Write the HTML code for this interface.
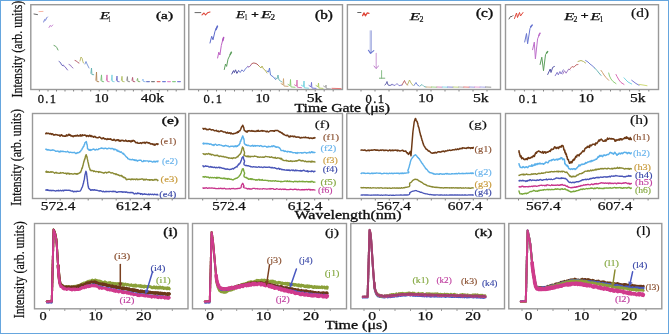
<!DOCTYPE html>
<html><head><meta charset="utf-8"><style>
html,body{margin:0;padding:0;background:#fff;}
#w{position:relative;width:669px;height:334px;overflow:hidden;background:#fff;}
svg text{font-family:"Liberation Serif",serif;}
</style></head><body><div id="w">
<svg style="will-change:transform" width="669" height="334" viewBox="0 0 669 334">
<rect x="0.5" y="0.5" width="668" height="333" fill="#fff" stroke="#66a6de" stroke-width="1"/>
<rect x="30.80" y="4.70" width="153.70" height="84.80" fill="none" stroke="#999999" stroke-width="1.4"/>
<rect x="188.80" y="4.70" width="153.70" height="84.80" fill="none" stroke="#999999" stroke-width="1.4"/>
<rect x="347.40" y="4.70" width="153.10" height="84.80" fill="none" stroke="#999999" stroke-width="1.4"/>
<rect x="505.50" y="4.70" width="153.00" height="84.80" fill="none" stroke="#999999" stroke-width="1.4"/>
<rect x="32.50" y="113.50" width="153.00" height="85.00" fill="none" stroke="#999999" stroke-width="1.4"/>
<rect x="188.80" y="113.50" width="153.70" height="85.00" fill="none" stroke="#999999" stroke-width="1.4"/>
<rect x="346.80" y="113.50" width="153.70" height="85.00" fill="none" stroke="#999999" stroke-width="1.4"/>
<rect x="505.50" y="113.50" width="153.00" height="85.00" fill="none" stroke="#999999" stroke-width="1.4"/>
<rect x="34.50" y="223.50" width="153.50" height="85.30" fill="none" stroke="#999999" stroke-width="1.4"/>
<rect x="192.50" y="223.50" width="154.00" height="85.30" fill="none" stroke="#999999" stroke-width="1.4"/>
<rect x="350.80" y="223.50" width="153.70" height="85.30" fill="none" stroke="#999999" stroke-width="1.4"/>
<rect x="508.80" y="223.50" width="153.00" height="85.30" fill="none" stroke="#999999" stroke-width="1.4"/>
<path d="M39.4,90.0v1.5 M48.0,90.0v1.5 M56.5,90.0v1.5 M65.0,90.0v1.5 M73.6,90.0v1.5 M82.1,90.0v1.5 M90.7,90.0v1.5 M99.2,90.0v1.5 M107.8,90.0v1.5 M116.3,90.0v1.5 M124.9,90.0v1.5 M133.4,90.0v1.5 M142.0,90.0v1.5 M150.6,90.0v1.5 M159.1,90.0v1.5 M167.7,90.0v1.5 M176.2,90.0v1.5" stroke="#777" stroke-width="0.9"/>
<path d="M198.6,90.0v1.5 M207.6,90.0v1.5 M216.5,90.0v1.5 M225.5,90.0v1.5 M234.5,90.0v1.5 M243.4,90.0v1.5 M252.4,90.0v1.5 M261.4,90.0v1.5 M270.4,90.0v1.5 M279.3,90.0v1.5 M288.3,90.0v1.5 M297.3,90.0v1.5 M306.2,90.0v1.5 M315.2,90.0v1.5 M324.2,90.0v1.5 M333.2,90.0v1.5" stroke="#777" stroke-width="0.9"/>
<path d="M361.0,90.0v1.5 M375.0,90.0v1.5 M389.0,90.0v1.5 M403.0,90.0v1.5 M417.0,90.0v1.5 M431.0,90.0v1.5 M445.0,90.0v1.5 M459.0,90.0v1.5 M473.0,90.0v1.5 M487.0,90.0v1.5" stroke="#777" stroke-width="0.9"/>
<path d="M514.8,90.0v1.5 M524.4,90.0v1.5 M533.9,90.0v1.5 M543.5,90.0v1.5 M553.1,90.0v1.5 M562.7,90.0v1.5 M572.2,90.0v1.5 M581.8,90.0v1.5 M591.4,90.0v1.5 M600.9,90.0v1.5 M610.5,90.0v1.5 M620.1,90.0v1.5 M629.6,90.0v1.5 M639.2,90.0v1.5 M648.8,90.0v1.5" stroke="#777" stroke-width="0.9"/>
<path d="M46.2,199.0v1.5 M60.2,199.0v1.5 M74.2,199.0v1.5 M88.2,199.0v1.5 M102.2,199.0v1.5 M116.2,199.0v1.5 M130.2,199.0v1.5 M144.2,199.0v1.5 M158.2,199.0v1.5 M172.2,199.0v1.5" stroke="#777" stroke-width="0.9"/>
<path d="M202.7,199.0v1.5 M216.7,199.0v1.5 M230.7,199.0v1.5 M244.7,199.0v1.5 M258.7,199.0v1.5 M272.7,199.0v1.5 M286.7,199.0v1.5 M300.7,199.0v1.5 M314.7,199.0v1.5 M328.7,199.0v1.5" stroke="#777" stroke-width="0.9"/>
<path d="M361.3,199.0v1.5 M375.3,199.0v1.5 M389.3,199.0v1.5 M403.3,199.0v1.5 M417.3,199.0v1.5 M431.3,199.0v1.5 M445.3,199.0v1.5 M459.3,199.0v1.5 M473.3,199.0v1.5 M487.3,199.0v1.5" stroke="#777" stroke-width="0.9"/>
<path d="M518.5,199.0v1.5 M532.9,199.0v1.5 M547.3,199.0v1.5 M561.7,199.0v1.5 M576.1,199.0v1.5 M590.5,199.0v1.5 M604.9,199.0v1.5 M619.3,199.0v1.5 M633.7,199.0v1.5 M648.1,199.0v1.5" stroke="#777" stroke-width="0.9"/>
<path d="M49.5,309.3v1.5 M64.8,309.3v1.5 M80.2,309.3v1.5 M95.5,309.3v1.5 M110.9,309.3v1.5 M126.2,309.3v1.5 M141.6,309.3v1.5 M156.9,309.3v1.5 M172.3,309.3v1.5" stroke="#777" stroke-width="0.9"/>
<path d="M205.5,309.3v1.5 M221.1,309.3v1.5 M236.7,309.3v1.5 M252.3,309.3v1.5 M267.9,309.3v1.5 M283.5,309.3v1.5 M299.1,309.3v1.5 M314.7,309.3v1.5 M330.3,309.3v1.5" stroke="#777" stroke-width="0.9"/>
<path d="M364.0,309.3v1.5 M379.5,309.3v1.5 M395.0,309.3v1.5 M410.5,309.3v1.5 M426.0,309.3v1.5 M441.5,309.3v1.5 M457.0,309.3v1.5 M472.5,309.3v1.5 M488.0,309.3v1.5" stroke="#777" stroke-width="0.9"/>
<path d="M522.0,309.3v1.5 M537.5,309.3v1.5 M553.0,309.3v1.5 M568.5,309.3v1.5 M584.0,309.3v1.5 M599.5,309.3v1.5 M615.0,309.3v1.5 M630.5,309.3v1.5 M646.0,309.3v1.5" stroke="#777" stroke-width="0.9"/>
<text x="37.7" y="102.6" font-size="12.5" font-weight="normal" font-style="normal" fill="#111" stroke="#111" stroke-width="0.3" textLength="18.4" lengthAdjust="spacing">0.1</text>
<text x="94.5" y="102.0" font-size="12.5" font-weight="normal" font-style="normal" fill="#111" stroke="#111" stroke-width="0.25" textLength="14.2" lengthAdjust="spacingAndGlyphs">10</text>
<text x="140.8" y="102.0" font-size="12.5" font-weight="normal" font-style="normal" fill="#111" stroke="#111" stroke-width="0.25" textLength="23.2" lengthAdjust="spacingAndGlyphs">40k</text>
<text x="203.4" y="102.6" font-size="12.5" font-weight="normal" font-style="normal" fill="#111" stroke="#111" stroke-width="0.3" textLength="18.5" lengthAdjust="spacing">0.1</text>
<text x="255.4" y="102.0" font-size="12.5" font-weight="normal" font-style="normal" fill="#111" stroke="#111" stroke-width="0.25" textLength="14.3" lengthAdjust="spacingAndGlyphs">10</text>
<text x="306.8" y="102.0" font-size="12.5" font-weight="normal" font-style="normal" fill="#111" stroke="#111" stroke-width="0.25" textLength="15.6" lengthAdjust="spacingAndGlyphs">5k</text>
<text x="365.6" y="102.6" font-size="12.5" font-weight="normal" font-style="normal" fill="#111" stroke="#111" stroke-width="0.3" textLength="18.5" lengthAdjust="spacing">0.1</text>
<text x="418.0" y="102.0" font-size="12.5" font-weight="normal" font-style="normal" fill="#111" stroke="#111" stroke-width="0.25" textLength="15.7" lengthAdjust="spacingAndGlyphs">10</text>
<text x="473.0" y="102.0" font-size="12.5" font-weight="normal" font-style="normal" fill="#111" stroke="#111" stroke-width="0.25" textLength="15.7" lengthAdjust="spacingAndGlyphs">5k</text>
<text x="518.8" y="102.6" font-size="12.5" font-weight="normal" font-style="normal" fill="#111" stroke="#111" stroke-width="0.3" textLength="18.5" lengthAdjust="spacing">0.1</text>
<text x="578.6" y="102.0" font-size="12.5" font-weight="normal" font-style="normal" fill="#111" stroke="#111" stroke-width="0.25" textLength="15.4" lengthAdjust="spacingAndGlyphs">10</text>
<text x="630.0" y="102.0" font-size="12.5" font-weight="normal" font-style="normal" fill="#111" stroke="#111" stroke-width="0.25" textLength="15.5" lengthAdjust="spacingAndGlyphs">5k</text>
<text x="40.8" y="209.6" font-size="12.5" font-weight="normal" font-style="normal" fill="#111" stroke="#111" stroke-width="0.25" textLength="34.6" lengthAdjust="spacingAndGlyphs">572.4</text>
<text x="116.0" y="209.6" font-size="12.5" font-weight="normal" font-style="normal" fill="#111" stroke="#111" stroke-width="0.25" textLength="34.8" lengthAdjust="spacingAndGlyphs">612.4</text>
<text x="212.3" y="209.6" font-size="12.5" font-weight="normal" font-style="normal" fill="#111" stroke="#111" stroke-width="0.25" textLength="33.5" lengthAdjust="spacingAndGlyphs">572.4</text>
<text x="287.7" y="209.6" font-size="12.5" font-weight="normal" font-style="normal" fill="#111" stroke="#111" stroke-width="0.25" textLength="34.7" lengthAdjust="spacingAndGlyphs">612.4</text>
<text x="376.6" y="209.6" font-size="12.5" font-weight="normal" font-style="normal" fill="#111" stroke="#111" stroke-width="0.25" textLength="34.4" lengthAdjust="spacingAndGlyphs">567.4</text>
<text x="447.8" y="209.6" font-size="12.5" font-weight="normal" font-style="normal" fill="#111" stroke="#111" stroke-width="0.25" textLength="34.7" lengthAdjust="spacingAndGlyphs">607.4</text>
<text x="526.0" y="209.6" font-size="12.5" font-weight="normal" font-style="normal" fill="#111" stroke="#111" stroke-width="0.25" textLength="34.6" lengthAdjust="spacingAndGlyphs">567.4</text>
<text x="597.7" y="209.6" font-size="12.5" font-weight="normal" font-style="normal" fill="#111" stroke="#111" stroke-width="0.25" textLength="34.7" lengthAdjust="spacingAndGlyphs">607.4</text>
<text x="39.4" y="320.0" font-size="12.5" font-weight="normal" font-style="normal" fill="#111" stroke="#111" stroke-width="0.25" textLength="7.2" lengthAdjust="spacingAndGlyphs">0</text>
<text x="88.4" y="320.0" font-size="12.5" font-weight="normal" font-style="normal" fill="#111" stroke="#111" stroke-width="0.25" textLength="14.4" lengthAdjust="spacingAndGlyphs">10</text>
<text x="136.0" y="320.0" font-size="12.5" font-weight="normal" font-style="normal" fill="#111" stroke="#111" stroke-width="0.25" textLength="15.6" lengthAdjust="spacingAndGlyphs">20</text>
<text x="206.3" y="320.0" font-size="12.5" font-weight="normal" font-style="normal" fill="#111" stroke="#111" stroke-width="0.25" textLength="7.7" lengthAdjust="spacingAndGlyphs">0</text>
<text x="255.8" y="320.0" font-size="12.5" font-weight="normal" font-style="normal" fill="#111" stroke="#111" stroke-width="0.25" textLength="15.5" lengthAdjust="spacingAndGlyphs">10</text>
<text x="303.0" y="320.0" font-size="12.5" font-weight="normal" font-style="normal" fill="#111" stroke="#111" stroke-width="0.25" textLength="16.0" lengthAdjust="spacingAndGlyphs">20</text>
<text x="368.3" y="320.0" font-size="12.5" font-weight="normal" font-style="normal" fill="#111" stroke="#111" stroke-width="0.25" textLength="7.9" lengthAdjust="spacingAndGlyphs">0</text>
<text x="417.4" y="320.0" font-size="12.5" font-weight="normal" font-style="normal" fill="#111" stroke="#111" stroke-width="0.25" textLength="15.6" lengthAdjust="spacingAndGlyphs">10</text>
<text x="465.2" y="320.0" font-size="12.5" font-weight="normal" font-style="normal" fill="#111" stroke="#111" stroke-width="0.25" textLength="15.6" lengthAdjust="spacingAndGlyphs">20</text>
<text x="524.7" y="320.0" font-size="12.5" font-weight="normal" font-style="normal" fill="#111" stroke="#111" stroke-width="0.25" textLength="7.6" lengthAdjust="spacingAndGlyphs">0</text>
<text x="573.7" y="320.0" font-size="12.5" font-weight="normal" font-style="normal" fill="#111" stroke="#111" stroke-width="0.25" textLength="15.6" lengthAdjust="spacingAndGlyphs">10</text>
<text x="621.3" y="320.0" font-size="12.5" font-weight="normal" font-style="normal" fill="#111" stroke="#111" stroke-width="0.25" textLength="15.8" lengthAdjust="spacingAndGlyphs">20</text>
<text x="294.5" y="111.5" font-size="11.5" font-weight="normal" font-style="normal" fill="#111" stroke="#111" stroke-width="0.3" textLength="95.5" lengthAdjust="spacingAndGlyphs">Time Gate (μs)</text>
<text x="294.5" y="218.5" font-size="11.5" font-weight="normal" font-style="normal" fill="#111" stroke="#111" stroke-width="0.3" textLength="107.0" lengthAdjust="spacingAndGlyphs">Wavelength(nm)</text>
<text x="325.0" y="328.8" font-size="11.5" font-weight="normal" font-style="normal" fill="#111" stroke="#111" stroke-width="0.3" textLength="62.5" lengthAdjust="spacingAndGlyphs">Time (μs)</text>
<g transform="translate(22.3,97.4) rotate(-90) scale(1,1.25)"><text x="0" y="0" font-size="11.7" fill="#111" stroke="#111" stroke-width="0.2" textLength="96.7" lengthAdjust="spacingAndGlyphs">Intensity (arb. units)</text></g>
<g transform="translate(20.6,205.7) rotate(-90) scale(1,1.25)"><text x="0" y="0" font-size="11.7" fill="#111" stroke="#111" stroke-width="0.2" textLength="96.6" lengthAdjust="spacingAndGlyphs">Intensity (arb. units)</text></g>
<g transform="translate(24.1,318.3) rotate(-90) scale(1,1.25)"><text x="0" y="0" font-size="11.7" fill="#111" stroke="#111" stroke-width="0.2" textLength="97.1" lengthAdjust="spacingAndGlyphs">Intensity (arb. units)</text></g>
<text x="156.0" y="19.1" font-size="11.32" font-weight="normal" font-style="normal" fill="#111" stroke="#111" stroke-width="0.4" textLength="17.0" lengthAdjust="spacingAndGlyphs">(a)</text>
<text x="315.1" y="19.0" font-size="11.65" font-weight="normal" font-style="normal" fill="#111" stroke="#111" stroke-width="0.4" textLength="17.7" lengthAdjust="spacingAndGlyphs">(b)</text>
<text x="476.0" y="16.9" font-size="11.98" font-weight="normal" font-style="normal" fill="#111" stroke="#111" stroke-width="0.4" textLength="17.0" lengthAdjust="spacingAndGlyphs">(c)</text>
<text x="631.1" y="16.8" font-size="12.31" font-weight="normal" font-style="normal" fill="#111" stroke="#111" stroke-width="0.2" textLength="17.9" lengthAdjust="spacingAndGlyphs">(d)</text>
<text x="161.8" y="124.1" font-size="11.21" font-weight="normal" font-style="normal" fill="#111" stroke="#111" stroke-width="0.4" textLength="17.2" lengthAdjust="spacingAndGlyphs">(e)</text>
<text x="314.7" y="127.7" font-size="10.55" font-weight="normal" font-style="normal" fill="#111" stroke="#111" stroke-width="0.15" textLength="15.0" lengthAdjust="spacingAndGlyphs">(f)</text>
<text x="468.8" y="128.1" font-size="11.1" font-weight="normal" font-style="normal" fill="#111" stroke="#111" stroke-width="0.15" textLength="18.1" lengthAdjust="spacingAndGlyphs">(g)</text>
<text x="630.1" y="124.2" font-size="11.54" font-weight="normal" font-style="normal" fill="#111" stroke="#111" stroke-width="0.15" textLength="18.1" lengthAdjust="spacingAndGlyphs">(h)</text>
<text x="163.3" y="235.7" font-size="11.43" font-weight="normal" font-style="normal" fill="#111" stroke="#111" stroke-width="0.35" textLength="14.4" lengthAdjust="spacingAndGlyphs">(i)</text>
<text x="324.9" y="235.7" font-size="11.32" font-weight="normal" font-style="normal" fill="#111" stroke="#111" stroke-width="0.25" textLength="14.1" lengthAdjust="spacingAndGlyphs">(j)</text>
<text x="474.6" y="235.7" font-size="11.32" font-weight="normal" font-style="normal" fill="#111" stroke="#111" stroke-width="0.35" textLength="17.7" lengthAdjust="spacingAndGlyphs">(k)</text>
<text x="636.3" y="234.9" font-size="11.98" font-weight="normal" font-style="normal" fill="#111" stroke="#111" stroke-width="0.15" textLength="14.4" lengthAdjust="spacingAndGlyphs">(l)</text>
<text x="100.0" y="19.3" font-size="10.5" font-weight="normal" font-style="italic" fill="#111" stroke="#111" stroke-width="0.25" textLength="9.6" lengthAdjust="spacingAndGlyphs">E</text>
<text x="108.6" y="21.6" font-size="7.4" font-weight="normal" font-style="normal" fill="#111" stroke="#111" stroke-width="0.2" textLength="2.3" lengthAdjust="spacingAndGlyphs">1</text>
<text x="236.0" y="17.6" font-size="10.5" font-weight="normal" font-style="italic" fill="#111" stroke="#111" stroke-width="0.25" textLength="9.0" lengthAdjust="spacingAndGlyphs">E</text>
<text x="244.6" y="19.6" font-size="7.4" font-weight="normal" font-style="normal" fill="#111" stroke="#111" stroke-width="0.2" textLength="3.0" lengthAdjust="spacingAndGlyphs">1</text>
<text x="251.2" y="17.6" font-size="10.5" font-weight="normal" font-style="normal" fill="#111" stroke="#111" stroke-width="0.45" textLength="7.5" lengthAdjust="spacingAndGlyphs">+</text>
<text x="261.0" y="17.6" font-size="10.5" font-weight="normal" font-style="italic" fill="#111" stroke="#111" stroke-width="0.25" textLength="10.4" lengthAdjust="spacingAndGlyphs">E</text>
<text x="270.6" y="19.8" font-size="7.4" font-weight="normal" font-style="normal" fill="#111" stroke="#111" stroke-width="0.2" textLength="4.6" lengthAdjust="spacingAndGlyphs">2</text>
<text x="409.8" y="20.2" font-size="10.5" font-weight="normal" font-style="italic" fill="#111" stroke="#111" stroke-width="0.25" textLength="10.4" lengthAdjust="spacingAndGlyphs">E</text>
<text x="419.4" y="22.2" font-size="7.4" font-weight="normal" font-style="normal" fill="#111" stroke="#111" stroke-width="0.2" textLength="4.0" lengthAdjust="spacingAndGlyphs">2</text>
<text x="564.3" y="19.5" font-size="10.5" font-weight="normal" font-style="italic" fill="#111" stroke="#111" stroke-width="0.25" textLength="10.0" lengthAdjust="spacingAndGlyphs">E</text>
<text x="573.5" y="21.6" font-size="7.4" font-weight="normal" font-style="normal" fill="#111" stroke="#111" stroke-width="0.2" textLength="3.9" lengthAdjust="spacingAndGlyphs">2</text>
<text x="580.8" y="19.2" font-size="10.5" font-weight="normal" font-style="normal" fill="#111" stroke="#111" stroke-width="0.45" textLength="7.8" lengthAdjust="spacingAndGlyphs">+</text>
<text x="590.4" y="19.5" font-size="10.5" font-weight="normal" font-style="italic" fill="#111" stroke="#111" stroke-width="0.25" textLength="10.0" lengthAdjust="spacingAndGlyphs">E</text>
<text x="599.6" y="21.6" font-size="7.4" font-weight="normal" font-style="normal" fill="#111" stroke="#111" stroke-width="0.2" textLength="3.9" lengthAdjust="spacingAndGlyphs">1</text>
<polyline points="34.0,14.0 37.5,14.6" fill="none" stroke="#494949" stroke-width="0.85" stroke-linejoin="round" stroke-linecap="round"/>
<polyline points="39.0,11.6 43.0,11.4" fill="none" stroke="#f29f89" stroke-width="0.77" stroke-linejoin="round" stroke-linecap="round"/>
<polyline points="43.7,22.0 44.6,19.5 45.5,20.3 46.5,18.0 47.5,17.0" fill="none" stroke="#6a77d1" stroke-width="0.94" stroke-linejoin="round" stroke-linecap="round"/>
<polyline points="49.0,27.5 50.3,25.4 51.3,26.6 52.7,25.0" fill="none" stroke="#be6fcb" stroke-width="0.85" stroke-linejoin="round" stroke-linecap="round"/>
<polyline points="54.0,45.5 55.6,46.2 56.8,47.6 58.0,50.0" fill="none" stroke="#5d9f5d" stroke-width="0.94" stroke-linejoin="round" stroke-linecap="round"/>
<polyline points="59.0,61.5 60.5,62.5 61.5,64.8 63.0,65.8" fill="none" stroke="#5d5db7" stroke-width="0.94" stroke-linejoin="round" stroke-linecap="round"/>
<polyline points="63.2,65.0 64.8,66.5 66.0,68.0 67.5,70.0" fill="none" stroke="#7762be" stroke-width="0.94" stroke-linejoin="round" stroke-linecap="round"/>
<polyline points="69.0,64.5 70.5,65.2 71.5,66.8 73.0,68.0" fill="none" stroke="#8962b7" stroke-width="0.85" stroke-linejoin="round" stroke-linecap="round"/>
<polyline points="75.0,60.5 76.5,61.0 77.8,62.5 79.0,63.0" fill="none" stroke="#b15562" stroke-width="0.94" stroke-linejoin="round" stroke-linecap="round"/>
<polyline points="80.0,61.0 81.0,57.0 82.2,58.5 82.8,61.5 83.5,63.0" fill="none" stroke="#b1b155" stroke-width="0.85" stroke-linejoin="round" stroke-linecap="round"/>
<polyline points="85.0,64.0 86.0,61.5 87.0,64.0 88.0,66.0 89.0,68.0" fill="none" stroke="#6a89d1" stroke-width="0.85" stroke-linejoin="round" stroke-linecap="round"/>
<polyline points="90.9,73.3 91.5,68.0 91.9,74.5 93.7,74.7" fill="none" stroke="#62b1b1" stroke-width="0.9" stroke-linejoin="round" stroke-linecap="round"/>
<polyline points="95.9,80.3 96.5,72.0 96.9,81.5 98.7,81.7" fill="none" stroke="#b18455" stroke-width="0.9" stroke-linejoin="round" stroke-linecap="round"/>
<polyline points="100.9,80.3 101.5,74.9 101.9,81.5 103.7,81.7" fill="none" stroke="#76be76" stroke-width="0.9" stroke-linejoin="round" stroke-linecap="round"/>
<polyline points="106.4,80.3 107.0,74.9 107.4,81.5 109.2,81.7" fill="none" stroke="#d86fb1" stroke-width="0.9" stroke-linejoin="round" stroke-linecap="round"/>
<polyline points="111.4,80.3 112.0,74.9 112.4,81.5 114.2,81.7" fill="none" stroke="#7cd1df" stroke-width="0.9" stroke-linejoin="round" stroke-linecap="round"/>
<polyline points="116.4,80.3 117.0,76.0 117.4,81.5 119.2,81.7" fill="none" stroke="#6f6fcb" stroke-width="0.9" stroke-linejoin="round" stroke-linecap="round"/>
<polyline points="121.4,80.3 122.0,76.3 122.4,81.5 124.2,81.7" fill="none" stroke="#b1be62" stroke-width="0.9" stroke-linejoin="round" stroke-linecap="round"/>
<polyline points="126.8,80.3 127.4,76.6 127.8,81.5 129.6,81.7" fill="none" stroke="#898989" stroke-width="0.9" stroke-linejoin="round" stroke-linecap="round"/>
<polyline points="132.0,80.3 132.6,77.4 133.0,81.5 134.8,81.7" fill="none" stroke="#b1556f" stroke-width="0.9" stroke-linejoin="round" stroke-linecap="round"/>
<polyline points="137.0,80.3 137.6,78.4 138.0,81.5 139.8,81.7" fill="none" stroke="#7cb162" stroke-width="0.9" stroke-linejoin="round" stroke-linecap="round"/>
<polyline points="142.4,80.3 143.0,79.1 143.4,81.5 145.2,81.7" fill="none" stroke="#89b7ec" stroke-width="0.9" stroke-linejoin="round" stroke-linecap="round"/>
<polyline points="146.6,81.6 149.4,81.6" fill="none" stroke="#6f7ccb" stroke-width="1.1" stroke-linejoin="round" stroke-linecap="round"/>
<polyline points="151.6,81.6 154.4,81.6" fill="none" stroke="#7c7c7c" stroke-width="1.1" stroke-linejoin="round" stroke-linecap="round"/>
<polyline points="157.2,81.6 160.0,81.6" fill="none" stroke="#e56f6f" stroke-width="1.1" stroke-linejoin="round" stroke-linecap="round"/>
<polyline points="162.6,81.6 165.4,81.6" fill="none" stroke="#6f7cd8" stroke-width="1.1" stroke-linejoin="round" stroke-linecap="round"/>
<polyline points="167.6,81.6 170.4,81.6" fill="none" stroke="#e589cb" stroke-width="1.1" stroke-linejoin="round" stroke-linecap="round"/>
<polyline points="172.6,81.6 175.4,81.6" fill="none" stroke="#89cb89" stroke-width="1.1" stroke-linejoin="round" stroke-linecap="round"/>
<polyline points="177.6,81.6 180.4,81.6" fill="none" stroke="#7c7cd8" stroke-width="1.1" stroke-linejoin="round" stroke-linecap="round"/>
<polyline points="195.0,12.6 200.8,12.6" fill="none" stroke="#494949" stroke-width="0.85" stroke-linejoin="round" stroke-linecap="round"/>
<polyline points="202.0,14.8 204.0,13.0 205.5,15.0 207.5,12.8 210.0,12.0" fill="none" stroke="#df483b" stroke-width="1.1" stroke-linejoin="round" stroke-linecap="round"/>
<polyline points="210.0,43.0 211.7,36.3 213.0,39.8 215.0,31.2 216.8,27.2" fill="none" stroke="#5d6acb" stroke-width="1.0" stroke-linejoin="round" stroke-linecap="round"/>
<polyline points="216.0,29.5 217.4,26.2" fill="none" stroke="#5d6acb" stroke-width="1.6" stroke-linejoin="round" stroke-linecap="round"/>
<polyline points="217.6,58.0 218.8,52.2 219.9,55.0 221.3,45.5 223.1,38.6" fill="none" stroke="#be62c4" stroke-width="1.0" stroke-linejoin="round" stroke-linecap="round"/>
<polyline points="222.8,40.5 223.6,37.6" fill="none" stroke="#b155be" stroke-width="1.6" stroke-linejoin="round" stroke-linecap="round"/>
<polyline points="224.3,69.5 225.5,64.0 226.6,66.4 228.0,59.2 231.0,53.0" fill="none" stroke="#5d9f5d" stroke-width="1.0" stroke-linejoin="round" stroke-linecap="round"/>
<polyline points="230.2,54.5 231.4,52.2" fill="none" stroke="#5d9f5d" stroke-width="1.5" stroke-linejoin="round" stroke-linecap="round"/>
<polyline points="231.8,74.0 233.5,70.6 234.4,72.6 235.5,69.8 236.9,73.4 238.6,70.6" fill="none" stroke="#5050a3" stroke-width="1.0" stroke-linejoin="round" stroke-linecap="round"/>
<polyline points="238.6,70.6 240.2,72.5 241.9,69.8 243.6,71.6 245.3,69.0 247.8,66.5" fill="none" stroke="#6f7cd1" stroke-width="0.95" stroke-linejoin="round" stroke-linecap="round"/>
<polyline points="247.8,66.5 249.0,67.2 251.0,65.0" fill="none" stroke="#9662b1" stroke-width="0.95" stroke-linejoin="round" stroke-linecap="round"/>
<polyline points="251.0,64.5 253.0,63.0 255.0,63.2 257.0,64.0 259.0,66.0" fill="none" stroke="#b15555" stroke-width="0.94" stroke-linejoin="round" stroke-linecap="round"/>
<polyline points="259.0,66.0 261.0,68.0 262.0,66.0 263.5,69.0 265.0,70.0 267.0,73.0" fill="none" stroke="#b1b155" stroke-width="0.94" stroke-linejoin="round" stroke-linecap="round"/>
<polyline points="267.0,71.0 268.5,72.0 269.5,68.0 270.5,75.0 272.0,76.0 273.5,77.0 275.5,79.5" fill="none" stroke="#5d77d1" stroke-width="0.94" stroke-linejoin="round" stroke-linecap="round"/>
<polyline points="275.5,78.0 277.0,79.0 278.0,75.0 279.0,80.0 282.0,82.0" fill="none" stroke="#62b1b1" stroke-width="0.85" stroke-linejoin="round" stroke-linecap="round"/>
<polyline points="281.0,83.5 283.0,84.8 283.5,78.6 283.9,86.0 288.0,86.4" fill="none" stroke="#cba36f" stroke-width="0.9" stroke-linejoin="round" stroke-linecap="round"/>
<polyline points="288.0,84.4 290.0,85.7 290.5,79.5 290.9,86.9 295.0,87.3" fill="none" stroke="#89cb6f" stroke-width="0.9" stroke-linejoin="round" stroke-linecap="round"/>
<polyline points="294.5,84.8 296.5,86.1 297.0,80.0 297.4,87.3 301.5,87.7" fill="none" stroke="#d86fb1" stroke-width="0.9" stroke-linejoin="round" stroke-linecap="round"/>
<polyline points="301.5,85.3 303.5,86.6 304.0,81.0 304.4,87.8 308.5,88.2" fill="none" stroke="#6fd1df" stroke-width="0.9" stroke-linejoin="round" stroke-linecap="round"/>
<polyline points="309.0,85.5 311.0,86.8 311.5,82.4 311.9,88.0 316.0,88.4" fill="none" stroke="#6f6fd1" stroke-width="0.9" stroke-linejoin="round" stroke-linecap="round"/>
<polyline points="316.0,85.5 318.0,86.8 318.5,83.0 318.9,88.0 323.0,88.4" fill="none" stroke="#b1cb62" stroke-width="0.9" stroke-linejoin="round" stroke-linecap="round"/>
<polyline points="323.5,86.0 325.5,87.3 326.0,85.0 326.4,88.5 330.5,88.9" fill="none" stroke="#a3a3a3" stroke-width="0.9" stroke-linejoin="round" stroke-linecap="round"/>
<polyline points="332.0,88.3 341.0,88.6" fill="none" stroke="#e56262" stroke-width="0.85" stroke-linejoin="round" stroke-linecap="round"/>
<polyline points="357.7,12.5 361.0,12.5" fill="none" stroke="#494949" stroke-width="0.85" stroke-linejoin="round" stroke-linecap="round"/>
<polyline points="362.6,15.6 364.0,12.9 365.4,15.8 367.3,12.9 369.0,13.4" fill="none" stroke="#df483b" stroke-width="1.3" stroke-linejoin="round" stroke-linecap="round"/>
<polyline points="370.2,30.8 370.2,52.8" fill="none" stroke="#acb4e2" stroke-width="1.0" stroke-linejoin="round" stroke-linecap="round"/>
<polyline points="371.3,30.8 371.3,52.8" fill="none" stroke="#9fa8df" stroke-width="1.0" stroke-linejoin="round" stroke-linecap="round"/>
<polyline points="368.4,50.3 370.6,53.4 373.8,50.6" fill="none" stroke="#6a77d1" stroke-width="1.1" stroke-linejoin="round" stroke-linecap="round"/>
<polyline points="376.2,53.4 376.2,68.3" fill="none" stroke="#d1a3d8" stroke-width="1.1" stroke-linejoin="round" stroke-linecap="round"/>
<polyline points="374.0,66.0 376.0,68.5 378.6,66.0" fill="none" stroke="#be7ccb" stroke-width="1.0" stroke-linejoin="round" stroke-linecap="round"/>
<polyline points="381.6,70.6 381.6,78.2" fill="none" stroke="#89be89" stroke-width="1.0" stroke-linejoin="round" stroke-linecap="round"/>
<polyline points="379.4,78.2 384.8,78.2" fill="none" stroke="#7cb17c" stroke-width="1.0" stroke-linejoin="round" stroke-linecap="round"/>
<polyline points="384.8,85.0 386.0,84.0 387.0,81.5 388.0,85.0 390.0,85.5 392.0,84.5" fill="none" stroke="#5050a3" stroke-width="0.85" stroke-linejoin="round" stroke-linecap="round"/>
<polyline points="392.0,84.5 395.0,85.5 397.0,83.5 399.0,85.7 402.0,85.0" fill="none" stroke="#776fcb" stroke-width="0.85" stroke-linejoin="round" stroke-linecap="round"/>
<polyline points="402.0,85.0 404.5,80.5 405.5,83.0 407.4,85.0" fill="none" stroke="#b15555" stroke-width="0.85" stroke-linejoin="round" stroke-linecap="round"/>
<polyline points="407.4,85.0 409.5,80.0 411.0,83.0 413.0,85.5" fill="none" stroke="#b1b155" stroke-width="0.85" stroke-linejoin="round" stroke-linecap="round"/>
<polyline points="414.0,85.5 416.0,82.5 417.0,84.5 419.0,86.0" fill="none" stroke="#5d77d1" stroke-width="0.85" stroke-linejoin="round" stroke-linecap="round"/>
<polyline points="420.0,86.0 422.0,84.5 424.0,86.5 426.0,87.0" fill="none" stroke="#62b1b1" stroke-width="0.85" stroke-linejoin="round" stroke-linecap="round"/>
<polyline points="426.0,87.0 431.4,87.2" fill="none" stroke="#cba36f" stroke-width="1.0" stroke-linejoin="round" stroke-linecap="round" opacity="0.8"/>
<polyline points="431.4,87.0 436.8,87.2" fill="none" stroke="#89cb6f" stroke-width="1.0" stroke-linejoin="round" stroke-linecap="round" opacity="0.8"/>
<polyline points="436.8,87.0 442.2,87.2" fill="none" stroke="#d86fb1" stroke-width="1.0" stroke-linejoin="round" stroke-linecap="round" opacity="0.8"/>
<polyline points="442.2,87.0 447.6,87.2" fill="none" stroke="#6fd1df" stroke-width="1.0" stroke-linejoin="round" stroke-linecap="round" opacity="0.8"/>
<polyline points="447.6,87.0 453.0,87.2" fill="none" stroke="#6f6fd1" stroke-width="1.0" stroke-linejoin="round" stroke-linecap="round" opacity="0.8"/>
<polyline points="453.0,87.0 458.4,87.2" fill="none" stroke="#b1cb62" stroke-width="1.0" stroke-linejoin="round" stroke-linecap="round" opacity="0.8"/>
<polyline points="458.4,87.0 463.8,87.2" fill="none" stroke="#a3a3a3" stroke-width="1.0" stroke-linejoin="round" stroke-linecap="round" opacity="0.8"/>
<polyline points="463.8,87.0 469.2,87.2" fill="none" stroke="#e56262" stroke-width="1.0" stroke-linejoin="round" stroke-linecap="round" opacity="0.8"/>
<polyline points="469.2,87.0 474.6,87.2" fill="none" stroke="#8989d8" stroke-width="1.0" stroke-linejoin="round" stroke-linecap="round" opacity="0.8"/>
<polyline points="474.6,87.0 480.0,87.2" fill="none" stroke="#e589cb" stroke-width="1.0" stroke-linejoin="round" stroke-linecap="round" opacity="0.8"/>
<polyline points="480.0,87.0 485.4,87.2" fill="none" stroke="#9696e5" stroke-width="1.0" stroke-linejoin="round" stroke-linecap="round" opacity="0.8"/>
<polyline points="485.4,87.0 490.8,87.2" fill="none" stroke="#7c7c7c" stroke-width="1.0" stroke-linejoin="round" stroke-linecap="round" opacity="0.8"/>
<polyline points="509.0,19.0 510.5,16.5 512.0,16.5 513.0,15.5" fill="none" stroke="#494949" stroke-width="0.85" stroke-linejoin="round" stroke-linecap="round"/>
<polyline points="514.5,18.5 516.5,13.0 517.5,17.5 519.5,12.5 520.5,16.0 523.0,12.5" fill="none" stroke="#df483b" stroke-width="1.0" stroke-linejoin="round" stroke-linecap="round"/>
<polyline points="524.7,42.0 526.5,33.5 527.6,43.8 530.0,28.5 532.2,25.0" fill="none" stroke="#6a77d1" stroke-width="1.0" stroke-linejoin="round" stroke-linecap="round"/>
<polyline points="530.6,27.0 532.0,25.2" fill="none" stroke="#6a77d1" stroke-width="1.5" stroke-linejoin="round" stroke-linecap="round"/>
<polyline points="532.6,49.7 534.3,42.1 535.4,58.9 537.6,38.8 539.8,33.7" fill="none" stroke="#be6fcb" stroke-width="1.0" stroke-linejoin="round" stroke-linecap="round"/>
<polyline points="538.8,35.5 540.0,33.2" fill="none" stroke="#be6fcb" stroke-width="1.5" stroke-linejoin="round" stroke-linecap="round"/>
<polyline points="540.1,64.5 541.8,57.2 543.5,70.7 545.5,54.7 547.4,51.8" fill="none" stroke="#5d9f5d" stroke-width="1.0" stroke-linejoin="round" stroke-linecap="round"/>
<polyline points="546.6,53.0 547.6,51.6" fill="none" stroke="#5d9f5d" stroke-width="1.5" stroke-linejoin="round" stroke-linecap="round"/>
<polyline points="547.7,74.5 550.2,69.0 551.0,72.5 552.7,67.3 554.4,66.5" fill="none" stroke="#5050a3" stroke-width="0.95" stroke-linejoin="round" stroke-linecap="round"/>
<polyline points="555.2,75.7 557.2,72.3 558.3,74.9 559.9,71.5 561.1,74.0 563.3,69.8" fill="none" stroke="#8477cb" stroke-width="0.95" stroke-linejoin="round" stroke-linecap="round"/>
<polyline points="562.8,74.0 564.5,70.7 566.1,73.2 568.7,69.0 570.0,69.8" fill="none" stroke="#966fbe" stroke-width="0.9" stroke-linejoin="round" stroke-linecap="round"/>
<polyline points="570.0,69.0 572.0,66.5 574.0,67.2 576.0,64.9 578.0,64.5" fill="none" stroke="#be6262" stroke-width="0.9" stroke-linejoin="round" stroke-linecap="round"/>
<polyline points="578.0,61.5 581.0,60.5 583.5,61.5 585.6,63.0" fill="none" stroke="#b1b155" stroke-width="0.94" stroke-linejoin="round" stroke-linecap="round"/>
<polyline points="585.6,60.5 588.0,62.0 590.0,64.0 592.0,65.5 594.7,68.0" fill="none" stroke="#6a77d1" stroke-width="0.94" stroke-linejoin="round" stroke-linecap="round"/>
<polyline points="594.7,68.0 597.0,70.5 599.0,73.0 601.0,75.4" fill="none" stroke="#62b1b1" stroke-width="0.94" stroke-linejoin="round" stroke-linecap="round"/>
<polyline points="601.0,70.4 602.5,72.5 604.0,75.0 606.0,77.5 608.7,80.3" fill="none" stroke="#cb9662" stroke-width="0.94" stroke-linejoin="round" stroke-linecap="round"/>
<polyline points="608.7,73.0 609.5,76.0 611.0,79.0 613.0,81.5 616.0,83.6" fill="none" stroke="#89cb6f" stroke-width="0.94" stroke-linejoin="round" stroke-linecap="round"/>
<polyline points="616.0,74.5 617.0,76.5 619.0,80.0 621.0,82.5 624.0,84.4" fill="none" stroke="#d862b1" stroke-width="0.94" stroke-linejoin="round" stroke-linecap="round"/>
<polyline points="624.0,77.8 626.0,80.0 628.0,82.0 631.7,84.0" fill="none" stroke="#6fd1df" stroke-width="0.94" stroke-linejoin="round" stroke-linecap="round"/>
<polyline points="631.7,80.3 634.0,82.0 636.0,83.5 639.0,85.2" fill="none" stroke="#6f6fd1" stroke-width="0.94" stroke-linejoin="round" stroke-linecap="round"/>
<polyline points="639.0,84.4 643.0,85.0 647.0,85.7" fill="none" stroke="#cbd86f" stroke-width="0.94" stroke-linejoin="round" stroke-linecap="round"/>
<polyline points="45.8,133.7 46.1,133.2 46.5,133.0 47.0,133.6 47.5,133.4 48.1,133.5 48.7,133.3 49.3,133.7 49.9,133.9 50.6,133.5 51.3,134.3 52.0,133.8 52.8,134.0 53.5,134.9 54.2,134.9 55.0,134.9 55.7,134.5 56.4,134.7 56.9,134.8 57.5,135.0 58.1,135.2 58.6,135.2 59.2,135.1 59.8,135.9 60.4,136.0 61.0,134.9 61.6,134.7 62.2,135.4 62.8,136.1 63.5,135.9 64.1,136.2 64.7,136.0 65.3,136.1 65.9,136.2 66.5,134.9 67.2,135.8 67.8,135.7 68.4,134.6 69.0,134.3 69.6,135.2 70.2,134.9 70.8,135.9 71.4,135.6 72.0,136.3 72.6,136.1 73.2,136.6 73.8,136.0 74.4,135.7 75.0,136.1 75.6,135.5 76.2,135.6 76.8,136.0 77.4,135.2 78.0,135.6 78.6,136.0 79.2,135.9 79.8,135.6 80.4,134.8 81.0,136.1 81.6,135.8 82.2,134.8 82.8,135.6 83.4,135.2 84.0,135.2 84.6,135.0 85.2,135.3 85.8,135.3 86.4,136.5 87.0,135.6 87.6,135.7 88.2,136.2 88.8,136.5 89.4,135.3 90.0,135.4 90.6,136.3 91.2,135.7 91.8,136.6 92.4,136.2 93.0,136.7 93.6,137.2 94.2,136.6 94.8,136.4 95.4,136.9 96.0,137.5 96.6,137.5 97.2,137.8 97.9,137.8 98.5,137.5 99.1,137.1 99.7,137.0 100.3,137.5 101.0,138.1 101.6,138.6 102.2,138.6 102.8,138.0 103.4,137.9 104.0,138.5 104.7,139.0 105.3,138.9 105.9,138.9 106.5,139.4 107.1,139.4 107.8,138.7 108.4,139.2 109.0,139.3 109.6,139.0 110.2,139.1 110.8,138.8 111.4,139.8 112.0,139.8 112.6,140.3 113.2,140.2 113.8,139.4 114.4,139.5 115.0,140.4 115.6,140.8 116.2,140.3 116.9,139.8 117.5,139.8 118.1,140.4 118.7,139.9 119.3,141.1 119.9,140.6 120.5,141.1 121.1,140.3 121.7,140.6 122.3,140.5 122.9,140.3 123.5,140.7 124.0,141.1 124.6,140.9 125.1,140.9 125.7,140.2 126.2,140.7 126.7,141.1 127.2,141.1 127.8,141.4 128.3,140.9 128.9,140.9 129.4,141.2 130.0,140.8 130.6,141.7 131.2,141.7 131.9,140.7 132.5,141.2 133.2,140.4 134.0,140.7 134.7,141.3 135.5,142.4 136.0,142.7 136.5,142.7 137.1,142.4 137.6,142.8 138.2,143.3 138.9,143.2 139.5,143.2 140.2,142.9 140.8,142.9 141.5,143.4 142.2,142.7 142.9,142.5 143.6,142.8 144.3,142.3 145.1,143.3 145.8,142.5 146.5,142.2 147.2,142.7 147.9,142.6 148.6,143.1 149.3,142.8 150.0,143.5 150.7,144.0 151.4,144.0 152.0,143.7 152.7,144.3 153.3,144.7 153.9,144.0 154.5,145.1 155.0,144.4 155.5,144.8 156.0,144.2 156.5,143.9 156.9,143.7 157.3,143.9 157.7,144.4 158.0,144.0" fill="none" stroke="#6e3a16" stroke-width="1.6" stroke-linejoin="round" stroke-linecap="round"/>
<polyline points="45.8,149.3 46.1,149.0 46.5,149.7 47.0,149.6 47.5,150.1 48.0,149.5 48.6,150.0 49.2,150.2 49.9,150.0 50.5,150.5 51.2,150.1 51.9,150.4 52.7,149.8 53.4,150.0 54.1,150.4 54.8,150.5 55.6,151.4 56.3,151.4 57.0,151.0 57.6,151.2 58.3,151.1 58.9,151.9 59.5,151.4 60.0,152.0 60.7,151.0 61.4,151.5 62.1,151.2 62.8,151.6 63.4,151.3 64.1,151.6 64.7,151.6 65.3,151.6 65.9,152.0 66.4,151.9 67.0,151.6 67.5,151.3 68.1,151.9 68.6,152.0 69.1,152.6 69.6,152.5 70.4,152.1 71.1,152.3 71.8,152.5 72.5,152.7 73.1,152.5 73.8,152.6 74.4,152.3 74.9,152.7 75.5,153.3 76.0,153.6 76.7,153.2 77.3,152.5 77.9,153.0 78.5,152.6 79.0,152.6 79.5,151.8 80.0,152.0 80.4,151.2 80.8,151.1 81.2,150.1 81.6,149.9 82.0,149.3 82.3,148.3 82.7,147.9 83.0,147.7 83.3,146.5 83.6,146.7 83.9,146.1 84.1,145.2 84.4,144.3 84.7,144.1 84.9,142.8 85.1,142.5 85.3,142.5 85.9,141.9 86.3,141.6 86.5,142.0 86.7,143.3 86.9,144.4 87.1,144.4 87.3,145.9 87.4,146.1 87.4,146.6 87.4,147.2 87.5,148.5 87.8,148.9 88.4,149.4 88.8,150.0 89.2,150.3 89.7,149.5 90.3,150.5 90.8,149.6 91.5,150.1 92.1,149.7 92.8,149.2 93.6,149.0 94.3,149.4 95.2,150.1 96.0,149.5 96.5,149.2 97.0,149.6 97.6,149.7 98.2,149.5 98.8,148.8 99.4,148.9 100.0,148.6 100.7,148.4 101.3,147.9 102.0,148.4 102.6,148.3 103.3,148.8 104.0,148.3 104.6,148.5 105.3,148.2 105.9,148.1 106.6,148.9 107.2,148.8 107.8,148.9 108.4,148.1 109.0,148.1 109.7,148.3 110.3,148.5 111.0,148.8 111.6,148.5 112.3,148.5 112.9,148.7 113.6,149.7 114.2,149.1 114.8,149.8 115.4,149.3 116.0,149.7 116.6,150.1 117.2,151.0 117.7,150.2 118.3,151.5 118.8,151.2 119.2,151.3 119.7,151.9 120.5,152.4 121.1,151.7 121.7,152.4 122.2,153.0 122.7,153.5 123.2,153.9 123.6,153.3 124.0,154.5 124.5,154.8 125.0,155.2 125.4,155.9 125.8,156.4 126.2,156.7 126.6,157.2 127.0,157.5 127.4,157.4 127.8,158.7 128.2,158.9 128.7,159.0 129.3,159.2 130.0,159.7 130.4,159.5 130.9,159.7 131.4,159.7 131.9,159.6 132.4,159.2 132.9,159.9 133.5,159.7 134.1,160.2 134.6,159.7 135.2,160.6 135.9,160.0 136.5,160.2 137.2,161.2 137.9,160.4 138.6,160.6 139.3,160.2 140.0,160.2 140.8,160.2 141.3,160.5 141.9,161.5 142.5,161.6 143.1,161.6 143.7,160.5 144.4,161.1 145.1,160.8 145.7,161.0 146.5,160.9 147.2,160.9 147.9,161.0 148.6,161.7 149.4,161.0 150.1,161.4 150.8,161.3 151.5,161.4 152.2,162.0 152.9,162.1 153.5,161.3 154.2,161.8 154.8,161.2 155.3,162.1 155.9,161.5 156.4,161.5 156.9,161.1 157.3,161.4 157.7,161.8 158.0,161.0" fill="none" stroke="#5ab0ea" stroke-width="1.4" stroke-linejoin="round" stroke-linecap="round"/>
<polyline points="45.8,171.8 46.1,172.2 46.5,171.1 46.9,172.1 47.3,172.3 47.8,171.7 48.3,171.8 48.8,172.3 49.4,172.2 50.0,172.2 50.6,171.7 51.2,172.2 51.8,171.7 52.5,172.0 53.2,172.1 53.9,172.5 54.6,173.2 55.3,172.8 56.0,172.3 56.7,173.1 57.5,173.0 58.2,173.2 58.9,173.4 59.7,173.4 60.4,172.5 61.1,173.1 61.9,172.9 62.6,172.8 63.3,172.8 63.9,173.3 64.6,173.4 65.3,173.2 65.9,173.3 66.5,174.1 67.1,173.1 67.6,173.6 68.2,173.8 68.7,173.1 69.2,173.3 69.6,174.2 70.7,173.7 71.6,173.7 72.5,174.1 73.3,174.0 74.0,174.0 74.7,173.5 75.3,173.7 75.9,174.0 76.4,173.7 76.9,174.2 77.3,173.6 77.8,174.0 78.2,173.7 78.6,173.4 79.0,173.4 79.6,172.6 80.1,172.7 80.5,171.7 80.8,172.0 81.1,170.8 81.3,170.5 81.5,170.1 81.7,168.9 82.0,168.0 82.2,168.3 82.4,167.1 82.6,167.2 82.8,165.7 83.0,165.6 83.2,164.4 83.3,164.1 83.5,162.9 83.7,162.7 83.8,161.6 84.0,161.5 84.2,160.8 84.3,159.9 84.5,160.1 84.7,158.8 84.9,159.1 85.1,158.1 85.2,157.6 85.4,156.4 85.5,156.3 85.7,155.4 85.8,155.4 86.2,154.7 86.6,155.9 86.7,156.5 86.8,156.9 87.0,156.8 87.1,158.0 87.2,158.5 87.4,158.9 87.5,159.7 87.7,160.1 87.8,160.9 87.9,161.7 88.1,162.1 88.2,162.9 88.3,163.0 88.4,163.5 88.6,164.5 88.7,165.4 88.9,165.6 89.0,166.8 89.2,167.3 89.4,167.6 89.7,168.2 89.9,169.4 90.2,170.1 90.5,169.8 90.9,170.8 91.5,170.8 92.0,170.4 92.5,170.6 93.0,170.7 93.6,171.5 94.2,170.9 94.9,171.3 95.6,171.8 96.3,171.5 97.1,171.6 98.0,171.6 98.5,172.4 99.0,171.6 99.6,172.0 100.1,172.1 100.7,172.0 101.3,172.3 102.0,172.5 102.6,172.7 103.2,172.7 103.9,173.3 104.5,172.7 105.2,172.4 105.8,172.3 106.5,173.0 107.1,172.4 107.8,172.5 108.4,172.3 109.0,171.8 109.6,172.1 110.2,172.5 110.9,173.0 111.5,173.0 112.1,172.6 112.8,173.0 113.4,173.4 114.1,173.9 114.7,173.8 115.3,173.8 115.9,174.6 116.5,173.9 117.1,174.7 117.7,174.8 118.2,174.6 118.7,175.3 119.2,175.2 119.7,175.8 120.5,175.7 121.2,175.3 121.9,176.4 122.4,176.0 123.0,177.0 123.5,177.6 123.9,177.0 124.5,177.6 125.0,178.1 125.5,178.0 125.7,178.1 125.9,179.0 126.1,179.2 126.5,179.7 127.1,179.5 128.3,179.3 130.0,179.1 130.4,179.3 130.8,179.8 131.2,179.6 131.7,178.9 132.2,179.3 132.7,179.1 133.3,179.6 133.9,179.1 134.5,179.2 135.1,179.2 135.7,179.7 136.4,178.9 137.0,179.0 137.7,179.7 138.4,179.3 139.1,179.5 139.9,179.1 140.6,179.4 141.3,179.0 142.1,179.0 142.8,178.9 143.6,180.0 144.3,179.2 145.1,180.1 145.8,179.2 146.5,179.3 147.3,179.9 148.0,179.8 148.7,179.6 149.4,180.2 150.1,179.6 150.8,180.1 151.5,179.7 152.1,179.6 152.7,180.2 153.4,180.2 153.9,179.9 154.5,179.4 155.0,180.0 155.6,179.5 156.0,179.3 156.5,179.7 156.9,179.8 157.3,180.0 157.7,180.7 158.0,180.3" fill="none" stroke="#8a8a34" stroke-width="1.4" stroke-linejoin="round" stroke-linecap="round"/>
<polyline points="45.8,189.9 46.1,190.2 46.5,189.9 46.9,189.8 47.4,190.3 47.9,189.8 48.4,190.4 49.0,190.5 49.6,190.3 50.2,190.6 50.8,190.3 51.5,190.8 52.1,190.3 52.8,190.6 53.5,190.4 54.3,190.6 55.0,190.9 55.7,191.1 56.4,190.6 57.2,190.5 57.9,190.9 58.6,190.2 59.3,190.9 60.0,190.7 60.6,190.3 61.1,190.7 61.7,190.7 62.4,190.6 63.0,190.2 63.6,190.9 64.3,190.3 65.0,190.3 65.6,190.2 66.3,190.3 67.0,190.3 67.7,190.4 68.4,190.3 69.0,190.1 69.7,190.5 70.4,190.4 71.1,191.1 71.7,191.1 72.3,190.9 73.0,191.4 73.6,191.9 74.1,191.5 74.7,191.3 75.2,191.5 75.8,191.5 76.2,191.7 76.7,191.5 77.1,191.1 77.5,191.1 78.8,191.4 79.7,191.1 80.3,190.8 80.6,190.3 80.9,190.0 81.2,189.5 81.5,188.6 81.8,187.7 82.1,187.4 82.3,187.1 82.5,186.6 82.7,185.7 82.9,185.0 83.1,184.4 83.3,183.8 83.5,183.0 83.6,182.5 83.7,181.2 83.9,181.1 84.0,180.9 84.1,180.2 84.2,179.7 84.4,179.2 84.5,178.3 84.6,177.4 84.7,176.2 84.8,176.2 84.9,174.9 85.0,175.3 85.1,174.2 85.2,173.9 85.5,172.8 85.7,172.1 85.9,171.2 86.1,171.7 86.2,171.7 86.3,172.4 86.4,172.3 86.5,173.5 86.6,174.0 86.7,174.6 86.8,175.3 86.9,176.7 87.0,177.4 87.1,177.5 87.1,178.4 87.2,178.6 87.3,179.3 87.4,179.7 87.4,180.1 87.5,181.4 87.6,181.7 87.7,182.7 87.7,183.3 87.8,183.8 87.9,184.4 88.0,185.4 88.1,185.5 88.2,186.4 88.4,186.6 88.5,188.0 88.6,187.9 88.9,188.3 89.3,188.9 90.0,189.4 90.4,189.8 90.7,190.3 91.1,190.0 91.5,190.2 92.0,189.8 92.4,190.1 92.9,189.8 93.5,190.2 94.1,189.8 94.8,189.8 95.6,190.2 96.5,190.1 97.5,190.4 98.6,190.9 99.0,190.9 99.5,191.1 99.9,190.8 100.4,190.7 100.9,191.0 101.5,191.1 102.0,191.4 102.6,191.7 103.2,191.2 103.8,191.6 104.4,191.8 105.0,191.7 105.6,191.4 106.2,191.8 106.9,191.3 107.5,191.5 108.2,191.7 108.9,191.4 109.5,191.7 110.2,191.4 110.9,191.4 111.6,191.6 112.3,191.3 112.9,191.7 113.6,191.2 114.3,191.6 115.0,191.4 115.6,191.5 116.3,192.2 116.9,192.1 117.6,192.2 118.2,191.8 118.8,191.9 119.4,191.8 120.0,191.9 120.6,191.8 121.2,191.7 121.8,191.6 122.3,192.3 123.0,191.8 123.7,192.2 124.4,191.9 125.0,192.0 125.7,192.4 126.3,191.9 127.0,192.2 127.6,192.6 128.2,192.6 128.8,192.4 129.4,192.7 130.0,192.9 130.6,192.4 131.2,192.7 131.8,192.5 132.4,192.5 133.0,193.1 133.5,193.0 134.1,194.0 134.7,193.9 135.3,193.5 135.8,193.3 136.4,193.8 137.0,193.8 137.6,193.0 138.2,193.2 138.8,193.5 139.4,193.5 140.0,193.4 140.6,194.3 141.2,193.8 141.9,193.7 142.5,194.6 143.2,194.1 143.9,194.3 144.6,193.8 145.2,194.4 145.9,194.2 146.6,194.3 147.3,194.5 148.0,194.6 148.7,194.0 149.4,194.7 150.1,194.2 150.8,194.2 151.4,194.6 152.1,194.4 152.7,194.2 153.3,194.7 153.9,194.6 154.5,194.1 155.0,194.4 155.5,194.6 156.0,194.4 156.5,194.8 156.9,194.8 157.3,194.3 157.7,194.9 158.0,194.9" fill="none" stroke="#4a56b8" stroke-width="1.4" stroke-linejoin="round" stroke-linecap="round"/>
<text x="160.6" y="144.0" font-size="9.2" font-weight="normal" font-style="normal" fill="#8a5030" stroke="#8a5030" stroke-width="0.15" textLength="15.8" lengthAdjust="spacingAndGlyphs">(e1)</text>
<text x="162.0" y="163.5" font-size="9.2" font-weight="normal" font-style="normal" fill="#6ab4ec" stroke="#6ab4ec" stroke-width="0.15" textLength="15.8" lengthAdjust="spacingAndGlyphs">(e2)</text>
<text x="160.6" y="182.0" font-size="9.2" font-weight="normal" font-style="normal" fill="#c89a3a" stroke="#c89a3a" stroke-width="0.15" textLength="17.2" lengthAdjust="spacingAndGlyphs">(e3)</text>
<text x="159.3" y="196.5" font-size="9.2" font-weight="normal" font-style="normal" fill="#3a48a8" stroke="#3a48a8" stroke-width="0.15" textLength="17.1" lengthAdjust="spacingAndGlyphs">(e4)</text>
<polyline points="203.0,128.4 203.3,128.8 203.7,129.1 204.1,128.7 204.6,128.7 205.1,128.4 205.6,129.1 206.2,129.1 206.8,129.7 207.4,129.4 208.0,129.8 208.7,129.4 209.4,129.0 210.1,129.2 210.8,129.6 211.5,130.1 212.2,129.7 212.9,129.8 213.6,130.1 214.3,130.7 215.0,130.8 215.7,130.6 216.4,130.3 217.1,131.4 217.7,131.2 218.3,130.9 218.9,131.7 219.5,131.5 220.2,131.2 220.8,130.8 221.5,131.0 222.2,131.3 222.8,131.5 223.5,132.1 224.2,132.0 224.9,131.9 225.5,132.2 226.2,132.9 226.9,132.9 227.5,132.4 228.2,133.1 228.8,133.3 229.4,132.7 230.0,133.0 230.6,133.8 231.1,132.9 231.7,133.6 232.2,133.8 232.6,133.7 233.1,134.0 233.5,133.6 234.5,133.6 235.4,133.2 236.0,133.0 236.6,132.8 237.0,132.4 237.4,132.7 237.7,131.8 238.1,131.8 238.5,132.2 239.0,131.2 239.4,130.7 239.9,130.8 240.2,130.2 240.6,129.6 240.9,128.7 241.2,127.9 241.5,127.2 242.0,126.3 242.4,126.1 242.7,125.2 243.0,125.8 243.2,126.3 243.5,127.2 243.7,127.4 244.0,129.1 244.2,129.8 244.2,130.1 244.5,130.6 245.4,131.0 245.8,131.5 246.1,131.8 246.6,131.9 247.0,131.1 247.4,132.0 247.9,130.8 248.5,131.0 249.1,130.6 249.7,130.9 250.4,130.9 251.1,131.2 251.9,130.6 252.7,131.3 253.6,131.0 254.6,131.4 255.0,131.3 255.5,131.3 256.0,131.5 256.6,131.0 257.1,130.6 257.7,131.3 258.3,130.4 258.9,131.3 259.6,131.2 260.2,131.2 260.9,130.8 261.6,130.6 262.2,131.2 262.9,130.6 263.6,131.0 264.3,131.0 265.0,131.0 265.7,131.5 266.4,131.7 267.1,131.0 267.8,131.6 268.5,132.0 269.2,131.5 269.8,131.3 270.5,130.7 271.1,130.9 271.7,130.8 272.3,130.7 272.9,131.0 273.4,130.8 273.9,131.3 274.4,131.2 274.9,130.5 275.3,130.6 275.7,130.5 277.0,130.6 277.9,130.6 278.6,131.2 279.2,131.7 279.5,131.9 279.8,131.6 280.1,132.2 280.5,132.1 281.0,132.4 281.5,133.1 282.0,132.8 282.4,133.1 282.8,133.6 283.2,134.4 283.7,134.1 284.3,134.7 285.1,135.1 286.0,135.5 286.4,135.7 286.9,135.2 287.4,135.2 287.9,135.5 288.5,136.7 289.0,136.5 289.6,137.0 290.2,135.9 290.8,136.6 291.4,136.2 292.1,136.4 292.7,136.1 293.4,136.8 294.1,136.3 294.8,136.2 295.4,137.1 296.1,137.0 296.8,137.3 297.5,136.9 298.2,137.0 298.8,137.2 299.5,137.3 300.1,138.1 300.7,138.0 301.4,137.4 302.0,137.8 302.7,137.6 303.4,137.5 304.1,137.3 304.9,137.7 305.6,137.1 306.3,137.6 307.0,137.8 307.7,137.7 308.4,137.4 309.1,138.3 309.8,138.4 310.5,137.9 311.1,138.0 311.7,138.3 312.3,138.5 312.9,138.3 313.4,137.9 313.8,138.3 314.3,138.1 314.7,137.6 315.0,137.8" fill="none" stroke="#6e3a16" stroke-width="1.5" stroke-linejoin="round" stroke-linecap="round"/>
<polyline points="203.0,143.4 203.3,144.0 203.7,143.0 204.1,143.8 204.5,143.7 205.0,143.4 205.5,143.4 206.0,143.8 206.6,143.4 207.2,143.8 207.8,143.5 208.4,143.6 209.0,143.9 209.7,144.3 210.4,144.0 211.1,144.0 211.8,144.7 212.5,145.1 213.2,144.6 213.9,145.5 214.6,144.6 215.4,144.2 216.1,144.6 216.8,145.4 217.5,145.3 218.3,144.7 219.0,144.8 219.7,144.8 220.3,145.1 221.0,145.1 221.7,145.5 222.3,145.6 222.9,146.0 223.5,146.2 224.1,145.7 224.6,146.1 225.1,145.7 225.6,145.3 226.5,145.6 227.3,146.2 228.2,145.9 229.0,146.8 229.7,146.9 230.5,146.3 231.2,146.4 231.8,146.1 232.5,146.2 233.1,146.2 233.7,146.8 234.2,146.2 234.8,146.6 235.3,145.8 235.8,146.3 236.2,146.7 236.7,146.0 237.1,145.8 237.5,146.2 238.3,145.3 238.9,144.7 239.3,144.8 239.6,143.7 239.8,143.6 240.0,143.4 240.2,141.8 240.5,141.0 240.8,141.3 241.0,140.2 241.2,139.4 241.5,139.6 241.7,138.3 241.9,137.6 242.1,137.5 242.3,137.5 242.5,136.2 242.7,135.9 243.0,136.5 243.2,137.3 243.4,137.7 243.6,138.8 243.8,138.6 244.0,139.6 244.1,140.1 244.2,141.3 244.2,141.2 244.2,141.9 244.3,143.4 244.5,143.5 244.9,144.3 245.4,144.6 245.8,144.5 246.1,145.4 246.6,144.9 247.0,145.2 247.4,145.6 247.9,145.4 248.5,145.3 249.1,145.7 249.7,145.9 250.4,146.2 251.1,145.7 251.9,146.0 252.7,145.2 253.6,146.3 254.6,145.7 255.0,145.4 255.5,146.2 256.0,145.8 256.6,145.8 257.1,145.5 257.7,145.9 258.3,145.9 258.9,145.7 259.5,146.3 260.1,145.9 260.8,145.5 261.5,145.9 262.1,146.5 262.8,146.3 263.5,146.5 264.2,146.3 264.9,146.2 265.6,146.4 266.3,146.6 267.0,147.2 267.6,147.0 268.3,146.2 269.0,146.9 269.6,146.5 270.3,146.6 270.9,146.8 271.5,146.2 272.1,145.9 272.7,146.7 273.3,145.9 273.8,145.7 274.3,146.2 274.8,146.4 275.3,146.9 275.7,146.5 276.6,147.4 277.4,147.0 278.1,147.1 278.6,147.2 279.1,148.0 279.5,147.8 279.8,148.3 280.2,148.7 280.5,149.3 281.0,150.5 281.5,150.6 282.0,150.5 282.7,150.6 283.6,150.4 284.1,151.5 284.5,151.3 285.0,151.3 285.6,151.0 286.1,151.3 286.7,151.6 287.3,152.0 287.9,151.3 288.5,151.5 289.2,151.7 289.8,152.0 290.5,151.7 291.1,152.1 291.8,152.0 292.5,152.6 293.2,152.7 293.8,152.6 294.5,152.6 295.2,152.6 295.9,153.2 296.5,152.8 297.2,153.4 297.9,152.5 298.5,152.9 299.1,152.9 299.7,152.9 300.3,152.6 300.9,152.6 301.5,152.7 302.0,153.3 302.7,152.8 303.5,152.9 304.3,152.4 305.0,152.4 305.7,152.7 306.5,153.2 307.2,152.7 307.9,152.9 308.6,152.7 309.3,152.1 310.0,152.8 310.6,152.9 311.2,152.0 311.8,151.7 312.4,152.6 312.9,151.9 313.4,152.5 313.9,152.6 314.3,152.5 314.7,152.5 315.0,152.4" fill="none" stroke="#5ab0ea" stroke-width="1.4" stroke-linejoin="round" stroke-linecap="round"/>
<polyline points="203.0,153.6 203.3,153.6 203.7,154.2 204.1,154.0 204.6,154.2 205.1,154.6 205.6,154.4 206.1,153.6 206.7,153.8 207.3,154.3 208.0,153.8 208.6,153.5 209.3,153.8 210.0,154.5 210.7,154.0 211.4,155.0 212.1,154.5 212.8,154.7 213.5,155.0 214.2,155.2 214.9,155.7 215.6,155.3 216.3,155.5 217.0,155.2 217.6,155.1 218.2,156.0 218.9,156.2 219.4,156.6 220.0,156.0 220.7,156.2 221.4,156.2 222.1,156.7 222.8,156.5 223.4,156.4 224.1,157.0 224.8,157.0 225.5,157.0 226.1,157.2 226.8,157.6 227.4,157.5 228.0,157.6 228.7,158.2 229.3,158.0 229.8,158.0 230.4,158.1 231.0,158.3 231.5,158.3 232.0,157.9 232.5,158.5 233.0,158.3 233.5,157.8 234.3,157.9 235.0,158.0 235.7,158.0 236.3,157.4 236.9,157.0 237.4,156.5 237.9,156.9 238.4,155.7 238.8,155.4 239.2,155.0 239.6,154.5 240.0,154.1 240.4,154.1 240.7,153.0 241.0,152.7 241.3,151.8 241.5,150.6 241.7,150.5 241.9,149.0 242.1,148.4 242.3,148.2 242.5,146.9 242.7,147.2 243.0,147.5 243.3,148.1 243.5,148.6 243.7,150.1 244.0,150.8 244.2,151.2 244.5,152.6 244.6,152.6 244.4,153.8 244.1,154.4 243.9,154.7 243.9,155.5 244.3,154.9 245.1,155.8 246.7,156.6 247.0,156.0 247.4,156.7 247.8,156.3 248.2,155.9 248.7,156.8 249.2,156.5 249.7,156.3 250.2,157.0 250.7,156.3 251.3,156.5 251.9,156.4 252.5,156.4 253.1,156.7 253.8,156.4 254.4,156.0 255.1,156.3 255.7,156.4 256.4,156.5 257.1,156.6 257.8,157.3 258.5,156.9 259.3,157.2 260.0,157.2 260.7,157.0 261.4,157.1 262.1,157.3 262.9,156.9 263.6,157.3 264.3,157.2 265.0,156.7 265.7,156.3 266.4,156.6 267.1,156.6 267.8,156.9 268.5,156.9 269.1,156.8 269.8,157.4 270.4,157.4 271.0,157.0 271.6,156.8 272.2,157.4 272.8,157.4 273.3,157.9 273.9,157.5 274.4,157.6 274.8,158.0 275.3,157.3 275.7,158.0 276.7,158.3 277.6,157.8 278.3,157.9 278.9,158.1 279.4,158.4 279.8,158.3 280.2,158.7 280.5,158.3 280.8,158.9 281.2,158.3 281.5,159.0 281.9,158.8 282.3,159.9 282.8,160.1 283.4,160.1 284.1,160.6 285.0,160.6 286.0,160.3 286.4,160.3 286.9,161.0 287.4,160.9 287.9,160.8 288.4,161.4 288.9,161.1 289.5,161.2 290.1,161.4 290.7,160.8 291.3,160.9 292.0,161.6 292.6,161.1 293.3,161.1 294.0,161.2 294.7,161.2 295.4,160.7 296.1,161.2 296.8,160.6 297.5,160.9 298.2,160.4 299.0,160.0 299.7,160.0 300.4,160.7 301.1,160.5 301.9,161.1 302.6,160.5 303.3,160.7 304.0,161.2 304.7,161.6 305.4,161.0 306.1,161.5 306.8,161.8 307.5,161.7 308.1,161.2 308.7,161.8 309.4,161.5 310.0,161.5 310.5,161.9 311.1,161.3 311.6,162.0 312.1,161.1 312.6,161.8 313.1,161.9 313.5,161.8 313.9,161.4 314.3,161.7 314.7,162.0 315.0,162.0" fill="none" stroke="#8a8a34" stroke-width="1.4" stroke-linejoin="round" stroke-linecap="round"/>
<polyline points="203.0,165.6 203.3,166.4 203.7,166.8 204.1,166.5 204.6,166.5 205.1,166.2 205.6,165.8 206.1,166.3 206.7,166.2 207.3,166.4 208.0,166.2 208.6,166.9 209.3,167.0 210.0,167.1 210.7,166.4 211.4,167.2 212.1,166.9 212.8,167.4 213.5,167.5 214.2,167.0 214.9,167.4 215.6,167.8 216.3,167.3 217.0,167.8 217.6,167.6 218.2,167.3 218.9,167.1 219.4,167.9 220.0,167.2 220.7,167.8 221.4,167.7 222.1,168.3 222.8,168.3 223.4,168.2 224.1,168.8 224.8,168.5 225.5,169.1 226.1,169.3 226.8,168.9 227.4,168.9 228.0,169.3 228.7,169.4 229.3,169.5 229.8,169.5 230.4,169.3 231.0,169.4 231.5,169.1 232.0,168.8 232.5,168.5 233.0,168.7 233.5,169.0 234.2,168.1 234.8,167.7 235.4,167.6 236.0,166.9 236.5,166.6 237.0,167.0 237.4,165.6 237.8,165.6 238.2,165.0 238.6,164.0 239.0,164.5 239.3,164.0 239.7,163.7 240.0,163.1 240.4,162.5 240.7,161.9 241.0,161.1 241.3,160.3 241.5,159.5 241.7,158.6 241.9,158.7 242.1,157.6 242.3,157.2 242.5,157.2 242.7,156.8 243.0,156.9 243.3,156.8 243.5,157.8 243.7,158.9 244.0,160.1 244.2,159.9 244.5,161.1 244.6,161.3 244.4,161.9 244.2,162.8 244.0,163.5 243.9,163.6 244.0,164.3 244.4,165.0 245.3,165.5 246.7,165.5 247.0,165.8 247.4,165.6 247.8,165.7 248.2,165.7 248.7,165.9 249.2,166.2 249.7,166.4 250.2,166.2 250.7,166.7 251.3,166.8 251.9,166.9 252.5,167.0 253.1,166.8 253.8,166.8 254.4,166.9 255.1,167.0 255.7,166.9 256.4,167.0 257.1,167.4 257.8,167.2 258.5,166.8 259.3,166.9 260.0,167.3 260.7,167.1 261.4,167.0 262.1,167.4 262.9,167.5 263.6,167.2 264.3,167.0 265.0,167.2 265.7,167.1 266.4,167.3 267.1,167.3 267.8,167.4 268.5,167.1 269.1,167.0 269.8,167.3 270.4,167.5 271.0,167.5 271.6,167.8 272.2,167.4 272.8,167.8 273.3,167.9 273.9,168.0 274.4,167.7 274.8,167.9 275.3,168.2 275.7,168.2 276.8,168.8 277.7,168.7 278.4,168.2 279.0,168.5 279.5,169.3 280.0,168.7 280.3,169.0 280.7,169.0 281.0,169.1 281.4,169.1 281.7,169.7 282.2,169.4 282.7,169.7 283.3,169.7 284.0,169.6 284.9,170.0 286.0,170.1 286.4,170.2 286.9,169.8 287.4,170.3 287.9,170.3 288.4,169.9 288.9,170.4 289.5,170.0 290.1,170.7 290.7,170.4 291.3,170.2 292.0,169.9 292.6,170.6 293.3,170.0 294.0,170.6 294.7,170.8 295.4,170.1 296.1,170.8 296.8,170.2 297.5,170.6 298.2,170.6 299.0,170.7 299.7,170.8 300.4,170.5 301.1,171.2 301.9,170.6 302.6,170.9 303.3,170.2 304.0,170.3 304.7,170.8 305.4,171.2 306.1,171.0 306.8,171.3 307.5,170.7 308.1,171.9 308.7,171.3 309.4,171.4 310.0,171.4 310.5,171.4 311.1,171.7 311.6,170.9 312.1,170.9 312.6,171.4 313.1,171.3 313.5,171.6 313.9,171.9 314.3,171.4 314.7,171.3 315.0,171.3" fill="none" stroke="#4a56b8" stroke-width="1.4" stroke-linejoin="round" stroke-linecap="round"/>
<polyline points="203.0,176.9 203.3,176.7 203.7,176.8 204.1,177.0 204.6,177.2 205.1,176.5 205.6,176.8 206.1,176.7 206.7,177.2 207.3,177.2 208.0,177.0 208.6,177.3 209.3,178.0 210.0,177.5 210.7,177.3 211.4,177.7 212.1,177.7 212.8,177.5 213.5,177.9 214.2,177.5 214.9,177.7 215.6,177.6 216.3,178.2 217.0,177.2 217.6,178.0 218.2,177.5 218.9,177.8 219.4,177.5 220.0,177.9 220.7,178.3 221.4,178.2 222.1,178.5 222.8,178.3 223.4,178.5 224.1,177.9 224.8,178.8 225.5,178.4 226.1,178.9 226.8,178.5 227.4,179.2 228.0,178.4 228.7,179.0 229.3,178.8 229.8,179.3 230.4,179.2 231.0,179.2 231.5,179.3 232.0,179.7 232.5,179.9 233.0,179.6 233.5,179.7 234.3,179.0 235.0,178.9 235.7,178.4 236.3,178.3 236.9,178.2 237.4,177.6 237.9,177.4 238.4,177.0 238.8,176.7 239.2,176.1 239.6,175.5 240.0,175.0 240.4,174.7 240.7,173.6 241.0,173.4 241.3,172.5 241.5,171.4 241.7,170.9 241.9,170.4 242.1,170.1 242.3,169.1 242.5,168.9 242.7,168.9 243.0,168.7 243.3,168.9 243.5,169.8 243.7,170.5 244.0,171.5 244.2,172.0 244.5,172.8 244.6,173.7 244.4,174.0 244.2,174.5 244.0,175.6 243.9,175.5 244.0,176.1 244.4,177.0 245.3,177.5 246.7,177.5 247.0,178.4 247.4,178.6 247.8,178.3 248.1,178.6 248.6,179.2 249.0,179.1 249.4,178.9 249.9,179.3 250.3,178.8 250.8,178.8 251.3,179.5 251.8,178.7 252.3,178.9 252.9,179.5 253.4,179.4 254.0,179.5 254.6,179.6 255.2,179.7 255.8,180.2 256.4,179.8 257.0,179.8 257.6,180.0 258.2,179.7 258.9,179.2 259.5,180.2 260.2,179.8 260.9,180.0 261.5,180.2 262.2,179.6 262.9,180.3 263.6,180.4 264.3,180.4 265.0,180.1 265.7,180.4 266.4,180.4 267.1,180.6 267.8,180.4 268.5,181.0 269.2,180.9 270.0,180.7 270.7,181.0 271.4,180.9 272.1,181.2 272.8,180.7 273.6,180.9 274.3,181.2 275.0,180.7 275.7,180.8 276.2,181.0 276.8,181.2 277.3,181.2 277.9,181.3 278.5,181.3 279.1,181.4 279.7,181.4 280.3,181.4 280.9,181.9 281.6,181.4 282.2,181.6 282.9,181.6 283.5,181.4 284.2,181.4 284.9,181.0 285.6,181.1 286.2,181.2 286.9,181.5 287.6,180.9 288.3,181.3 289.0,181.6 289.7,181.0 290.4,181.5 291.1,181.4 291.9,181.6 292.6,181.6 293.3,182.0 294.0,181.7 294.7,181.2 295.4,181.5 296.1,181.5 296.8,181.4 297.5,181.8 298.2,181.5 298.9,181.7 299.6,181.2 300.3,181.6 300.9,181.6 301.6,181.5 302.3,181.2 302.9,181.8 303.6,181.4 304.2,181.6 304.8,181.8 305.5,181.7 306.1,181.6 306.7,181.5 307.3,181.7 307.8,181.8 308.4,181.8 309.0,182.1 309.5,181.6 310.0,181.6 310.5,182.0 311.0,181.3 311.5,181.8 312.0,181.4 312.4,181.5 312.8,181.7 313.2,182.1 313.6,182.3 314.0,182.0 314.4,182.1 314.7,182.1 315.0,182.1" fill="none" stroke="#7aa83c" stroke-width="1.4" stroke-linejoin="round" stroke-linecap="round"/>
<polyline points="203.0,187.9 203.3,188.4 203.7,187.9 204.1,188.3 204.5,188.2 205.0,187.9 205.5,188.1 206.0,187.9 206.6,187.7 207.1,188.1 207.7,188.4 208.4,188.0 209.0,188.1 209.7,187.9 210.3,188.2 211.0,188.1 211.7,188.0 212.4,188.0 213.1,188.2 213.8,188.4 214.5,188.2 215.2,188.4 215.9,188.7 216.6,188.5 217.3,188.7 218.0,188.6 218.7,188.2 219.4,188.7 220.0,188.3 220.6,188.2 221.2,188.7 221.8,188.4 222.5,188.5 223.1,188.8 223.8,188.4 224.4,188.2 225.1,188.6 225.8,189.0 226.5,188.9 227.2,188.9 227.9,188.8 228.6,188.8 229.3,188.5 230.0,189.1 230.6,189.1 231.3,188.5 232.0,188.7 232.6,188.7 233.2,188.4 233.9,188.6 234.5,188.8 235.0,188.8 235.6,188.8 236.1,188.6 236.7,188.7 237.1,188.9 237.6,188.3 238.0,188.4 238.4,188.3 238.8,188.5 240.2,188.2 240.9,187.8 241.2,187.0 241.3,186.1 241.3,185.8 241.5,185.3 242.0,184.3 242.3,183.8 242.7,183.3 243.0,183.9 243.3,184.1 243.6,185.3 244.0,185.9 244.0,186.5 243.7,186.4 243.3,186.8 243.5,187.4 244.5,187.8 246.7,188.3 247.0,188.8 247.4,189.1 247.8,188.6 248.2,188.9 248.6,188.5 249.0,188.8 249.4,189.1 249.9,188.7 250.4,189.2 250.9,188.9 251.4,189.2 251.9,188.8 252.4,188.8 253.0,188.4 253.5,188.3 254.1,188.5 254.7,188.3 255.3,188.8 255.9,188.8 256.5,188.7 257.1,188.5 257.7,189.0 258.4,188.8 259.0,188.9 259.7,189.1 260.3,188.8 261.0,188.8 261.7,189.0 262.3,189.2 263.0,188.6 263.7,188.7 264.4,188.9 265.1,188.8 265.8,188.8 266.5,189.1 267.2,189.1 267.9,188.9 268.6,188.9 269.3,189.0 270.0,188.5 270.7,189.1 271.4,188.6 272.1,188.7 272.7,188.6 273.4,188.9 274.1,189.4 274.8,189.3 275.5,189.4 276.1,188.9 276.8,188.7 277.4,189.0 278.1,189.2 278.7,189.3 279.4,189.4 280.0,189.0 280.6,189.1 281.2,189.4 281.8,189.5 282.4,189.1 283.1,189.2 283.7,189.5 284.4,189.1 285.0,189.5 285.7,189.2 286.4,189.6 287.0,189.6 287.7,189.7 288.4,189.6 289.1,189.7 289.8,189.4 290.5,189.2 291.2,189.4 291.9,189.4 292.6,189.7 293.3,189.7 294.0,189.4 294.7,189.1 295.4,189.4 296.1,189.2 296.8,189.8 297.5,189.8 298.2,189.4 298.9,189.5 299.6,189.8 300.3,189.8 300.9,190.0 301.6,189.6 302.3,189.9 302.9,189.5 303.6,189.9 304.2,189.5 304.8,189.9 305.5,189.5 306.1,189.7 306.7,189.3 307.3,189.9 307.8,189.6 308.4,189.4 308.9,189.2 309.5,189.5 310.0,190.0 310.5,189.4 311.0,190.0 311.5,189.8 312.0,189.7 312.4,189.7 312.8,190.0 313.2,189.8 313.6,189.7 314.0,189.9 314.4,189.9 314.7,190.0 315.0,190.1" fill="none" stroke="#c8358c" stroke-width="1.3" stroke-linejoin="round" stroke-linecap="round"/>
<text x="323.0" y="140.0" font-size="9.2" font-weight="normal" font-style="normal" fill="#8a5030" stroke="#8a5030" stroke-width="0.15" textLength="16.0" lengthAdjust="spacingAndGlyphs">(f1)</text>
<text x="320.6" y="150.5" font-size="9.2" font-weight="normal" font-style="normal" fill="#6ab4ec" stroke="#6ab4ec" stroke-width="0.15" textLength="15.8" lengthAdjust="spacingAndGlyphs">(f2)</text>
<text x="323.0" y="163.0" font-size="9.2" font-weight="normal" font-style="normal" fill="#c89a3a" stroke="#c89a3a" stroke-width="0.15" textLength="14.7" lengthAdjust="spacingAndGlyphs">(f3)</text>
<text x="322.7" y="172.2" font-size="9.2" font-weight="normal" font-style="normal" fill="#3a48a8" stroke="#3a48a8" stroke-width="0.15" textLength="15.0" lengthAdjust="spacingAndGlyphs">(f4)</text>
<text x="320.6" y="184.5" font-size="9.2" font-weight="normal" font-style="normal" fill="#84a840" stroke="#84a840" stroke-width="0.15" textLength="15.8" lengthAdjust="spacingAndGlyphs">(f5)</text>
<text x="318.0" y="193.3" font-size="9.2" font-weight="normal" font-style="normal" fill="#c040a0" stroke="#c040a0" stroke-width="0.15" textLength="14.4" lengthAdjust="spacingAndGlyphs">(f6)</text>
<polyline points="361.0,150.2 361.3,150.0 361.7,149.9 362.1,150.0 362.5,150.1 363.0,150.2 363.4,150.2 364.0,150.3 364.5,149.9 365.1,150.0 365.6,150.6 366.3,150.7 366.9,150.7 367.5,150.3 368.2,150.6 368.8,150.0 369.5,150.7 370.2,150.2 370.9,150.2 371.6,150.1 372.3,150.2 373.1,149.9 373.8,150.0 374.5,149.8 375.2,149.8 375.9,150.3 376.6,150.0 377.3,150.3 378.0,150.0 378.7,150.6 379.4,150.6 380.0,150.2 380.7,150.0 381.3,150.4 381.9,150.0 382.5,149.9 383.1,150.0 383.6,150.5 384.3,150.2 385.0,150.5 385.8,150.1 386.5,150.3 387.2,150.3 387.9,150.8 388.6,150.7 389.3,150.1 390.0,150.1 390.6,150.8 391.3,150.3 392.0,150.6 392.6,150.1 393.2,150.7 393.9,150.2 394.5,150.4 395.1,150.1 395.6,150.2 396.2,150.2 396.7,150.2 397.3,150.9 397.8,150.1 398.3,150.6 398.7,150.5 399.2,150.7 399.6,150.9 400.0,151.0 401.3,150.6 402.3,150.3 403.0,150.3 403.5,151.2 403.9,151.1 404.3,151.2 404.7,151.3 405.5,150.9 406.0,151.4 406.5,152.4 407.0,152.9 407.6,152.7 408.2,154.1 408.6,154.4 409.3,153.2 410.2,151.5 411.0,155.8 411.8,146.0 412.9,132.0 414.2,122.0 415.3,118.6 415.6,118.5 415.8,119.1 416.0,119.9 416.3,120.6 416.6,121.1 416.9,121.1 417.2,122.1 417.5,123.0 417.6,122.8 417.8,123.7 417.9,124.4 418.1,125.1 418.2,126.2 418.4,126.7 418.6,126.9 418.7,127.2 418.9,127.8 419.0,128.3 419.2,129.2 419.3,129.7 419.5,131.0 419.7,131.6 419.8,132.4 420.0,132.7 420.1,133.0 420.3,133.9 420.5,135.1 420.6,135.4 420.8,135.8 421.0,135.9 421.1,136.8 421.3,137.5 421.5,138.1 421.6,138.9 421.8,138.8 422.0,140.3 422.2,140.5 422.5,141.1 422.7,142.3 422.9,142.6 423.1,143.6 423.3,143.6 423.5,145.0 423.8,145.0 424.0,145.6 424.3,146.2 424.7,146.7 425.0,147.3 425.3,147.8 425.7,148.3 426.1,149.1 426.5,149.3 426.9,149.4 427.4,149.9 427.9,150.3 428.4,151.2 429.0,150.9 429.5,151.2 430.0,151.7 430.5,152.3 431.0,152.8 431.4,152.9 431.9,153.0 432.7,153.2 433.7,152.8 434.1,152.8 434.6,152.9 435.1,152.2 435.6,152.8 436.2,152.8 436.7,152.9 437.3,152.1 437.9,152.0 438.6,151.7 439.2,151.7 439.9,152.2 440.6,152.1 441.3,151.5 442.0,151.7 442.8,151.2 443.5,151.1 444.3,151.8 444.8,151.7 445.3,150.8 445.9,151.1 446.5,151.1 447.0,150.8 447.6,150.3 448.2,150.4 448.8,150.5 449.5,150.0 450.1,150.3 450.7,150.4 451.3,150.3 452.0,150.3 452.6,149.7 453.3,149.7 453.9,149.9 454.5,149.8 455.2,149.5 455.8,149.1 456.4,149.7 457.1,149.3 457.7,148.9 458.3,149.6 458.9,149.4 459.4,148.6 460.0,148.5 460.7,148.8 461.3,148.3 462.0,148.7 462.7,147.8 463.5,147.9 464.2,148.0 464.9,148.3 465.6,148.3 466.3,148.4 467.0,147.8 467.6,147.9 468.3,147.4 468.9,148.1 469.5,147.7 470.1,147.7 470.7,148.4 471.2,147.7 471.7,147.7 472.2,148.1 472.6,147.7 473.0,148.1 473.3,147.4" fill="none" stroke="#6e3a16" stroke-width="1.5" stroke-linejoin="round" stroke-linecap="round"/>
<polyline points="361.0,173.4 361.3,173.5 361.7,173.1 362.0,173.0 362.4,173.1 362.8,173.1 363.2,172.9 363.7,173.2 364.2,173.3 364.6,173.0 365.2,173.5 365.7,173.4 366.2,173.4 366.8,173.4 367.4,173.2 367.9,173.3 368.5,173.1 369.2,173.5 369.8,173.5 370.4,173.6 371.1,173.5 371.8,173.0 372.4,173.6 373.1,173.2 373.8,173.5 374.5,173.1 375.2,173.2 376.0,173.2 376.7,173.0 377.4,173.1 378.2,173.1 378.9,173.3 379.6,173.3 380.4,173.2 381.1,173.5 381.9,173.7 382.6,173.6 383.4,173.5 384.1,173.1 384.9,173.4 385.7,173.4 386.4,173.5 387.1,173.2 387.9,173.8 388.6,173.6 389.4,173.1 390.1,173.5 390.8,173.4 391.5,173.2 392.2,173.6 392.9,173.3 393.6,173.6 394.3,173.2 394.9,173.4 395.6,173.3 396.2,173.2 396.9,173.3 397.5,173.2 398.1,173.4 398.7,173.1 399.2,173.7 399.8,173.6 400.3,173.1 400.9,173.5 401.4,173.6 401.9,173.1 402.3,173.0 402.8,173.6 403.2,173.6 403.6,173.3 404.0,173.0 404.4,173.2 404.7,173.3 407.3,172.9 408.6,172.7 408.9,172.1 408.7,171.9 408.2,171.4 407.9,170.7 408.0,170.1 408.2,169.9 408.4,169.3 408.5,168.8 408.7,167.9 408.9,167.7 409.1,167.1 409.3,166.1 409.4,165.7 409.6,165.0 409.8,164.3 410.0,163.8 410.2,162.6 410.3,162.0 410.5,161.7 410.7,160.8 410.9,160.2 411.1,159.7 411.3,159.3 411.7,158.7 412.1,158.0 412.6,157.6 413.1,156.8 413.5,155.9 414.0,155.9 414.4,155.7 414.8,155.1 415.2,154.9 415.7,154.8 416.2,155.5 416.7,156.0 417.1,156.5 417.6,157.3 418.0,157.4 418.4,158.0 418.8,158.6 419.2,158.7 419.6,159.4 420.0,160.2 420.5,160.9 420.8,161.3 421.1,161.6 421.4,162.5 421.8,162.9 422.1,163.3 422.5,163.8 422.9,164.3 423.2,164.9 423.6,165.4 424.0,165.9 424.4,166.7 424.7,166.8 425.1,167.5 425.5,168.4 425.9,168.5 426.3,169.4 426.7,169.3 427.2,169.9 427.6,170.4 428.0,170.8 428.4,171.6 429.0,172.0 429.5,172.2 430.0,172.8 430.6,172.7 431.2,172.8 431.7,173.1 432.4,173.1 433.0,173.6 433.4,174.0 433.7,173.5 433.8,173.5 433.9,173.6 434.1,173.7 434.5,174.1 435.1,174.3 436.0,174.0 437.2,173.9 439.0,174.3 439.4,174.3 439.8,173.8 440.2,173.7 440.6,173.7 441.1,174.0 441.6,173.9 442.1,174.2 442.6,174.2 443.2,174.0 443.8,174.2 444.4,174.2 445.0,173.7 445.6,173.7 446.2,173.5 446.9,174.1 447.5,173.5 448.2,174.0 448.9,173.9 449.6,174.0 450.3,174.1 451.0,174.1 451.7,173.7 452.5,173.6 453.2,173.9 453.9,173.9 454.7,173.6 455.4,173.8 456.2,173.4 456.9,173.9 457.6,173.9 458.4,173.3 459.1,173.3 459.8,173.7 460.5,173.6 461.3,173.5 462.0,173.7 462.7,173.2 463.4,173.7 464.0,173.4 464.7,173.6 465.4,173.5 466.0,173.5 466.6,173.2 467.2,173.3 467.8,173.6 468.4,173.3 469.0,173.4 469.5,173.3 470.0,173.5 470.5,173.2 471.0,173.0 471.4,173.4 471.9,172.9 472.3,173.4 472.6,173.0 473.0,173.0 473.3,173.4" fill="none" stroke="#5ab0ea" stroke-width="1.4" stroke-linejoin="round" stroke-linecap="round"/>
<polyline points="361.0,187.5 361.3,187.9 361.7,187.7 362.0,187.7 362.4,187.6 362.8,187.9 363.2,187.9 363.7,187.5 364.1,187.6 364.6,187.6 365.1,187.9 365.7,187.6 366.2,188.0 366.8,187.8 367.3,187.8 367.9,187.8 368.5,187.6 369.1,188.0 369.8,187.9 370.4,187.7 371.0,188.1 371.7,188.1 372.4,187.9 373.1,187.8 373.8,187.9 374.5,187.9 375.2,187.9 375.9,188.0 376.6,188.1 377.3,187.9 378.1,187.8 378.8,188.0 379.5,188.0 380.3,187.9 381.0,187.8 381.8,187.9 382.5,188.2 383.3,188.1 384.0,188.1 384.8,188.0 385.5,188.0 386.3,188.1 387.0,187.9 387.7,188.3 388.5,188.1 389.2,187.9 389.9,188.2 390.6,188.1 391.4,188.3 392.1,188.1 392.8,187.8 393.4,188.0 394.1,188.1 394.8,187.8 395.5,188.1 396.1,188.2 396.7,187.9 397.4,188.2 398.0,187.9 398.6,188.2 399.1,188.2 399.7,187.9 400.2,188.1 400.8,188.2 401.3,187.8 401.8,187.7 402.3,188.1 402.7,188.1 403.2,187.9 403.6,187.6 404.0,187.7 404.3,187.9 404.7,187.5 406.6,187.3 408.0,186.9 408.9,186.7 409.5,186.3 409.7,185.8 409.8,185.3 409.7,184.7 409.6,184.5 409.6,183.7 409.7,183.4 410.0,182.9 410.5,182.6 411.1,182.3 411.6,181.8 412.1,181.2 412.6,180.5 413.2,180.2 413.7,179.9 414.2,179.6 414.7,179.3 415.2,179.1 415.8,179.5 416.3,179.5 416.9,179.4 417.4,179.7 418.0,180.1 418.6,180.7 419.2,181.0 420.0,181.3 420.4,181.7 420.9,181.8 421.4,182.4 421.9,182.4 422.4,182.8 422.9,183.2 423.5,183.7 424.1,184.1 424.6,184.3 425.2,184.4 425.8,184.8 426.5,185.0 427.1,185.7 427.7,185.9 428.4,185.9 428.9,185.9 429.4,186.4 429.8,186.2 430.3,186.4 430.7,186.4 431.1,186.8 431.5,186.9 431.9,186.6 432.4,187.1 432.9,187.0 433.4,186.9 434.0,187.1 434.6,187.3 435.3,187.2 436.1,187.6 436.9,187.2 437.8,187.6 438.9,187.4 440.0,187.8 440.4,187.6 440.9,187.7 441.3,187.6 441.8,187.9 442.3,187.9 442.9,187.8 443.4,188.0 444.0,187.8 444.6,187.6 445.2,187.8 445.8,187.7 446.4,187.8 447.1,187.7 447.7,187.8 448.4,187.9 449.1,187.7 449.8,188.0 450.5,187.9 451.2,187.7 451.9,188.1 452.6,187.8 453.4,187.8 454.1,187.9 454.8,188.0 455.5,187.8 456.3,187.8 457.0,188.0 457.7,187.8 458.5,188.0 459.2,188.0 459.9,187.8 460.6,187.7 461.3,188.2 462.0,187.9 462.7,188.1 463.4,187.8 464.1,188.1 464.7,188.1 465.4,187.8 466.0,187.9 466.7,188.1 467.3,188.1 467.9,187.9 468.4,188.2 469.0,187.9 469.5,188.2 470.0,188.2 470.5,188.2 471.0,188.1 471.4,187.9 471.9,188.0 472.3,187.9 472.6,187.8 473.0,187.9 473.3,187.9" fill="none" stroke="#8a8a34" stroke-width="1.4" stroke-linejoin="round" stroke-linecap="round"/>
<polyline points="361.0,195.1 361.3,195.1 361.7,194.9 362.0,195.0 362.4,194.9 362.8,195.2 363.2,194.9 363.7,194.9 364.1,194.8 364.6,195.1 365.1,195.0 365.7,194.9 366.2,195.0 366.8,194.9 367.3,195.2 367.9,194.9 368.5,195.1 369.1,195.2 369.8,195.2 370.4,195.1 371.0,195.3 371.7,195.0 372.4,195.1 373.1,195.1 373.8,195.0 374.5,195.0 375.2,195.2 375.9,194.9 376.6,195.1 377.3,195.0 378.1,195.0 378.8,195.1 379.5,195.1 380.3,195.3 381.0,195.0 381.8,195.1 382.5,195.3 383.3,195.1 384.0,195.1 384.8,195.1 385.5,195.0 386.3,195.0 387.0,195.2 387.7,195.1 388.5,195.3 389.2,195.4 389.9,195.1 390.6,195.2 391.4,195.3 392.1,195.1 392.8,195.3 393.4,195.1 394.1,195.3 394.8,195.4 395.5,195.2 396.1,195.2 396.7,195.0 397.4,195.2 398.0,195.1 398.6,195.2 399.1,195.0 399.7,195.2 400.2,195.0 400.8,195.0 401.3,195.0 401.8,195.1 402.3,195.2 402.7,195.1 403.2,195.2 403.6,195.0 404.0,195.0 404.3,195.1 404.7,194.8 407.0,195.0 408.5,194.8 409.3,194.5 409.7,193.9 409.8,193.5 409.7,193.5 409.6,193.1 409.6,192.8 410.0,192.7 410.6,192.2 411.2,191.8 411.8,191.5 412.3,191.3 412.9,191.1 413.5,191.1 414.1,190.9 414.6,190.8 415.2,190.5 415.8,190.7 416.3,190.6 416.9,190.9 417.4,191.1 418.0,191.3 418.6,191.5 419.2,191.6 420.0,192.2 420.5,192.3 421.0,192.2 421.5,192.4 422.0,192.5 422.6,192.8 423.2,193.0 423.8,193.3 424.4,193.5 425.0,193.5 425.7,193.8 426.3,193.9 427.0,193.9 427.7,194.2 428.4,194.4 428.9,194.3 429.4,194.6 429.8,194.6 430.3,194.6 430.7,194.5 431.1,194.6 431.5,194.6 431.9,194.9 432.4,194.8 432.9,194.7 433.4,195.0 434.0,195.0 434.6,194.9 435.3,195.0 436.1,194.8 436.9,194.9 437.8,194.9 438.9,195.1 440.0,194.9 440.4,195.0 440.9,195.0 441.3,195.0 441.8,194.8 442.3,195.2 442.9,195.1 443.4,195.1 444.0,195.1 444.6,195.0 445.2,195.1 445.8,195.1 446.4,194.9 447.1,195.1 447.7,195.1 448.4,195.1 449.1,195.2 449.8,194.9 450.5,195.0 451.2,194.9 451.9,195.0 452.6,195.0 453.4,195.1 454.1,194.9 454.8,195.0 455.5,194.9 456.3,195.2 457.0,194.9 457.7,195.0 458.5,195.2 459.2,194.9 459.9,195.2 460.6,195.0 461.3,195.1 462.0,194.9 462.7,195.0 463.4,195.1 464.1,195.0 464.7,194.9 465.4,195.0 466.0,195.0 466.7,195.2 467.3,195.1 467.9,195.1 468.4,194.9 469.0,194.9 469.5,194.9 470.0,195.1 470.5,194.8 471.0,195.0 471.4,194.9 471.9,194.9 472.3,195.1 472.6,194.9 473.0,194.8 473.3,195.1" fill="none" stroke="#4a56b8" stroke-width="1.3" stroke-linejoin="round" stroke-linecap="round"/>
<text x="474.6" y="151.5" font-size="9.2" font-weight="normal" font-style="normal" fill="#8a5030" stroke="#8a5030" stroke-width="0.15" textLength="17.2" lengthAdjust="spacingAndGlyphs">(g1)</text>
<text x="474.6" y="175.3" font-size="9.2" font-weight="normal" font-style="normal" fill="#6ab4ec" stroke="#6ab4ec" stroke-width="0.15" textLength="17.2" lengthAdjust="spacingAndGlyphs">(g2)</text>
<text x="474.6" y="187.0" font-size="9.2" font-weight="normal" font-style="normal" fill="#c89a3a" stroke="#c89a3a" stroke-width="0.15" textLength="17.2" lengthAdjust="spacingAndGlyphs">(g3)</text>
<text x="474.6" y="194.8" font-size="9.2" font-weight="normal" font-style="normal" fill="#3a48a8" stroke="#3a48a8" stroke-width="0.15" textLength="17.2" lengthAdjust="spacingAndGlyphs">(g4)</text>
<polyline points="519.0,150.7 519.1,152.4 519.2,152.0 519.3,152.8 519.4,153.0 519.5,153.4 519.7,154.7 519.9,154.8 520.2,156.3 520.5,156.8 520.9,155.8 521.3,156.6 521.7,158.6 522.2,158.2 522.7,157.8 523.2,158.4 523.8,159.3 524.4,159.6 525.0,159.2 525.7,159.4 526.2,158.6 526.7,159.3 527.2,159.6 527.8,158.1 528.4,157.5 528.9,158.5 529.5,158.0 530.1,158.1 530.7,157.5 531.3,157.4 531.9,157.5 532.5,156.4 533.1,156.6 533.7,155.5 534.3,156.4 534.8,155.0 535.4,153.5 535.9,152.6 536.4,153.2 537.0,151.8 537.5,151.7 538.0,151.4 538.6,151.0 539.2,151.3 539.7,151.8 540.3,151.7 541.0,152.3 541.6,152.7 542.2,152.3 542.7,151.5 543.3,153.3 543.9,152.7 544.5,151.9 545.2,151.9 545.8,153.1 546.5,152.2 547.1,152.1 547.8,152.2 548.4,151.7 549.0,151.4 549.7,150.8 550.3,151.3 550.9,149.9 551.4,149.1 552.0,149.7 552.7,149.2 553.4,149.1 554.1,147.8 554.8,146.8 555.5,147.6 556.2,148.5 556.8,147.5 557.4,147.9 558.0,147.4 558.6,148.5 559.1,147.0 559.6,147.1 560.0,146.5 561.1,147.1 561.7,145.6 562.2,145.6 562.7,145.6 563.0,145.8 563.4,147.3 563.6,147.6 563.9,150.0 564.2,149.8 564.5,150.3 564.7,150.2 564.9,152.1 565.1,152.7 565.3,152.3 565.5,152.7 565.7,154.2 566.0,153.6 566.3,154.1 566.6,156.3 566.9,156.6 567.1,156.7 567.4,158.9 567.7,159.4 568.1,159.5 568.4,159.7 568.7,161.0 569.1,161.9 569.5,163.3 569.8,163.2 570.2,162.7 570.6,162.5 571.0,161.6 571.4,162.4 571.8,162.8 572.2,162.0 572.6,160.9 573.1,160.0 573.5,159.3 574.0,160.1 574.6,159.2 575.2,157.9 575.9,156.4 576.3,157.0 576.6,157.0 577.0,155.4 577.4,155.0 577.8,155.0 578.2,155.2 578.6,155.4 579.1,155.8 579.5,154.3 580.0,154.3 580.4,153.8 580.9,153.6 581.4,152.7 581.9,152.2 582.3,151.8 582.8,150.9 583.3,151.2 583.8,151.5 584.3,150.7 584.9,148.7 585.4,148.2 585.9,147.8 586.4,147.9 586.9,147.4 587.4,146.4 587.9,147.2 588.4,146.4 589.0,146.2 589.5,147.3 590.1,145.0 590.6,145.7 591.2,145.8 591.7,145.2 592.3,144.5 592.8,144.3 593.4,144.3 594.0,144.3 594.5,144.2 595.1,145.1 595.7,143.1 596.2,143.3 596.8,143.6 597.4,142.6 597.9,141.9 598.5,140.8 599.0,140.0 599.6,141.0 600.2,139.8 600.8,139.6 601.4,139.2 601.9,139.7 602.5,140.7 603.1,140.9 603.6,141.3 604.2,141.2 604.7,140.8 605.3,139.9 605.9,141.1 606.4,140.4 607.0,139.4 607.6,138.1 608.2,139.3 608.8,139.1 609.4,138.4 610.1,138.5 610.7,139.0 611.4,138.6 612.1,138.9 612.8,138.8 613.3,138.9 613.9,139.2 614.5,139.6 615.1,141.3 615.7,140.0 616.3,140.6 617.0,139.7 617.7,140.1 618.3,140.0 619.0,139.2 619.7,140.1 620.4,138.7 621.1,138.8 621.8,139.9 622.5,139.5 623.2,138.8 623.9,138.8 624.6,137.8 625.2,137.6 625.9,138.4 626.5,136.9 627.1,138.3 627.7,137.6 628.3,138.2 628.8,139.2 629.3,139.3 629.8,139.5 630.2,137.6 630.6,138.2 631.0,138.7 631.3,139.5" fill="none" stroke="#6e3a16" stroke-width="1.6" stroke-linejoin="round" stroke-linecap="round"/>
<polyline points="519.0,163.8 519.2,164.4 519.4,165.4 519.7,165.7 520.1,167.0 520.8,167.4 521.8,167.6 522.2,167.7 522.6,167.1 523.1,166.6 523.6,166.9 524.1,167.3 524.7,167.7 525.2,167.2 525.8,167.0 526.5,166.8 527.1,167.3 527.8,167.7 528.4,166.7 529.1,165.9 529.8,166.1 530.4,166.1 531.1,166.3 531.8,164.9 532.4,166.1 533.1,165.1 533.7,165.5 534.3,165.3 534.8,163.9 535.4,165.0 536.0,163.8 536.5,164.5 537.1,164.6 537.7,163.4 538.3,163.5 538.8,164.0 539.4,163.8 540.0,163.1 540.6,163.9 541.2,163.7 541.8,163.7 542.4,163.5 543.0,163.9 543.6,164.3 544.2,163.4 544.9,163.4 545.5,162.3 546.1,162.1 546.8,162.3 547.4,162.7 548.0,162.7 548.6,161.9 549.2,160.8 549.9,160.6 550.6,160.6 551.2,160.7 551.9,159.7 552.6,160.0 553.3,159.2 554.0,159.5 554.7,160.2 555.4,159.8 556.1,159.3 556.8,159.3 557.4,159.9 558.1,159.0 558.7,159.5 559.3,158.6 559.9,159.1 560.5,158.7 561.0,157.6 561.5,157.8 561.9,157.7 562.3,158.9 562.7,159.7 563.7,158.9 564.3,159.4 564.6,161.0 564.7,161.1 564.7,162.6 564.8,163.8 565.0,163.1 565.3,164.2 565.7,164.5 566.0,164.8 566.4,165.7 566.8,165.4 567.2,165.3 567.6,166.4 568.0,166.1 568.5,167.7 568.9,168.7 569.4,168.7 569.9,168.9 570.5,169.5 571.2,169.0 572.0,168.8 572.4,169.4 572.8,169.1 573.2,169.1 573.7,168.7 574.1,168.8 574.6,168.7 575.1,169.5 575.7,169.2 576.2,168.5 576.7,168.1 577.3,167.6 577.9,166.8 578.5,166.2 579.1,164.9 579.7,165.9 580.4,165.6 581.0,164.6 581.5,164.5 582.0,164.1 582.5,164.5 583.0,164.3 583.5,164.2 584.0,164.3 584.6,163.6 585.1,163.7 585.7,162.5 586.2,163.2 586.8,162.8 587.4,162.4 588.0,161.9 588.5,162.0 589.1,161.8 589.7,161.4 590.3,161.0 590.9,161.8 591.5,160.5 592.0,160.9 592.6,160.9 593.2,160.2 593.7,160.4 594.3,160.2 594.9,159.9 595.4,159.4 595.9,159.2 596.5,159.3 597.0,158.4 597.5,158.1 598.0,156.8 598.5,157.2 599.0,156.8 599.5,155.5 600.0,156.3 600.5,156.1 601.0,155.3 601.6,156.1 602.1,156.2 602.7,156.6 603.3,155.1 603.9,155.3 604.6,154.9 605.3,155.6 606.0,155.4 606.7,154.8 607.5,154.5 608.0,154.4 608.5,154.5 609.0,153.9 609.6,153.1 610.2,152.4 610.8,152.8 611.4,152.8 612.1,153.5 612.8,153.3 613.4,154.2 614.1,153.2 614.8,152.3 615.5,153.3 616.2,154.0 617.0,155.3 617.7,154.2 618.4,154.3 619.1,153.1 619.9,153.5 620.6,153.9 621.3,153.1 622.0,153.1 622.7,153.6 623.4,152.7 624.1,152.4 624.7,152.2 625.4,152.6 626.0,152.6 626.6,152.4 627.2,153.7 627.8,153.3 628.3,152.7 628.8,152.6 629.3,152.7 629.8,153.4 630.2,153.6 630.6,153.8 631.0,153.1 631.3,152.9" fill="none" stroke="#5ab0ea" stroke-width="1.5" stroke-linejoin="round" stroke-linecap="round"/>
<polyline points="519.0,175.4 519.3,175.2 519.7,175.2 520.0,175.0 520.4,174.7 520.9,174.8 521.3,174.5 521.8,174.5 522.3,174.3 522.8,174.4 523.4,174.9 523.9,174.1 524.5,174.7 525.2,174.7 525.8,174.3 526.5,174.0 527.2,174.5 527.9,174.3 528.7,174.6 529.5,174.6 530.3,174.4 531.1,174.5 531.9,173.8 532.8,174.3 533.7,173.8 534.2,173.9 534.7,174.0 535.2,173.6 535.7,173.7 536.2,174.4 536.8,174.3 537.3,174.0 537.9,173.6 538.5,173.3 539.1,173.6 539.8,173.3 540.4,173.6 541.1,173.4 541.7,172.9 542.4,173.4 543.0,173.3 543.7,173.0 544.4,172.9 545.1,172.9 545.8,172.2 546.5,172.1 547.2,172.1 547.8,172.3 548.5,172.1 549.2,172.2 549.9,171.7 550.6,172.0 551.3,171.5 552.0,171.6 552.6,171.8 553.3,171.8 554.0,171.8 554.6,171.5 555.3,171.6 555.9,171.6 556.5,171.3 557.1,171.8 557.7,171.2 558.3,171.9 558.8,171.3 559.4,171.6 559.9,171.4 560.4,171.7 560.9,171.7 561.4,171.4 561.9,171.3 562.3,171.9 562.7,171.3 563.8,171.4 564.7,172.0 565.5,172.4 566.1,172.5 566.7,172.0 567.2,172.7 567.7,173.4 568.1,173.9 568.4,174.0 568.8,174.8 569.1,174.9 569.5,176.1 569.9,175.7 570.3,176.6 570.8,176.1 571.4,176.8 572.0,177.1 572.5,176.3 573.0,176.1 573.4,176.2 573.9,176.8 574.4,176.4 575.0,176.7 575.5,176.2 576.0,176.1 576.5,175.9 577.1,174.9 577.6,175.1 578.2,174.8 578.7,174.7 579.3,173.9 579.9,173.6 580.5,173.6 581.1,173.8 581.7,173.1 582.4,173.2 583.0,172.6 583.7,172.5 584.3,171.7 585.0,171.4 585.7,171.1 586.4,171.1 586.9,171.2 587.4,171.2 588.0,170.4 588.5,170.9 589.0,171.2 589.6,171.0 590.1,170.5 590.7,170.1 591.3,170.8 591.9,170.4 592.4,170.0 593.0,170.5 593.6,170.2 594.2,170.0 594.8,170.0 595.4,169.3 596.1,170.0 596.7,169.2 597.3,169.2 597.9,169.5 598.5,168.9 599.2,169.3 599.8,169.1 600.4,168.5 601.1,169.0 601.7,168.4 602.4,168.4 603.0,169.0 603.6,168.7 604.3,168.4 604.9,168.5 605.6,168.4 606.2,168.6 606.9,169.0 607.5,168.7 608.1,168.1 608.7,168.3 609.3,168.6 609.9,168.7 610.6,168.9 611.3,168.9 611.9,168.3 612.6,169.0 613.3,168.4 614.0,168.6 614.7,168.0 615.4,168.5 616.1,168.2 616.8,168.4 617.5,167.3 618.3,168.2 619.0,168.2 619.7,167.5 620.4,168.1 621.1,168.0 621.8,168.0 622.4,168.1 623.1,168.5 623.8,168.5 624.4,169.0 625.0,169.0 625.6,168.4 626.2,168.6 626.8,168.7 627.4,168.9 627.9,168.4 628.4,168.5 628.9,169.2 629.4,169.2 629.8,168.7 630.2,168.5 630.6,168.9 631.0,168.7 631.3,168.9" fill="none" stroke="#8a8a34" stroke-width="1.4" stroke-linejoin="round" stroke-linecap="round"/>
<polyline points="519.0,180.7 519.3,181.0 519.7,180.6 520.0,180.2 520.4,180.6 520.9,180.8 521.3,180.8 521.8,180.7 522.3,180.3 522.9,180.8 523.4,180.5 524.0,180.8 524.6,180.9 525.2,180.9 525.8,181.4 526.4,180.8 527.1,181.3 527.7,180.4 528.4,180.5 529.1,180.7 529.8,179.7 530.5,179.7 531.2,180.5 531.9,180.5 532.6,180.0 533.3,180.1 534.0,180.3 534.7,180.1 535.4,180.4 536.0,180.6 536.7,180.1 537.4,179.9 538.1,180.4 538.7,180.4 539.4,179.7 540.0,179.7 540.6,179.5 541.2,180.0 541.8,180.2 542.5,180.3 543.1,179.9 543.7,179.7 544.4,179.6 545.0,179.6 545.7,179.6 546.4,179.1 547.0,179.7 547.7,179.8 548.4,179.3 549.1,179.4 549.7,179.3 550.4,179.5 551.1,179.0 551.7,179.4 552.4,179.6 553.1,179.4 553.7,179.2 554.4,179.0 555.0,178.8 555.6,178.3 556.3,178.0 556.9,178.0 557.5,178.1 558.1,178.2 558.7,178.3 559.2,178.6 559.8,178.4 560.3,178.3 560.8,178.5 561.3,177.8 561.8,178.4 562.3,178.0 562.7,178.3 563.6,178.3 564.4,178.5 565.1,178.3 565.7,178.8 566.2,179.2 566.6,179.3 567.0,179.7 567.4,180.3 567.8,180.9 568.1,181.1 568.6,181.8 569.1,182.1 569.6,182.5 570.3,182.1 571.1,182.6 572.0,182.7 572.4,182.4 572.9,182.3 573.3,182.3 573.8,182.6 574.2,182.7 574.7,182.2 575.2,182.4 575.7,182.2 576.2,181.6 576.7,181.9 577.2,181.8 577.7,181.6 578.3,181.9 578.8,181.4 579.4,181.5 580.0,181.1 580.5,180.8 581.1,180.9 581.7,180.2 582.3,179.7 582.9,180.1 583.6,179.6 584.2,179.6 584.9,179.5 585.5,179.2 586.2,179.8 586.9,179.2 587.6,179.2 588.3,179.5 589.0,179.4 589.7,178.7 590.4,178.5 591.2,178.8 591.9,178.2 592.7,178.2 593.5,177.8 594.3,178.4 594.8,178.3 595.3,177.8 595.8,177.7 596.4,177.6 596.9,177.3 597.5,177.7 598.1,177.2 598.7,177.8 599.3,177.4 599.9,177.5 600.6,177.0 601.2,177.1 601.9,177.4 602.5,177.1 603.2,177.3 603.9,176.8 604.6,176.9 605.3,176.8 606.0,177.3 606.7,176.8 607.4,177.0 608.1,176.7 608.8,176.7 609.5,176.3 610.2,176.9 611.0,176.2 611.7,176.0 612.4,176.1 613.1,176.3 613.8,176.0 614.5,176.2 615.3,175.8 616.0,175.5 616.7,175.9 617.4,175.9 618.0,176.0 618.7,176.1 619.4,176.2 620.1,176.3 620.7,176.2 621.4,176.2 622.0,176.2 622.6,176.3 623.3,176.8 623.9,176.6 624.5,176.9 625.0,176.5 625.6,176.8 626.1,176.5 626.7,176.1 627.2,176.2 627.7,176.2 628.2,176.0 628.6,175.6 629.1,176.2 629.5,175.8 629.9,176.0 630.3,175.7 630.6,176.3 631.0,176.0 631.3,176.1" fill="none" stroke="#4a56b8" stroke-width="1.4" stroke-linejoin="round" stroke-linecap="round"/>
<polyline points="519.0,186.8 519.3,186.7 519.7,187.0 520.0,186.6 520.4,186.9 520.9,187.0 521.3,186.7 521.8,186.3 522.3,186.2 522.9,186.1 523.4,186.8 524.0,186.6 524.6,186.7 525.2,186.6 525.8,186.7 526.4,186.6 527.1,186.6 527.7,186.9 528.4,186.9 529.1,186.4 529.8,186.5 530.5,186.6 531.2,186.4 531.9,186.2 532.6,186.6 533.3,186.1 534.0,185.9 534.7,186.2 535.4,186.0 536.0,186.1 536.7,186.4 537.4,186.1 538.1,185.9 538.7,185.7 539.4,185.7 540.0,185.4 540.6,185.4 541.2,185.3 541.8,185.3 542.5,185.5 543.1,185.4 543.7,185.4 544.4,185.5 545.0,185.8 545.7,185.3 546.4,185.7 547.0,184.8 547.7,184.9 548.4,185.1 549.1,185.2 549.7,185.4 550.4,185.6 551.1,185.3 551.7,184.7 552.4,185.2 553.1,185.3 553.7,185.3 554.4,185.4 555.0,185.1 555.6,185.2 556.3,185.2 556.9,185.1 557.5,184.9 558.1,185.2 558.7,185.3 559.2,185.2 559.8,185.3 560.3,184.8 560.8,185.1 561.3,184.7 561.8,184.7 562.3,184.4 562.7,184.9 563.6,185.4 564.4,185.3 565.1,185.3 565.7,185.8 566.2,186.1 566.6,186.3 567.0,186.0 567.4,186.2 567.8,186.5 568.1,187.1 568.6,187.2 569.1,187.4 569.6,187.4 570.3,187.6 571.1,187.9 572.0,187.5 572.4,187.5 572.9,187.7 573.3,187.4 573.8,187.4 574.2,187.0 574.7,187.1 575.2,187.3 575.7,187.4 576.2,186.7 576.7,187.0 577.2,186.6 577.7,186.9 578.3,186.3 578.8,186.1 579.4,186.2 580.0,186.4 580.5,185.8 581.1,185.5 581.7,185.7 582.3,185.6 582.9,185.4 583.6,184.9 584.2,185.0 584.9,185.1 585.5,184.7 586.2,184.7 586.9,184.7 587.6,184.5 588.3,184.4 589.0,184.7 589.7,184.9 590.4,184.8 591.2,184.2 591.9,184.0 592.7,184.6 593.5,184.5 594.3,183.8 594.8,184.1 595.3,183.8 595.8,183.9 596.4,183.5 596.9,184.1 597.5,183.9 598.1,183.6 598.7,183.7 599.3,183.4 599.9,183.3 600.6,183.1 601.2,182.6 601.9,182.8 602.5,183.0 603.2,183.0 603.9,183.2 604.6,183.3 605.3,183.0 606.0,183.2 606.7,183.1 607.4,183.2 608.1,183.0 608.8,183.7 609.5,182.9 610.2,183.0 611.0,183.6 611.7,183.3 612.4,183.3 613.1,183.5 613.8,183.5 614.5,183.1 615.3,183.1 616.0,183.5 616.7,183.8 617.4,183.1 618.0,183.0 618.7,183.3 619.4,183.2 620.1,183.2 620.7,183.4 621.4,183.5 622.0,183.3 622.6,183.3 623.3,183.3 623.9,182.8 624.5,183.0 625.0,182.8 625.6,182.7 626.1,182.9 626.7,183.2 627.2,183.5 627.7,183.4 628.2,183.6 628.6,183.3 629.1,183.7 629.5,183.4 629.9,184.2 630.3,183.9 630.6,183.8 631.0,183.4 631.3,183.5" fill="none" stroke="#c8358c" stroke-width="1.4" stroke-linejoin="round" stroke-linecap="round"/>
<polyline points="519.0,191.0 519.2,191.8 519.3,192.0 519.5,192.8 519.9,193.8 520.6,193.9 521.8,193.7 522.2,194.3 522.6,193.9 523.0,193.9 523.4,193.8 523.9,193.8 524.3,193.5 524.8,193.7 525.3,193.3 525.9,193.1 526.4,193.7 527.0,193.2 527.6,193.3 528.2,192.9 528.8,192.5 529.5,192.0 530.2,191.6 530.8,191.5 531.6,191.6 532.3,191.2 533.1,190.9 533.8,190.3 534.6,190.6 535.5,191.3 536.3,191.1 536.8,190.9 537.3,191.4 537.8,191.1 538.3,190.4 538.9,190.8 539.4,190.6 540.0,190.2 540.6,190.1 541.2,190.4 541.8,190.2 542.5,190.0 543.1,190.2 543.8,189.6 544.4,189.5 545.1,189.9 545.7,189.8 546.4,189.6 547.1,189.3 547.8,189.5 548.5,189.8 549.1,189.3 549.8,189.6 550.5,189.8 551.2,189.3 551.9,189.6 552.5,189.5 553.2,189.6 553.9,189.5 554.5,189.3 555.2,189.2 555.8,188.8 556.4,189.3 557.0,189.2 557.6,188.8 558.2,189.0 558.8,189.1 559.3,189.4 559.9,189.5 560.4,189.5 560.9,188.9 561.4,189.1 561.8,188.9 562.3,188.8 562.7,189.3 563.8,189.4 564.7,188.8 565.4,189.0 566.1,189.9 566.6,189.9 567.0,190.0 567.4,190.0 567.8,190.5 568.2,190.4 568.6,190.5 569.0,191.3 569.6,191.3 570.2,191.5 571.0,192.1 572.0,191.7 572.4,191.7 572.9,191.5 573.3,191.5 573.8,191.1 574.2,191.6 574.7,191.3 575.2,191.1 575.7,191.2 576.2,190.8 576.7,190.8 577.2,190.6 577.7,190.6 578.3,190.3 578.8,190.2 579.4,190.0 580.0,189.8 580.5,189.3 581.1,189.3 581.7,189.3 582.3,189.6 582.9,189.0 583.6,188.8 584.2,189.2 584.9,189.1 585.5,188.9 586.2,188.6 586.9,188.5 587.6,188.9 588.3,188.5 589.0,188.6 589.7,188.6 590.4,188.2 591.2,188.0 591.9,188.3 592.7,188.2 593.5,188.7 594.3,188.6 594.8,188.0 595.3,188.5 595.8,188.3 596.4,188.0 596.9,187.9 597.5,187.8 598.1,188.2 598.7,188.5 599.3,188.0 599.9,188.5 600.6,188.3 601.2,188.3 601.9,188.5 602.5,188.6 603.2,188.2 603.9,188.6 604.6,188.0 605.3,188.1 606.0,188.0 606.7,188.0 607.4,188.2 608.1,188.0 608.8,188.2 609.5,188.0 610.2,187.6 611.0,188.2 611.7,188.1 612.4,187.9 613.1,188.0 613.8,187.6 614.5,187.5 615.3,187.6 616.0,188.1 616.7,187.7 617.4,187.9 618.0,187.6 618.7,187.9 619.4,187.7 620.1,187.5 620.7,188.0 621.4,187.8 622.0,188.3 622.6,188.3 623.3,187.7 623.9,188.1 624.5,187.9 625.0,187.6 625.6,187.9 626.1,187.9 626.7,188.2 627.2,188.0 627.7,187.6 628.2,187.5 628.6,187.7 629.1,187.4 629.5,187.7 629.9,187.8 630.3,188.5 630.6,188.4 631.0,188.4 631.3,188.1" fill="none" stroke="#7aa83c" stroke-width="1.4" stroke-linejoin="round" stroke-linecap="round"/>
<text x="633.0" y="139.7" font-size="9.2" font-weight="normal" font-style="normal" fill="#8a5030" stroke="#8a5030" stroke-width="0.15" textLength="16.8" lengthAdjust="spacingAndGlyphs">(h1)</text>
<text x="633.0" y="155.5" font-size="9.2" font-weight="normal" font-style="normal" fill="#6ab4ec" stroke="#6ab4ec" stroke-width="0.15" textLength="16.8" lengthAdjust="spacingAndGlyphs">(h2)</text>
<text x="634.0" y="170.0" font-size="9.2" font-weight="normal" font-style="normal" fill="#c89a3a" stroke="#c89a3a" stroke-width="0.15" textLength="17.0" lengthAdjust="spacingAndGlyphs">(h3)</text>
<text x="635.0" y="177.9" font-size="9.2" font-weight="normal" font-style="normal" fill="#3a48a8" stroke="#3a48a8" stroke-width="0.15" textLength="17.4" lengthAdjust="spacingAndGlyphs">(h4)</text>
<text x="635.0" y="185.0" font-size="9.2" font-weight="normal" font-style="normal" fill="#c040a0" stroke="#c040a0" stroke-width="0.15" textLength="17.4" lengthAdjust="spacingAndGlyphs">(h5)</text>
<text x="635.0" y="192.5" font-size="9.2" font-weight="normal" font-style="normal" fill="#84a840" stroke="#84a840" stroke-width="0.15" textLength="16.0" lengthAdjust="spacingAndGlyphs">(h6)</text>
<polyline points="46.8,301.7 47.3,301.5 47.8,301.5 48.3,301.5 48.8,301.5 49.3,301.6 49.8,301.4 50.3,301.6 50.8,301.7 51.3,301.6 51.8,301.5 51.8,300.9 51.8,300.4 51.8,299.9 51.8,299.5 51.9,299.1 51.9,298.6 51.9,297.9 51.9,297.6 51.9,297.1 51.9,296.5 51.9,296.1 51.9,295.4 52.0,294.9 52.0,294.5 52.0,294.1 52.0,293.5 52.0,292.9 52.0,292.6 52.0,292.0 52.0,291.5 52.1,290.9 52.1,290.5 52.1,290.1 52.1,289.5 52.1,289.1 52.1,288.5 52.1,287.8 52.1,287.7 52.2,286.9 52.2,286.5 52.2,286.2 52.2,285.4 52.2,284.8 52.2,284.4 52.2,283.9 52.2,283.6 52.3,283.0 52.3,282.3 52.3,281.9 52.3,281.5 52.3,280.9 52.3,280.4 52.3,280.1 52.4,279.5 52.4,278.9 52.4,278.5 52.4,277.9 52.4,277.5 52.4,277.1 52.4,276.4 52.4,276.0 52.4,275.4 52.5,275.1 52.5,274.5 52.5,274.1 52.5,273.5 52.5,272.9 52.5,272.4 52.5,272.1 52.5,271.6 52.6,270.8 52.6,270.5 52.6,269.9 52.6,269.5 52.6,269.1 52.6,268.5 52.6,268.1 52.6,267.6 52.7,266.9 52.7,266.5 52.7,266.0 52.7,265.5 52.7,265.0 52.7,264.6 52.7,263.9 52.8,263.6 52.8,262.9 52.8,262.4 52.8,262.1 52.8,261.7 52.8,261.0 52.8,260.7 52.8,259.8 52.9,259.7 52.9,258.9 52.9,258.3 52.9,258.1 52.9,257.4 52.9,257.1 52.9,256.3 52.9,255.9 53.0,255.4 53.0,254.9 53.0,254.5 53.0,253.9 53.0,253.6 53.0,253.0 53.0,252.7 53.0,252.1 53.0,251.4 53.1,251.2 53.1,250.6 53.1,250.0 53.1,249.5 53.1,248.9 53.1,248.4 53.1,247.9 53.1,247.4 53.2,247.0 53.2,246.4 53.2,246.1 53.2,245.5 53.2,245.1 53.2,244.4 53.2,244.1 53.2,243.5 53.3,243.0 53.3,242.4 53.3,242.1 53.3,241.5 53.3,241.1 53.3,240.5 53.3,239.9 53.4,239.4 53.4,239.1 53.4,238.3 53.4,238.0 53.4,237.5 53.4,237.1 53.4,236.4 53.4,236.0 53.5,235.5 53.5,235.1 53.5,234.3 53.5,234.0 53.5,233.4 53.5,233.0 53.5,232.4 53.5,231.9 53.6,231.4 53.6,231.1 53.6,230.5 53.6,230.1 53.6,229.6 53.7,229.7 53.9,230.2 54.1,230.4 54.3,231.2 54.6,231.7 54.8,232.1 55.0,233.0 55.1,233.4 55.2,233.8 55.3,234.0 55.4,234.6 55.5,234.9 55.6,235.1 55.7,235.8 55.8,236.3 55.9,236.6 56.0,237.3 56.1,238.0 56.2,238.6 56.3,239.1 56.4,240.1 56.4,240.3 56.5,240.9 56.5,241.2 56.6,241.6 56.6,242.1 56.6,242.6 56.7,243.1 56.7,243.5 56.7,243.9 56.8,244.4 56.8,244.9 56.8,245.3 56.9,245.9 56.9,246.4 56.9,246.8 57.0,247.4 57.0,248.1 57.0,248.6 57.1,249.1 57.1,249.7 57.1,250.2 57.2,250.7 57.2,251.3 57.2,251.6 57.3,252.3 57.3,253.0 57.3,253.3 57.4,253.9 57.4,254.3 57.4,254.9 57.5,255.6 57.5,255.8 57.5,256.6 57.6,257.1 57.6,257.7 57.6,258.0 57.7,258.7 57.7,259.0 57.7,259.6 57.8,260.3 57.8,260.7 57.8,261.3 57.9,261.6 57.9,262.1 57.9,262.7 58.0,263.2 58.0,264.0 58.0,264.3 58.1,265.1 58.1,265.5 58.1,265.8 58.2,266.5 58.2,266.9 58.2,267.5 58.3,267.8 58.3,268.5 58.4,269.0 58.4,269.4 58.4,269.9 58.5,270.2 58.5,270.6 58.5,271.1 58.6,271.7 58.6,272.0 58.7,272.5 58.7,273.2 58.8,273.9 58.8,274.3 58.9,274.9 58.9,275.6 59.0,276.1 59.0,276.9 59.1,277.1" fill="none" stroke="#6a3818" stroke-width="2.0" stroke-linejoin="round" stroke-linecap="round"/>
<polyline points="58.1,265.5 58.1,265.8 58.2,266.5 58.2,266.9 58.2,267.5 58.3,267.8 58.3,268.5 58.4,269.0 58.4,269.4 58.4,269.9 58.5,270.2 58.5,270.6 58.5,271.1 58.6,271.7 58.6,272.0 58.7,272.5 58.7,273.2 58.8,273.9 58.8,274.3 58.9,274.9 58.9,275.6 59.0,276.1 59.0,276.9 59.1,277.1 59.2,277.9 59.2,278.4 59.3,278.7 59.3,279.2 59.4,279.8 59.5,280.1 59.5,280.5 59.6,281.1 59.7,281.0 59.7,282.2 59.8,281.8 60.0,282.7 60.1,283.2 60.3,284.1 60.5,284.8 60.7,284.9 60.9,284.6 61.2,285.8 61.6,285.8 61.9,285.8 62.3,286.4 62.7,285.8 63.1,286.5 63.5,286.9 64.0,287.1 64.5,287.1 65.1,286.5 65.7,287.0 66.4,286.9 66.8,287.3 67.2,287.1 67.7,287.2 68.1,287.3 68.6,287.4 69.2,287.7 69.7,287.0 70.2,287.0 70.8,286.9 71.3,286.7 71.9,287.6 72.4,287.7 73.0,286.7 73.5,286.9 74.1,287.5 74.6,287.4 75.1,287.5 75.5,287.4 76.0,286.5 76.5,286.1 77.1,286.2 77.6,286.4 78.0,285.6 78.5,285.7 78.9,285.8 79.4,285.9 79.8,285.1 80.3,284.8 80.7,284.9 81.2,284.4 81.6,284.2 82.1,284.0 82.7,284.6 83.2,284.5 83.7,283.4 84.1,284.1 84.6,284.0 85.1,283.6 85.6,283.0 86.1,283.4 86.7,282.4 87.2,282.2 87.7,283.1 88.3,282.1 88.8,282.7 89.3,282.4 89.9,281.4 90.4,281.4 90.9,281.9 91.4,281.2 91.9,281.8 92.3,281.7 92.8,281.2 93.4,281.5 93.9,281.2 94.4,282.0 94.9,281.8 95.3,282.0 95.8,282.1 96.2,281.6 96.6,282.7 97.1,282.8 97.6,282.7 98.1,282.9 98.7,283.0 99.3,283.5 100.0,283.4 100.4,283.2 100.8,283.6 101.2,283.3 101.7,283.2 102.1,283.9 102.6,284.4 103.0,284.3 103.5,283.8 104.0,284.3 104.5,284.5 105.0,284.6 105.5,284.6 106.0,284.7 106.5,285.0 107.0,285.4 107.6,285.1 108.1,285.5 108.6,285.5 109.2,284.9 109.7,285.2 110.2,285.4 110.7,285.5 111.3,285.8 111.8,285.7 112.3,286.6 112.8,286.4 113.3,286.1 113.8,286.6 114.3,286.9 114.8,286.1 115.3,286.8 115.8,287.3 116.3,286.7 116.8,287.4 117.3,287.4 117.8,286.9 118.3,286.8 118.8,287.7 119.3,287.3 119.8,287.3 120.3,287.5 120.8,287.9 121.3,288.2 121.8,288.3 122.3,288.3 122.8,287.6 123.3,288.0 123.8,287.6 124.3,288.0 124.8,288.2 125.3,288.1 125.8,288.6 126.3,288.2 126.8,289.0 127.3,288.8 127.8,288.7 128.3,289.3 128.8,289.0 129.3,288.7 129.8,289.8 130.3,289.8 130.8,290.0 131.3,289.4 131.8,289.5 132.3,290.1 132.8,289.5 133.2,290.6 133.7,290.3 134.2,290.3 134.7,289.8 135.2,290.1 135.7,290.4 136.2,291.1 136.7,290.2 137.2,290.8 137.7,290.3 138.2,291.5 138.7,291.3 139.2,291.4 139.7,291.4 140.2,290.8 140.7,291.0 141.2,290.8 141.7,291.5 142.2,291.0 142.6,291.2 143.1,291.2 143.6,292.2 144.1,292.1 144.6,291.6 145.1,292.5 145.5,291.5 146.0,291.6 146.5,291.9 147.0,292.5 147.5,291.7 148.0,292.6 148.5,292.4 149.0,292.7 149.5,292.2 150.0,291.9 150.5,292.0 151.1,292.8 151.6,292.6 152.1,293.0 152.7,292.4 153.2,292.5 153.7,292.5 154.2,293.3 154.7,293.2 155.2,292.6 155.7,293.3 156.3,292.5 156.9,293.1 157.4,292.9 158.0,293.6 158.6,293.6 159.2,293.6 159.8,293.0 160.4,292.9 161.0,293.7 161.6,293.8 162.1,293.0 162.7,294.1 163.3,294.2 163.8,293.6 164.4,293.8 164.9,294.0 165.4,294.4 165.9,294.1 166.4,294.0 166.9,294.3 167.3,294.0 167.7,293.5 168.1,294.1 168.5,294.0 168.8,293.9 169.1,294.0 169.4,293.9" fill="none" stroke="#6a3818" stroke-width="2.6" stroke-linejoin="round" stroke-linecap="round"/>
<polyline points="46.8,301.4 47.3,301.6 47.8,301.7 48.3,301.5 48.8,301.6 49.3,301.3 49.8,301.5 50.3,301.6 50.8,301.6 51.3,301.5 51.8,301.4 51.8,301.2 51.8,300.5 51.8,300.1 51.8,299.4 51.9,298.8 51.9,298.5 51.9,298.0 51.9,297.7 51.9,297.1 51.9,296.6 51.9,296.0 51.9,295.6 52.0,294.8 52.0,294.7 52.0,294.0 52.0,293.5 52.0,292.9 52.0,292.3 52.0,292.1 52.0,291.6 52.1,291.1 52.1,290.4 52.1,290.0 52.1,289.6 52.1,289.1 52.1,288.7 52.1,287.8 52.1,287.6 52.2,286.8 52.2,286.6 52.2,286.0 52.2,285.3 52.2,285.0 52.2,284.6 52.2,284.2 52.2,283.3 52.3,283.0 52.3,282.6 52.3,281.8 52.3,281.7 52.3,281.2 52.3,280.4 52.3,279.9 52.4,279.4 52.4,278.9 52.4,278.5 52.4,278.1 52.4,277.7 52.4,277.0 52.4,276.7 52.4,276.0 52.4,275.6 52.5,274.8 52.5,274.5 52.5,273.8 52.5,273.3 52.5,273.1 52.5,272.3 52.5,271.9 52.5,271.5 52.6,271.0 52.6,270.3 52.6,269.8 52.6,269.6 52.6,269.0 52.6,268.3 52.6,268.0 52.6,267.4 52.7,267.2 52.7,266.3 52.7,265.9 52.7,265.3 52.7,265.0 52.7,264.7 52.7,264.1 52.8,263.3 52.8,263.0 52.8,262.4 52.8,262.2 52.8,261.6 52.8,261.0 52.8,260.4 52.8,260.0 52.9,259.5 52.9,258.9 52.9,258.5 52.9,257.8 52.9,257.5 52.9,257.2 52.9,256.5 52.9,256.0 53.0,255.6 53.0,255.1 53.0,254.6 53.0,254.0 53.0,253.6 53.0,252.9 53.0,252.5 53.0,251.8 53.0,251.4 53.1,250.9 53.1,250.4 53.1,250.1 53.1,249.3 53.1,249.2 53.1,248.3 53.1,248.2 53.1,247.7 53.2,247.0 53.2,246.6 53.2,246.2 53.2,245.5 53.2,245.1 53.2,244.3 53.2,244.1 53.2,243.6 53.3,243.1 53.3,242.4 53.3,241.8 53.3,241.5 53.3,241.0 53.3,240.6 53.3,239.9 53.4,239.5 53.4,239.2 53.4,238.4 53.4,238.1 53.4,237.7 53.4,237.1 53.4,236.5 53.4,236.0 53.5,235.5 53.5,234.8 53.5,234.3 53.5,233.9 53.5,233.4 53.5,233.2 53.5,232.4 53.5,232.2 53.6,231.5 53.6,231.2 53.6,230.7 53.6,230.1 53.6,229.5 53.7,229.7 53.9,230.2 54.1,230.5 54.3,231.2 54.6,231.5 54.8,232.3 55.0,232.9 55.1,233.3 55.2,233.8 55.3,234.3 55.4,234.7 55.5,234.8 55.6,235.5 55.7,235.9 55.8,236.2 55.9,236.7 56.0,237.1 56.1,238.0 56.2,238.5 56.3,239.3 56.4,240.2 56.4,240.4 56.5,240.8 56.5,241.2 56.6,241.4 56.6,242.0 56.6,242.3 56.7,242.8 56.7,243.6 56.7,243.8 56.8,244.2 56.8,244.8 56.8,245.2 56.9,245.9 56.9,246.3 56.9,246.8 57.0,247.5 57.0,248.2 57.0,248.3 57.1,249.1 57.1,249.6 57.1,250.1 57.2,250.7 57.2,251.0 57.2,251.7 57.3,252.3 57.3,252.8 57.3,253.6 57.4,253.9 57.4,254.6 57.4,255.1 57.5,255.6 57.5,256.0 57.5,256.5 57.6,257.2 57.6,257.4 57.6,257.9 57.7,258.4 57.7,259.1 57.7,259.6 57.8,260.3 57.8,260.9 57.8,261.2 57.9,261.7 57.9,262.1 57.9,262.9 58.0,263.3 58.0,263.7 58.0,264.5 58.1,264.7 58.1,265.3 58.1,265.9 58.2,266.6 58.2,266.8 58.2,267.3 58.3,268.1 58.3,268.4 58.4,269.1 58.4,269.2 58.4,269.7 58.5,270.2 58.5,270.9 58.5,271.0 58.6,271.7 58.6,272.2 58.7,272.8 58.7,273.4 58.8,273.7 58.8,274.5 58.9,275.0 58.9,275.5 59.0,276.1 59.0,276.8 59.1,277.3" fill="none" stroke="#8aa038" stroke-width="2.0" stroke-linejoin="round" stroke-linecap="round"/>
<polyline points="58.1,265.3 58.1,265.9 58.2,266.6 58.2,266.8 58.2,267.3 58.3,268.1 58.3,268.4 58.4,269.1 58.4,269.2 58.4,269.7 58.5,270.2 58.5,270.9 58.5,271.0 58.6,271.7 58.6,272.2 58.7,272.8 58.7,273.4 58.8,273.7 58.8,274.5 58.9,275.0 58.9,275.5 59.0,276.1 59.0,276.8 59.1,277.3 59.2,277.6 59.2,278.2 59.3,278.6 59.3,279.4 59.4,279.8 59.5,280.1 59.5,280.7 59.6,281.1 59.7,280.9 59.7,281.3 59.8,281.6 60.0,282.9 60.1,283.5 60.3,283.9 60.5,284.7 60.7,284.7 60.9,284.7 61.2,285.5 61.6,286.1 61.9,285.1 62.3,286.0 62.7,285.7 63.1,286.7 63.5,286.5 64.0,287.2 64.5,287.1 65.1,287.6 65.7,287.1 66.4,287.2 66.8,287.8 67.2,287.6 67.7,286.9 68.1,286.6 68.6,287.7 69.2,286.5 69.7,287.7 70.2,287.7 70.8,287.3 71.3,287.7 71.9,287.2 72.4,287.4 73.0,287.1 73.5,286.6 74.1,286.3 74.6,287.2 75.1,286.7 75.5,286.2 76.0,286.7 76.5,286.2 77.1,286.0 77.6,286.7 78.0,286.2 78.5,286.2 78.9,286.1 79.4,285.4 79.8,285.2 80.3,285.0 80.7,284.7 81.2,285.0 81.6,284.9 82.1,283.9 82.7,284.3 83.2,283.4 83.7,282.9 84.1,283.7 84.6,283.6 85.1,282.8 85.6,283.5 86.1,282.9 86.7,282.1 87.2,282.5 87.7,282.4 88.3,281.2 88.8,282.1 89.3,281.3 89.9,280.8 90.4,280.8 90.9,280.9 91.4,280.7 91.9,280.3 92.3,279.9 92.8,280.6 93.4,280.7 93.9,280.6 94.4,280.3 94.9,281.0 95.3,279.9 95.8,280.1 96.2,280.1 96.6,281.0 97.1,281.1 97.6,280.8 98.1,281.4 98.7,280.8 99.3,280.9 100.0,282.3 100.4,282.3 100.8,281.2 101.2,282.1 101.7,281.9 102.1,282.0 102.6,282.5 103.0,282.3 103.5,282.8 104.0,282.5 104.5,282.9 105.0,281.8 105.5,282.9 106.0,282.3 106.5,283.2 107.0,283.1 107.6,283.4 108.1,283.1 108.6,282.7 109.2,282.9 109.7,283.4 110.2,282.4 110.7,283.2 111.3,283.3 111.8,283.5 112.3,283.1 112.8,283.5 113.3,283.7 113.8,283.3 114.3,283.8 114.8,284.1 115.3,283.4 115.8,283.7 116.3,283.7 116.8,284.2 117.3,283.5 117.8,283.6 118.3,283.8 118.8,284.2 119.3,283.5 119.8,284.8 120.3,284.1 120.8,284.5 121.3,284.1 121.8,283.6 122.3,284.2 122.8,284.5 123.3,283.9 123.8,285.2 124.3,284.7 124.8,284.5 125.3,284.0 125.8,284.3 126.3,284.5 126.8,285.0 127.3,284.4 127.8,284.9 128.3,284.6 128.8,285.1 129.3,285.3 129.8,285.1 130.3,285.5 130.8,285.4 131.3,284.7 131.8,285.5 132.3,285.3 132.8,285.8 133.2,286.1 133.7,285.3 134.2,286.0 134.7,285.2 135.2,285.9 135.7,285.0 136.2,286.2 136.7,285.7 137.2,285.8 137.7,285.9 138.2,285.7 138.7,285.6 139.2,286.3 139.7,286.2 140.2,285.4 140.7,285.8 141.2,286.8 141.7,285.9 142.2,286.0 142.6,286.5 143.1,286.2 143.6,287.1 144.1,287.2 144.6,286.0 145.1,286.2 145.5,286.2 146.0,286.6 146.5,286.4 147.0,287.0 147.5,287.4 148.0,286.3 148.5,286.2 149.0,286.4 149.5,286.7 150.0,286.5 150.5,287.0 151.1,286.9 151.6,287.5 152.1,287.9 152.7,287.9 153.2,287.2 153.7,287.5 154.2,286.8 154.7,287.5 155.2,288.0 155.7,288.0 156.3,287.0 156.9,287.1 157.4,288.1 158.0,287.9 158.6,288.0 159.2,287.1 159.8,287.9 160.4,287.1 161.0,288.1 161.6,288.2 162.1,287.6 162.7,287.2 163.3,288.2 163.8,288.6 164.4,288.1 164.9,287.8 165.4,287.8 165.9,288.5 166.4,288.7 166.9,287.9 167.3,287.7 167.7,288.8 168.1,288.0 168.5,288.1 168.8,287.9 169.1,288.5 169.4,288.9" fill="none" stroke="#8aa038" stroke-width="2.8" stroke-linejoin="round" stroke-linecap="round"/>
<polyline points="46.8,301.5 47.3,301.6 47.8,301.5 48.3,301.5 48.8,301.6 49.3,301.7 49.8,301.6 50.3,301.6 50.8,301.6 51.3,301.7 51.8,301.7 51.8,301.0 51.8,300.5 51.8,299.8 51.8,299.5 51.9,298.9 51.9,298.3 51.9,298.2 51.9,297.4 51.9,297.2 51.9,296.3 51.9,295.9 51.9,295.6 52.0,295.1 52.0,294.6 52.0,294.0 52.0,293.4 52.0,293.1 52.0,292.6 52.0,292.0 52.0,291.5 52.1,291.1 52.1,290.5 52.1,290.0 52.1,289.5 52.1,289.1 52.1,288.6 52.1,287.9 52.1,287.6 52.2,287.0 52.2,286.6 52.2,286.0 52.2,285.6 52.2,285.2 52.2,284.6 52.2,284.0 52.2,283.4 52.3,283.0 52.3,282.5 52.3,281.8 52.3,281.5 52.3,281.2 52.3,280.3 52.3,280.1 52.4,279.5 52.4,279.2 52.4,278.6 52.4,278.1 52.4,277.6 52.4,277.0 52.4,276.4 52.4,276.1 52.4,275.6 52.5,275.1 52.5,274.4 52.5,274.0 52.5,273.5 52.5,273.0 52.5,272.5 52.5,272.0 52.5,271.7 52.6,271.0 52.6,270.7 52.6,270.1 52.6,269.4 52.6,269.1 52.6,268.5 52.6,268.0 52.6,267.5 52.7,267.1 52.7,266.4 52.7,266.1 52.7,265.5 52.7,265.1 52.7,264.5 52.7,264.1 52.8,263.7 52.8,262.9 52.8,262.3 52.8,262.1 52.8,261.5 52.8,261.1 52.8,260.6 52.8,260.1 52.9,259.5 52.9,259.2 52.9,258.5 52.9,258.1 52.9,257.6 52.9,257.0 52.9,256.5 52.9,256.0 53.0,255.4 53.0,255.0 53.0,254.6 53.0,253.8 53.0,253.7 53.0,253.1 53.0,252.5 53.0,252.1 53.0,251.4 53.1,251.1 53.1,250.6 53.1,250.0 53.1,249.5 53.1,248.9 53.1,248.4 53.1,248.1 53.1,247.6 53.2,247.0 53.2,246.6 53.2,245.9 53.2,245.3 53.2,244.9 53.2,244.5 53.2,243.9 53.2,243.5 53.3,242.9 53.3,242.4 53.3,242.1 53.3,241.4 53.3,241.1 53.3,240.6 53.3,240.0 53.4,239.3 53.4,239.1 53.4,238.5 53.4,238.0 53.4,237.6 53.4,237.0 53.4,236.6 53.4,235.8 53.5,235.7 53.5,235.0 53.5,234.5 53.5,234.1 53.5,233.6 53.5,233.0 53.5,232.3 53.5,232.0 53.6,231.5 53.6,231.0 53.6,230.6 53.6,229.9 53.6,229.6 53.7,229.7 53.9,230.1 54.1,230.4 54.3,230.9 54.6,231.6 54.8,232.3 55.0,233.2 55.1,233.3 55.2,233.7 55.3,234.1 55.4,234.5 55.5,234.8 55.6,235.3 55.7,235.6 55.8,236.0 55.9,236.7 56.0,237.3 56.1,237.7 56.2,238.3 56.3,239.3 56.4,239.8 56.4,240.5 56.5,240.8 56.5,241.0 56.6,241.5 56.6,241.8 56.6,242.3 56.7,242.8 56.7,243.5 56.7,244.0 56.8,244.4 56.8,244.9 56.8,245.4 56.9,245.9 56.9,246.4 56.9,246.9 57.0,247.4 57.0,248.1 57.0,248.4 57.1,249.0 57.1,249.7 57.1,250.3 57.2,250.6 57.2,251.2 57.2,251.8 57.3,252.2 57.3,252.8 57.3,253.5 57.4,253.8 57.4,254.5 57.4,254.9 57.5,255.5 57.5,256.1 57.5,256.4 57.6,257.0 57.6,257.4 57.6,258.1 57.7,258.6 57.7,259.0 57.7,259.5 57.8,260.1 57.8,260.6 57.8,261.3 57.9,261.9 57.9,262.4 57.9,262.8 58.0,263.3 58.0,263.7 58.0,264.4 58.1,265.1 58.1,265.3 58.1,265.9 58.2,266.3 58.2,267.1 58.2,267.4 58.3,267.9 58.3,268.3 58.4,269.0 58.4,269.4 58.4,269.9 58.5,270.4 58.5,270.8 58.5,271.1 58.6,271.5 58.6,272.0 58.7,272.5 58.7,273.4 58.8,274.0 58.8,274.5 58.9,275.0 58.9,275.5 59.0,276.2 59.0,276.8 59.1,277.1" fill="none" stroke="#6a3818" stroke-width="2.0" stroke-linejoin="round" stroke-linecap="round"/>
<polyline points="58.1,265.3 58.1,265.9 58.2,266.3 58.2,267.1 58.2,267.4 58.3,267.9 58.3,268.3 58.4,269.0 58.4,269.4 58.4,269.9 58.5,270.4 58.5,270.8 58.5,271.1 58.6,271.5 58.6,272.0 58.7,272.5 58.7,273.4 58.8,274.0 58.8,274.5 58.9,275.0 58.9,275.5 59.0,276.2 59.0,276.8 59.1,277.1 59.2,277.6 59.2,278.3 59.3,278.7 59.3,279.3 59.4,279.6 59.5,280.3 59.5,280.6 59.6,280.8 59.7,281.3 59.7,281.8 59.8,281.9 60.0,283.1 60.1,283.6 60.3,284.3 60.5,284.0 60.7,284.7 60.9,285.0 61.2,285.4 61.6,285.0 61.9,286.2 62.3,286.0 62.7,285.9 63.1,286.9 63.5,286.7 64.0,287.1 64.5,287.3 65.1,287.3 65.7,287.7 66.4,286.8 66.8,287.2 67.2,287.0 67.7,287.6 68.1,287.1 68.6,286.9 69.2,287.1 69.7,287.1 70.2,287.6 70.8,287.5 71.3,287.5 71.9,286.9 72.4,287.5 73.0,287.2 73.5,287.0 74.1,286.9 74.6,287.0 75.1,287.2 75.5,286.9 76.0,287.2 76.5,286.7 77.1,287.3 77.6,287.3 78.0,286.5 78.5,286.0 78.9,286.9 79.4,285.7 79.8,286.2 80.3,286.1 80.7,285.6 81.2,285.9 81.6,284.8 82.1,285.3 82.7,285.4 83.2,285.2 83.7,285.0 84.1,284.3 84.6,284.3 85.1,284.5 85.6,283.8 86.1,283.4 86.7,283.0 87.2,283.0 87.7,282.7 88.3,283.5 88.8,282.6 89.3,282.5 89.9,283.1 90.4,282.6 90.9,282.2 91.4,281.7 91.9,281.9 92.3,281.8 92.8,282.5 93.4,281.9 93.9,282.6 94.4,281.8 94.9,281.6 95.3,282.7 95.8,281.9 96.2,282.9 96.6,282.8 97.1,282.6 97.6,283.4 98.1,283.1 98.7,284.0 99.3,283.6 100.0,284.2 100.4,284.3 100.8,283.7 101.2,284.2 101.7,284.3 102.1,284.4 102.6,283.7 103.0,284.6 103.5,284.8 104.0,284.2 104.5,284.2 105.0,284.3 105.5,285.0 106.0,284.5 106.5,285.5 107.0,285.1 107.6,285.9 108.1,285.7 108.6,285.5 109.2,285.3 109.7,285.7 110.2,286.0 110.7,286.4 111.3,286.6 111.8,286.0 112.3,285.7 112.8,286.6 113.3,286.7 113.8,286.8 114.3,287.0 114.8,287.1 115.3,287.0 115.8,287.3 116.3,286.6 116.8,287.7 117.3,287.4 117.8,286.8 118.3,287.0 118.8,287.7 119.3,287.4 119.8,288.2 120.3,287.5 120.8,287.9 121.3,288.0 121.8,288.6 122.3,287.9 122.8,288.7 123.3,288.6 123.8,288.5 124.3,289.1 124.8,289.1 125.3,289.0 125.8,288.9 126.3,288.3 126.8,288.6 127.3,289.3 127.8,288.7 128.3,289.4 128.8,289.2 129.3,289.3 129.8,289.9 130.3,290.0 130.8,290.0 131.3,289.8 131.8,290.0 132.3,290.6 132.8,290.6 133.2,290.3 133.7,289.8 134.2,290.9 134.7,289.9 135.2,290.1 135.7,290.8 136.2,290.4 136.7,291.1 137.2,291.1 137.7,290.6 138.2,291.5 138.7,291.7 139.2,291.4 139.7,291.9 140.2,291.7 140.7,291.4 141.2,291.9 141.7,292.1 142.2,291.9 142.6,291.2 143.1,291.6 143.6,292.1 144.1,291.7 144.6,291.5 145.1,292.0 145.5,291.6 146.0,292.1 146.5,291.7 147.0,292.5 147.5,291.9 148.0,292.9 148.5,291.9 149.0,292.6 149.5,292.7 150.0,292.2 150.5,292.8 151.1,292.7 151.6,292.9 152.1,292.4 152.7,292.8 153.2,293.3 153.7,293.1 154.2,292.7 154.7,292.8 155.2,293.5 155.7,292.6 156.3,293.1 156.9,293.2 157.4,293.2 158.0,292.7 158.6,292.9 159.2,293.8 159.8,293.4 160.4,293.2 161.0,293.5 161.6,293.1 162.1,293.1 162.7,294.1 163.3,294.0 163.8,293.4 164.4,293.6 164.9,293.3 165.4,293.7 165.9,294.0 166.4,294.3 166.9,294.0 167.3,294.5 167.7,294.7 168.1,294.2 168.5,293.6 168.8,293.7 169.1,294.4 169.4,293.8" fill="none" stroke="#6a3818" stroke-width="2.8" stroke-linejoin="round" stroke-linecap="round"/>
<polyline points="46.8,303.1 47.3,302.9 47.8,302.9 48.3,303.1 48.8,303.0 49.3,303.0 49.8,303.0 50.3,302.9 50.8,303.0 51.3,303.0 51.8,303.1 51.8,302.6 51.8,302.1 51.8,301.4 51.8,301.0 51.9,300.6 51.9,299.9 51.9,299.5 51.9,299.0 51.9,298.6 51.9,297.9 51.9,297.6 51.9,297.0 52.0,296.5 52.0,296.1 52.0,295.4 52.0,295.0 52.0,294.4 52.0,294.1 52.0,293.6 52.0,293.0 52.1,292.4 52.1,292.1 52.1,291.6 52.1,291.0 52.1,290.6 52.1,290.1 52.1,289.4 52.1,289.1 52.2,288.6 52.2,287.9 52.2,287.6 52.2,286.9 52.2,286.6 52.2,286.0 52.2,285.6 52.2,285.1 52.3,284.6 52.3,284.0 52.3,283.5 52.3,283.0 52.3,282.6 52.3,282.0 52.3,281.6 52.4,280.9 52.4,280.5 52.4,279.9 52.4,279.4 52.4,278.9 52.4,278.4 52.4,278.0 52.4,277.5 52.4,277.0 52.5,276.6 52.5,276.0 52.5,275.6 52.5,274.9 52.5,274.4 52.5,273.9 52.5,273.4 52.5,273.1 52.6,272.4 52.6,272.0 52.6,271.5 52.6,271.1 52.6,270.6 52.6,270.1 52.6,269.6 52.6,269.1 52.7,268.5 52.7,268.1 52.7,267.6 52.7,266.9 52.7,266.4 52.7,266.0 52.7,265.6 52.8,264.9 52.8,264.6 52.8,264.1 52.8,263.5 52.8,263.0 52.8,262.5 52.8,262.0 52.8,261.6 52.9,261.0 52.9,260.6 52.9,260.1 52.9,259.4 52.9,258.9 52.9,258.6 52.9,257.9 52.9,257.6 53.0,257.0 53.0,256.4 53.0,255.9 53.0,255.5 53.0,255.0 53.0,254.4 53.0,253.9 53.0,253.4 53.0,253.1 53.1,252.6 53.1,251.9 53.1,251.5 53.1,251.0 53.1,250.6 53.1,249.9 53.1,249.5 53.1,249.0 53.2,248.4 53.2,248.0 53.2,247.6 53.2,247.0 53.2,246.4 53.2,246.0 53.2,245.5 53.2,244.9 53.3,244.5 53.3,244.0 53.3,243.5 53.3,242.9 53.3,242.6 53.3,241.9 53.3,241.6 53.4,240.9 53.4,240.5 53.4,240.0 53.4,239.5 53.4,239.0 53.4,238.6 53.4,237.9 53.4,237.4 53.5,236.9 53.5,236.6 53.5,236.0 53.5,235.6 53.5,235.0 53.5,234.4 53.5,234.1 53.5,233.5 53.6,233.1 53.6,232.4 53.6,232.0 53.6,231.6 53.6,231.1 53.7,231.3 53.9,231.7 54.1,232.0 54.3,232.6 54.6,233.1 54.8,233.8 55.0,234.4 55.1,234.8 55.2,235.2 55.3,235.7 55.4,236.0 55.5,236.5 55.6,236.8 55.7,237.1 55.8,237.8 55.9,238.1 56.0,238.8 56.1,239.3 56.2,240.0 56.3,240.6 56.4,241.4 56.4,241.9 56.5,242.2 56.5,242.8 56.6,243.2 56.6,243.5 56.6,244.1 56.7,244.2 56.7,244.8 56.7,245.4 56.8,245.7 56.8,246.4 56.8,246.7 56.9,247.4 56.9,247.8 56.9,248.4 57.0,248.9 57.0,249.4 57.0,249.9 57.1,250.6 57.1,251.1 57.1,251.5 57.2,252.3 57.2,252.6 57.2,253.2 57.3,253.8 57.3,254.3 57.3,254.9 57.4,255.6 57.4,255.8 57.4,256.5 57.5,257.0 57.5,257.4 57.5,258.0 57.6,258.5 57.6,259.1 57.6,259.6 57.7,260.1 57.7,260.5 57.7,261.1 57.8,261.7 57.8,262.2 57.8,262.7 57.9,263.3 57.9,263.6 57.9,264.3 58.0,264.9 58.0,265.2 58.0,265.9 58.1,266.5 58.1,266.8 58.1,267.4 58.2,267.9 58.2,268.5 58.2,268.9 58.3,269.4 58.3,270.0 58.4,270.5 58.4,271.0 58.4,271.3 58.5,271.8 58.5,272.2 58.5,272.8 58.6,273.0 58.6,273.6 58.7,274.0 58.7,274.8 58.8,275.3 58.8,276.1 58.9,276.5 58.9,277.3 59.0,277.7 59.0,278.2 59.1,278.8" fill="none" stroke="#4a58c0" stroke-width="1.2" stroke-linejoin="round" stroke-linecap="round"/>
<polyline points="58.1,266.8 58.1,267.4 58.2,267.9 58.2,268.5 58.2,268.9 58.3,269.4 58.3,270.0 58.4,270.5 58.4,271.0 58.4,271.3 58.5,271.8 58.5,272.2 58.5,272.8 58.6,273.0 58.6,273.6 58.7,274.0 58.7,274.8 58.8,275.3 58.8,276.1 58.9,276.5 58.9,277.3 59.0,277.7 59.0,278.2 59.1,278.8 59.2,279.4 59.2,279.8 59.3,280.3 59.3,280.7 59.4,281.2 59.5,281.5 59.5,282.1 59.6,282.4 59.7,282.9 59.7,283.0 59.8,283.8 60.0,284.3 60.1,284.7 60.3,285.9 60.5,286.1 60.7,286.4 60.9,286.8 61.2,287.0 61.6,287.0 61.9,287.8 62.3,288.0 62.7,288.0 63.1,288.0 63.5,288.3 64.0,288.0 64.5,289.0 65.1,289.1 65.7,289.0 66.4,288.9 66.8,289.3 67.2,288.6 67.7,289.0 68.1,288.9 68.6,289.3 69.2,289.1 69.7,289.4 70.2,289.7 70.8,289.2 71.3,288.9 71.9,288.8 72.4,289.6 73.0,289.3 73.5,289.2 74.1,288.8 74.6,288.8 75.1,288.7 75.5,289.5 76.0,288.6 76.5,288.8 77.1,288.9 77.6,288.9 78.0,288.4 78.5,288.7 78.9,288.5 79.4,288.7 79.8,287.6 80.3,287.6 80.7,287.3 81.2,287.3 81.6,287.0 82.1,286.7 82.7,287.3 83.2,286.6 83.7,286.9 84.1,286.8 84.6,286.7 85.1,285.7 85.6,286.1 86.1,286.2 86.7,285.8 87.2,285.6 87.7,285.3 88.3,285.5 88.8,285.1 89.3,284.8 89.9,284.8 90.4,284.6 90.9,284.2 91.4,284.6 91.9,284.7 92.3,284.5 92.8,283.8 93.4,284.2 93.9,284.6 94.4,284.0 94.9,284.5 95.3,284.8 95.8,284.8 96.2,284.8 96.6,284.6 97.1,285.5 97.6,285.1 98.1,285.8 98.7,285.9 99.3,286.3 100.0,285.8 100.4,286.8 100.8,286.6 101.2,286.8 101.7,286.3 102.1,286.9 102.6,286.6 103.0,287.1 103.5,287.2 104.0,287.0 104.5,287.6 105.0,287.2 105.5,287.4 106.0,287.7 106.5,287.3 107.0,288.1 107.6,287.7 108.1,288.3 108.6,287.7 109.2,287.8 109.7,288.4 110.2,288.1 110.7,288.4 111.3,288.3 111.8,288.9 112.3,289.0 112.8,289.1 113.3,288.6 113.8,288.6 114.3,289.3 114.8,288.9 115.3,289.6 115.8,289.5 116.3,290.0 116.8,290.0 117.3,289.9 117.8,290.2 118.3,289.9 118.8,289.8 119.3,289.7 119.8,290.4 120.3,290.5 120.8,290.5 121.3,290.5 121.8,290.5 122.3,291.1 122.8,290.6 123.3,290.5 123.8,291.4 124.3,291.3 124.8,291.5 125.3,291.7 125.8,291.2 126.3,291.0 126.8,291.5 127.3,291.6 127.8,291.6 128.3,292.0 128.8,291.6 129.3,292.4 129.8,291.7 130.3,291.9 130.8,292.6 131.3,292.1 131.8,292.6 132.3,292.3 132.8,292.5 133.2,292.7 133.7,292.5 134.2,293.2 134.7,293.4 135.2,293.5 135.7,292.8 136.2,292.7 136.7,293.2 137.2,293.6 137.7,293.5 138.2,294.0 138.7,294.1 139.2,293.9 139.7,293.5 140.2,293.8 140.7,293.5 141.2,293.9 141.7,294.3 142.2,293.9 142.6,293.9 143.1,294.3 143.6,294.7 144.1,294.5 144.6,294.1 145.1,294.4 145.5,294.3 146.0,294.9 146.5,294.6 147.0,294.7 147.5,295.2 148.0,294.6 148.5,294.8 149.0,295.4 149.5,294.8 150.0,295.1 150.5,295.3 151.1,295.0 151.6,295.3 152.1,295.2 152.7,295.7 153.2,295.4 153.7,295.7 154.2,295.5 154.7,295.7 155.2,295.5 155.7,295.3 156.3,295.5 156.9,295.5 157.4,295.3 158.0,296.1 158.6,295.9 159.2,295.9 159.8,296.2 160.4,295.6 161.0,295.7 161.6,296.3 162.1,295.7 162.7,296.6 163.3,296.2 163.8,296.7 164.4,296.7 164.9,296.3 165.4,296.2 165.9,296.4 166.4,296.7 166.9,296.5 167.3,296.8 167.7,297.1 168.1,296.8 168.5,296.6 168.8,296.9 169.1,296.7 169.4,296.8" fill="none" stroke="#4a58c0" stroke-width="1.2" stroke-linejoin="round" stroke-linecap="round"/>
<polyline points="46.8,301.5 47.3,301.7 47.8,301.7 48.3,301.5 48.8,301.5 49.3,301.3 49.8,301.5 50.3,301.7 50.8,301.4 51.3,301.6 51.8,301.4 51.8,301.1 51.8,300.4 51.8,300.0 51.8,299.6 51.9,298.8 51.9,298.6 51.9,298.0 51.9,297.4 51.9,296.9 51.9,296.5 51.9,296.1 51.9,295.4 52.0,294.8 52.0,294.4 52.0,294.1 52.0,293.5 52.0,293.1 52.0,292.6 52.0,292.0 52.0,291.5 52.1,290.9 52.1,290.6 52.1,290.1 52.1,289.4 52.1,289.1 52.1,288.4 52.1,288.2 52.1,287.5 52.2,287.2 52.2,286.6 52.2,285.9 52.2,285.6 52.2,285.1 52.2,284.5 52.2,284.1 52.2,283.6 52.3,283.1 52.3,282.4 52.3,282.2 52.3,281.7 52.3,281.0 52.3,280.7 52.3,280.3 52.4,279.5 52.4,278.9 52.4,278.4 52.4,278.1 52.4,277.4 52.4,277.0 52.4,276.7 52.4,275.9 52.4,275.6 52.5,275.0 52.5,274.7 52.5,274.0 52.5,273.6 52.5,273.0 52.5,272.4 52.5,272.2 52.5,271.5 52.6,271.0 52.6,270.8 52.6,270.0 52.6,269.6 52.6,268.9 52.6,268.6 52.6,268.3 52.6,267.7 52.7,267.2 52.7,266.8 52.7,266.0 52.7,265.4 52.7,265.0 52.7,264.7 52.7,264.1 52.8,263.6 52.8,263.2 52.8,262.5 52.8,262.2 52.8,261.6 52.8,261.0 52.8,260.7 52.8,260.0 52.9,259.8 52.9,259.2 52.9,258.6 52.9,258.1 52.9,257.5 52.9,257.0 52.9,256.7 52.9,256.1 53.0,255.7 53.0,255.1 53.0,254.5 53.0,254.0 53.0,253.8 53.0,253.1 53.0,252.5 53.0,252.3 53.0,251.5 53.1,251.0 53.1,250.5 53.1,250.2 53.1,249.8 53.1,249.0 53.1,248.8 53.1,248.3 53.1,247.8 53.2,247.1 53.2,246.6 53.2,246.0 53.2,245.6 53.2,245.3 53.2,244.6 53.2,244.4 53.2,243.8 53.3,243.4 53.3,242.5 53.3,242.2 53.3,241.8 53.3,241.1 53.3,240.6 53.3,240.0 53.4,239.7 53.4,239.2 53.4,238.6 53.4,238.1 53.4,237.8 53.4,237.1 53.4,236.8 53.4,236.4 53.5,235.7 53.5,235.1 53.5,234.8 53.5,234.1 53.5,233.6 53.5,233.3 53.5,232.8 53.5,232.1 53.6,231.6 53.6,231.3 53.6,230.9 53.6,230.2 53.6,229.8 53.7,229.9 53.9,230.4 54.1,230.9 54.3,231.3 54.6,232.1 54.8,232.7 55.0,233.3 55.1,233.7 55.2,234.2 55.3,234.5 55.4,235.0 55.5,235.4 55.6,235.9 55.7,236.4 55.8,236.8 55.9,237.4 56.0,237.7 56.1,238.6 56.2,239.3 56.3,239.9 56.4,240.8 56.4,241.1 56.5,241.4 56.5,241.7 56.6,242.2 56.6,242.8 56.6,243.3 56.7,243.8 56.7,244.1 56.7,244.7 56.8,245.0 56.8,245.4 56.8,246.0 56.9,246.6 56.9,247.2 56.9,247.5 57.0,248.0 57.0,248.8 57.0,249.1 57.1,250.0 57.1,250.4 57.1,250.8 57.2,251.5 57.2,252.1 57.2,252.5 57.3,253.3 57.3,253.5 57.3,254.1 57.4,254.8 57.4,255.3 57.4,255.8 57.5,256.5 57.5,256.7 57.5,257.1 57.6,257.9 57.6,258.3 57.6,258.8 57.7,259.4 57.7,260.1 57.7,260.4 57.8,261.1 57.8,261.6 57.8,262.0 57.9,262.8 57.9,263.0 57.9,263.6 58.0,264.1 58.0,264.8 58.0,265.4 58.1,265.8 58.1,266.2 58.1,266.9 58.2,267.3 58.2,267.9 58.2,268.4 58.3,268.7 58.3,269.2 58.4,270.0 58.4,270.5 58.4,270.6 58.5,271.1 58.5,271.7 58.5,272.3 58.6,272.5 58.6,273.2 58.7,273.5 58.7,274.4 58.8,274.7 58.8,275.6 58.9,276.3 58.9,276.8 59.0,277.4 59.0,277.7 59.1,278.5" fill="none" stroke="#d03a8c" stroke-width="2.0" stroke-linejoin="round" stroke-linecap="round"/>
<polyline points="58.1,266.2 58.1,266.9 58.2,267.3 58.2,267.9 58.2,268.4 58.3,268.7 58.3,269.2 58.4,270.0 58.4,270.5 58.4,270.6 58.5,271.1 58.5,271.7 58.5,272.3 58.6,272.5 58.6,273.2 58.7,273.5 58.7,274.4 58.8,274.7 58.8,275.6 58.9,276.3 58.9,276.8 59.0,277.4 59.0,277.7 59.1,278.5 59.2,279.0 59.2,279.3 59.3,280.0 59.3,280.5 59.4,280.6 59.5,281.2 59.5,281.7 59.6,282.1 59.7,283.0 59.7,282.7 59.8,283.1 60.0,283.5 60.1,284.3 60.3,285.6 60.5,285.2 60.7,286.5 60.9,286.7 61.2,286.6 61.6,286.6 61.9,286.5 62.3,286.9 62.7,288.1 63.1,288.6 63.5,288.8 64.0,288.0 64.5,289.1 65.1,288.6 65.7,288.6 66.4,289.5 66.8,289.5 67.2,289.4 67.7,288.9 68.1,288.7 68.6,288.8 69.2,289.0 69.7,289.0 70.2,289.5 70.8,289.2 71.3,289.1 71.9,290.1 72.4,289.4 73.0,288.9 73.5,288.9 74.1,289.7 74.6,288.9 75.1,289.7 75.5,288.9 76.0,289.5 76.5,289.6 77.1,289.4 77.6,288.9 78.0,289.6 78.5,289.7 78.9,289.4 79.4,289.4 79.8,289.3 80.3,288.3 80.7,288.4 81.2,288.0 81.6,288.4 82.1,287.4 82.7,287.3 83.2,287.5 83.7,287.5 84.1,288.0 84.6,286.9 85.1,286.3 85.6,286.7 86.1,287.3 86.7,286.0 87.2,286.5 87.7,286.5 88.3,286.7 88.8,285.8 89.3,286.1 89.9,286.5 90.4,286.4 90.9,285.7 91.4,285.3 91.9,285.7 92.3,285.8 92.8,285.7 93.4,285.8 93.9,285.4 94.4,286.0 94.9,285.6 95.3,285.5 95.8,285.5 96.2,286.3 96.6,286.0 97.1,286.3 97.6,286.6 98.1,286.9 98.7,287.2 99.3,288.2 100.0,287.7 100.4,287.9 100.8,287.7 101.2,288.0 101.7,288.5 102.1,288.2 102.6,288.3 103.0,288.2 103.5,288.0 104.0,288.2 104.5,288.1 105.0,288.5 105.5,288.2 106.0,288.9 106.5,289.2 107.0,288.7 107.6,289.7 108.1,289.4 108.6,289.7 109.2,289.5 109.7,290.2 110.2,290.1 110.7,289.4 111.3,290.1 111.8,289.8 112.3,290.6 112.8,290.2 113.3,290.1 113.8,289.9 114.3,291.3 114.8,290.2 115.3,290.5 115.8,291.5 116.3,290.4 116.8,291.0 117.3,291.1 117.8,291.5 118.3,291.8 118.8,292.1 119.3,291.3 119.8,291.1 120.3,291.3 120.8,291.1 121.3,291.6 121.8,292.2 122.3,292.6 122.8,291.6 123.3,292.0 123.8,292.9 124.3,292.6 124.8,292.4 125.3,292.0 125.8,292.1 126.3,292.4 126.8,293.1 127.3,292.4 127.8,293.1 128.3,293.6 128.8,292.6 129.3,293.1 129.8,293.3 130.3,293.7 130.8,294.0 131.3,294.0 131.8,293.7 132.3,293.7 132.8,294.2 133.2,294.0 133.7,294.8 134.2,294.3 134.7,294.5 135.2,294.7 135.7,294.5 136.2,294.6 136.7,294.9 137.2,294.9 137.7,295.6 138.2,294.7 138.7,295.0 139.2,295.8 139.7,295.6 140.2,295.3 140.7,295.0 141.2,294.9 141.7,295.3 142.2,295.4 142.6,295.5 143.1,295.3 143.6,295.7 144.1,295.9 144.6,295.3 145.1,296.1 145.5,296.2 146.0,295.6 146.5,295.7 147.0,295.5 147.5,296.1 148.0,296.5 148.5,296.1 149.0,296.4 149.5,296.5 150.0,295.8 150.5,295.8 151.1,296.5 151.6,297.2 152.1,296.9 152.7,296.6 153.2,296.4 153.7,296.3 154.2,297.0 154.7,297.2 155.2,296.8 155.7,296.4 156.3,296.7 156.9,297.3 157.4,297.5 158.0,297.0 158.6,297.7 159.2,297.1 159.8,296.6 160.4,296.9 161.0,297.9 161.6,297.7 162.1,296.9 162.7,297.2 163.3,297.4 163.8,297.6 164.4,297.0 164.9,298.3 165.4,297.7 165.9,297.4 166.4,297.1 166.9,297.9 167.3,298.4 167.7,298.2 168.1,298.4 168.5,298.5 168.8,298.2 169.1,297.4 169.4,297.7" fill="none" stroke="#d03a8c" stroke-width="2.8" stroke-linejoin="round" stroke-linecap="round"/>
<polyline points="120.3,264.5 120.3,285.0" fill="none" stroke="#7a4020" stroke-width="1.5" stroke-linejoin="round" stroke-linecap="round"/>
<polygon points="120.3,287.5 118.2,282.8 122.4,282.8" fill="#7a4020"/>
<polyline points="152.6,271.5 146.3,292.2" fill="none" stroke="#4a58c0" stroke-width="1.5" stroke-linejoin="round" stroke-linecap="round"/>
<polygon points="145.6,294.6 144.9,289.4 149.0,290.7" fill="#4a58c0"/>
<text x="114.0" y="258.8" font-size="9.2" font-weight="normal" font-style="normal" fill="#8a5030" stroke="#8a5030" stroke-width="0.15" textLength="16.3" lengthAdjust="spacingAndGlyphs">(i3)</text>
<text x="150.5" y="270.8" font-size="9.2" font-weight="normal" font-style="normal" fill="#3a48a8" stroke="#3a48a8" stroke-width="0.15" textLength="14.8" lengthAdjust="spacingAndGlyphs">(i4)</text>
<text x="156.0" y="282.5" font-size="9.2" font-weight="normal" font-style="normal" fill="#84a840" stroke="#84a840" stroke-width="0.15" textLength="14.7" lengthAdjust="spacingAndGlyphs">(i1)</text>
<text x="119.5" y="303.0" font-size="9.2" font-weight="normal" font-style="normal" fill="#c040a0" stroke="#c040a0" stroke-width="0.15" textLength="14.9" lengthAdjust="spacingAndGlyphs">(i2)</text>
<polyline points="204.8,301.5 205.3,301.5 205.8,301.4 206.3,301.3 206.8,301.7 207.3,301.6 207.8,301.4 208.3,301.5 208.8,301.7 209.3,301.4 209.8,301.6 209.8,300.9 209.8,300.7 209.8,300.1 209.9,299.7 209.9,298.9 209.9,298.5 209.9,297.9 209.9,297.4 209.9,297.2 209.9,296.7 209.9,296.2 210.0,295.6 210.0,295.0 210.0,294.5 210.0,294.1 210.0,293.4 210.0,293.1 210.0,292.6 210.0,291.9 210.1,291.4 210.1,291.0 210.1,290.3 210.1,289.8 210.1,289.3 210.1,288.8 210.1,288.6 210.2,288.2 210.2,287.6 210.2,286.9 210.2,286.5 210.2,286.0 210.2,285.4 210.2,284.9 210.2,284.3 210.3,283.8 210.3,283.4 210.3,282.9 210.3,282.5 210.3,281.8 210.3,281.3 210.3,281.1 210.3,280.5 210.4,280.1 210.4,279.5 210.4,278.8 210.4,278.4 210.4,278.0 210.4,277.5 210.4,276.8 210.5,276.4 210.5,275.9 210.5,275.2 210.5,274.8 210.5,274.5 210.5,274.0 210.5,273.4 210.5,272.9 210.6,272.4 210.6,271.8 210.6,271.2 210.6,271.0 210.6,270.5 210.6,269.8 210.6,269.5 210.6,269.0 210.7,268.4 210.7,268.0 210.7,267.5 210.7,266.7 210.7,266.5 210.7,265.8 210.7,265.5 210.8,264.9 210.8,264.2 210.8,263.9 210.8,263.2 210.8,262.9 210.8,262.3 210.8,261.8 210.8,261.2 210.9,261.0 210.9,260.4 210.9,259.7 210.9,259.4 210.9,258.7 210.9,258.4 210.9,257.9 210.9,257.4 211.0,256.9 211.0,256.5 211.0,255.9 211.0,255.3 211.0,254.8 211.0,254.3 211.0,253.7 211.1,253.2 211.1,252.9 211.1,252.4 211.1,252.0 211.1,251.4 211.1,250.8 211.1,250.2 211.1,249.9 211.2,249.3 211.2,249.0 211.2,248.4 211.2,247.7 211.2,247.2 211.2,246.6 211.2,246.4 211.2,245.7 211.3,245.2 211.3,244.6 211.3,244.3 211.3,243.9 211.3,243.2 211.3,242.8 211.3,242.4 211.4,241.8 211.4,241.3 211.4,240.6 211.4,240.3 211.4,239.8 211.4,239.4 211.4,238.7 211.4,238.2 211.5,237.9 211.5,237.3 211.5,236.7 211.5,236.3 211.5,235.6 211.5,235.1 211.5,234.9 211.5,234.2 211.6,233.8 211.6,233.1 211.6,232.7 211.6,232.1 211.6,232.6 211.7,232.8 211.8,233.1 211.8,233.5 211.9,233.9 212.0,234.3 212.1,235.0 212.2,235.4 212.2,235.9 212.3,236.6 212.4,237.2 212.5,238.1 212.6,238.5 212.7,239.2 212.8,240.2 212.8,240.5 212.9,240.8 212.9,241.2 213.0,241.6 213.0,242.0 213.1,242.6 213.1,243.2 213.2,243.5 213.2,244.2 213.3,244.6 213.3,245.3 213.4,245.7 213.4,246.4 213.5,247.0 213.5,247.4 213.6,248.0 213.6,248.4 213.7,249.0 213.7,249.8 213.8,250.4 213.8,250.7 213.9,251.7 213.9,252.2 214.0,252.6 214.0,253.2 214.1,253.8 214.1,254.3 214.2,254.8 214.2,255.5 214.3,255.9 214.3,256.4 214.4,257.0 214.4,257.4 214.5,258.0 214.5,258.5 214.6,259.0 214.6,259.7 214.7,260.3 214.7,260.8 214.7,261.3 214.8,262.0 214.8,262.4 214.9,263.2 214.9,263.4 215.0,263.9 215.0,264.7 215.1,265.3 215.1,265.7 215.1,266.2 215.2,266.8 215.2,267.2 215.3,268.0 215.3,268.5 215.4,268.8 215.4,269.4 215.5,269.9 215.5,270.2 215.6,270.9 215.6,271.3 215.7,272.1 215.7,272.7 215.8,273.4 215.8,273.7 215.9,274.3 215.9,275.2 216.0,275.4 216.1,276.3 216.1,276.6 216.2,277.4 216.2,277.7 216.3,278.2 216.3,279.1 216.4,279.5 216.5,280.0 216.5,280.7 216.6,281.1 216.7,281.4 216.7,282.0 216.8,282.4 216.9,282.8 217.0,283.2" fill="none" stroke="#8aa038" stroke-width="2.0" stroke-linejoin="round" stroke-linecap="round"/>
<polyline points="216.1,276.6 216.2,277.4 216.2,277.7 216.3,278.2 216.3,279.1 216.4,279.5 216.5,280.0 216.5,280.7 216.6,281.1 216.7,281.4 216.7,282.0 216.8,282.4 216.9,282.8 217.0,283.2 217.2,283.9 217.3,284.7 217.5,285.3 217.7,285.6 217.9,287.2 218.1,287.0 218.3,287.8 218.6,288.7 218.8,289.0 219.0,288.7 219.3,290.2 219.6,290.6 220.0,290.9 220.4,290.6 220.9,291.7 221.3,291.8 221.8,291.2 222.3,291.8 222.9,292.2 223.4,292.0 224.0,292.5 224.4,292.2 224.9,292.2 225.3,292.3 225.7,291.3 226.2,292.0 226.6,290.6 227.1,291.6 227.7,290.4 228.3,290.8 228.9,290.5 229.6,289.7 230.4,290.2 230.8,290.3 231.2,289.3 231.6,289.2 232.0,289.8 232.5,289.2 233.0,288.3 233.5,288.5 234.0,289.2 234.5,288.1 235.0,287.9 235.5,287.9 236.1,288.2 236.6,287.9 237.2,287.1 237.7,287.2 238.3,286.1 238.8,285.9 239.3,286.1 239.9,286.3 240.4,285.4 241.0,285.0 241.5,285.9 242.0,284.8 242.5,284.4 243.0,284.2 243.4,284.0 243.9,284.2 244.5,284.3 245.0,284.2 245.6,283.5 246.1,283.7 246.6,283.3 247.2,283.4 247.7,282.6 248.2,283.2 248.7,282.1 249.2,283.3 249.7,282.1 250.2,282.4 250.6,281.8 251.1,282.0 251.6,281.6 252.1,282.0 252.6,282.1 253.1,282.1 253.6,282.2 254.1,281.4 254.6,281.4 255.1,281.0 255.6,280.9 256.1,281.1 256.6,281.7 257.1,280.3 257.6,281.3 258.1,280.6 258.5,281.0 259.0,280.5 259.5,281.1 260.0,280.7 260.5,280.4 261.0,280.6 261.5,280.0 262.0,280.1 262.6,281.3 263.1,280.1 263.7,280.6 264.2,281.0 264.8,280.1 265.4,281.4 265.8,280.4 266.3,281.5 266.7,280.8 267.2,281.1 267.7,281.1 268.1,280.5 268.6,281.1 269.1,281.5 269.5,281.7 270.0,281.7 270.5,281.7 271.0,281.0 271.5,281.4 272.0,281.7 272.5,281.1 273.0,282.2 273.5,281.3 274.1,282.1 274.6,281.8 275.1,281.7 275.6,282.9 276.2,282.5 276.7,282.8 277.3,282.7 277.8,282.7 278.3,283.2 278.9,282.2 279.4,282.7 280.0,282.5 280.5,283.1 280.9,282.9 281.4,283.7 281.8,282.8 282.3,282.9 282.8,283.9 283.3,283.7 283.8,283.3 284.3,283.3 284.8,283.9 285.3,283.1 285.8,284.0 286.3,283.4 286.8,284.3 287.3,283.3 287.8,284.6 288.4,284.5 288.9,283.4 289.4,283.7 289.9,284.8 290.4,284.8 290.9,284.1 291.4,284.9 291.9,284.6 292.4,284.2 292.9,284.9 293.4,284.6 293.9,284.2 294.4,285.3 294.9,285.2 295.4,284.5 295.9,284.9 296.3,285.3 296.8,284.9 297.3,284.8 297.7,285.2 298.3,285.9 298.8,284.8 299.4,285.1 299.9,285.4 300.4,286.2 301.0,286.3 301.5,285.0 302.0,285.9 302.5,285.3 303.0,285.4 303.5,285.4 304.0,286.0 304.5,286.7 305.0,286.7 305.5,285.9 306.0,286.7 306.5,286.5 307.0,285.7 307.4,286.9 307.9,286.0 308.4,287.1 308.9,285.9 309.4,287.0 309.9,286.5 310.4,286.6 311.0,286.2 311.5,286.6 312.0,287.1 312.5,286.8 313.0,287.5 313.6,286.9 314.1,287.4 314.7,286.4 315.3,287.3 315.8,287.1 316.4,287.6 317.0,286.8 317.6,287.1 318.2,287.6 318.8,286.8 319.4,287.0 320.0,287.7 320.6,287.5 321.2,287.3 321.7,286.7 322.3,287.8 322.8,287.3 323.4,287.1 323.9,287.3 324.4,287.0 324.8,288.0 325.3,288.0 325.7,288.2 326.1,287.9 326.5,287.2 326.8,287.5 327.1,288.4 327.4,287.0" fill="none" stroke="#8aa038" stroke-width="2.8" stroke-linejoin="round" stroke-linecap="round"/>
<polyline points="204.8,301.4 205.3,301.4 205.8,301.4 206.3,301.4 206.8,301.5 207.3,301.3 207.8,301.6 208.3,301.5 208.8,301.4 209.3,301.4 209.8,301.5 209.8,300.9 209.8,300.5 209.8,299.9 209.9,299.4 209.9,299.0 209.9,298.3 209.9,298.0 209.9,297.6 209.9,297.0 209.9,296.3 209.9,296.0 210.0,295.3 210.0,294.8 210.0,294.3 210.0,294.0 210.0,293.3 210.0,292.9 210.0,292.3 210.0,292.1 210.1,291.3 210.1,291.0 210.1,290.6 210.1,289.9 210.1,289.5 210.1,288.9 210.1,288.6 210.2,288.0 210.2,287.3 210.2,287.0 210.2,286.3 210.2,285.9 210.2,285.3 210.2,284.9 210.2,284.5 210.3,284.0 210.3,283.4 210.3,282.8 210.3,282.4 210.3,282.1 210.3,281.4 210.3,281.0 210.3,280.5 210.4,280.0 210.4,279.6 210.4,279.1 210.4,278.5 210.4,278.0 210.4,277.3 210.4,276.8 210.5,276.5 210.5,275.9 210.5,275.5 210.5,275.0 210.5,274.3 210.5,273.8 210.5,273.4 210.5,272.7 210.6,272.4 210.6,271.8 210.6,271.3 210.6,270.9 210.6,270.4 210.6,269.9 210.6,269.2 210.6,269.0 210.7,268.4 210.7,268.0 210.7,267.4 210.7,266.9 210.7,266.5 210.7,265.9 210.7,265.4 210.8,264.7 210.8,264.2 210.8,263.9 210.8,263.5 210.8,262.8 210.8,262.2 210.8,261.8 210.8,261.4 210.9,260.9 210.9,260.2 210.9,259.7 210.9,259.2 210.9,258.9 210.9,258.2 210.9,258.0 210.9,257.3 211.0,256.7 211.0,256.3 211.0,255.7 211.0,255.4 211.0,254.6 211.0,254.3 211.0,253.7 211.1,253.1 211.1,252.7 211.1,252.5 211.1,251.9 211.1,251.3 211.1,250.9 211.1,250.4 211.1,249.9 211.2,249.4 211.2,248.8 211.2,248.3 211.2,247.8 211.2,247.3 211.2,246.9 211.2,246.1 211.2,245.9 211.3,245.3 211.3,244.7 211.3,244.4 211.3,243.7 211.3,243.2 211.3,242.8 211.3,242.4 211.4,241.6 211.4,241.4 211.4,240.8 211.4,240.4 211.4,239.7 211.4,239.3 211.4,238.9 211.4,238.4 211.5,237.8 211.5,237.3 211.5,236.8 211.5,236.2 211.5,235.6 211.5,235.2 211.5,234.9 211.5,234.4 211.6,233.5 211.6,233.1 211.6,232.6 211.6,232.3 211.6,232.4 211.7,232.9 211.8,233.0 211.8,233.5 211.9,234.2 212.0,234.3 212.1,235.0 212.2,235.4 212.2,236.1 212.3,236.5 212.4,237.3 212.5,237.8 212.6,238.7 212.7,239.2 212.8,240.1 212.8,240.2 212.9,241.0 212.9,241.3 213.0,241.8 213.0,242.2 213.1,242.5 213.1,243.2 213.2,243.5 213.2,244.0 213.3,244.7 213.3,245.1 213.4,245.5 213.4,246.0 213.5,246.7 213.5,247.0 213.6,247.6 213.6,248.1 213.7,248.7 213.7,249.5 213.8,249.8 213.8,250.6 213.9,250.9 213.9,251.7 214.0,252.2 214.0,252.7 214.1,253.3 214.1,253.6 214.2,254.4 214.2,254.9 214.3,255.3 214.3,255.7 214.4,256.2 214.4,256.7 214.5,257.5 214.5,257.8 214.6,258.3 214.6,258.9 214.7,259.3 214.7,260.1 214.7,260.6 214.8,261.0 214.8,261.4 214.9,262.2 214.9,262.7 215.0,263.3 215.0,263.6 215.1,264.4 215.1,264.8 215.1,265.1 215.2,265.9 215.2,266.3 215.3,266.6 215.3,267.4 215.4,267.8 215.4,268.3 215.5,268.5 215.5,269.0 215.6,269.7 215.6,269.9 215.7,270.5 215.7,271.1 215.8,271.9 215.8,272.3 215.9,273.1 215.9,273.6 216.0,274.3 216.1,274.9 216.1,275.4 216.2,275.7 216.2,276.3 216.3,276.9 216.3,277.3 216.4,278.0 216.5,278.3 216.5,278.8 216.6,279.2 216.7,279.8 216.7,280.1 216.8,280.5 216.9,281.1 217.0,281.5" fill="none" stroke="#6a3818" stroke-width="2.0" stroke-linejoin="round" stroke-linecap="round"/>
<polyline points="216.1,275.4 216.2,275.7 216.2,276.3 216.3,276.9 216.3,277.3 216.4,278.0 216.5,278.3 216.5,278.8 216.6,279.2 216.7,279.8 216.7,280.1 216.8,280.5 216.9,281.1 217.0,281.5 217.2,282.0 217.3,282.6 217.5,283.3 217.7,284.3 217.9,284.7 218.1,285.2 218.3,285.8 218.6,285.6 218.8,286.3 219.0,286.1 219.3,286.9 219.6,287.5 220.0,287.4 220.4,288.4 220.9,287.9 221.3,288.4 221.8,288.8 222.3,288.4 222.9,289.0 223.4,288.7 224.0,288.3 224.4,288.4 224.9,289.1 225.3,289.3 225.7,289.1 226.2,289.3 226.6,289.0 227.1,289.0 227.7,289.0 228.3,288.6 228.9,288.4 229.6,287.8 230.4,287.7 230.8,287.5 231.2,287.4 231.6,287.7 232.0,287.4 232.5,287.7 233.0,287.9 233.5,287.1 234.0,287.7 234.5,287.5 235.0,286.6 235.5,287.0 236.1,286.4 236.6,286.1 237.2,286.1 237.7,286.0 238.3,285.6 238.8,285.5 239.3,286.3 239.9,286.2 240.4,286.1 241.0,285.0 241.5,284.8 242.0,285.7 242.5,285.0 243.0,284.8 243.4,285.2 243.9,284.9 244.5,284.5 245.0,284.2 245.6,284.0 246.1,284.6 246.6,284.7 247.2,283.6 247.7,283.7 248.2,283.9 248.7,283.5 249.2,283.7 249.7,283.6 250.2,283.2 250.6,282.9 251.1,283.2 251.6,283.6 252.1,282.7 252.6,283.1 253.1,283.4 253.6,283.0 254.1,282.7 254.6,283.4 255.1,283.2 255.6,283.4 256.1,282.5 256.6,282.7 257.1,282.7 257.6,283.2 258.1,282.9 258.5,282.8 259.0,282.8 259.5,283.3 260.0,282.6 260.5,282.4 261.0,282.5 261.5,282.6 262.0,282.5 262.6,283.6 263.1,283.2 263.7,283.6 264.2,283.2 264.8,283.4 265.4,283.1 265.8,284.0 266.3,283.5 266.7,283.6 267.2,284.1 267.7,284.3 268.1,284.6 268.6,284.0 269.1,284.1 269.5,284.7 270.0,284.3 270.5,284.1 271.0,284.6 271.5,284.5 272.0,284.5 272.5,285.3 273.0,284.9 273.5,285.3 274.1,285.1 274.6,285.0 275.1,285.9 275.6,286.0 276.2,286.0 276.7,286.1 277.3,285.7 277.8,286.2 278.3,286.7 278.9,286.7 279.4,286.6 280.0,286.8 280.5,286.3 280.9,286.3 281.4,287.3 281.8,286.4 282.3,286.8 282.8,287.1 283.3,287.5 283.8,287.6 284.3,287.9 284.8,288.1 285.3,287.4 285.8,287.5 286.3,287.4 286.8,287.8 287.3,287.6 287.8,288.7 288.4,288.4 288.9,288.4 289.4,288.0 289.9,289.1 290.4,288.4 290.9,289.1 291.4,288.5 291.9,288.7 292.4,288.6 292.9,289.2 293.4,289.0 293.9,289.4 294.4,289.7 294.9,289.2 295.4,289.2 295.9,289.7 296.3,289.6 296.8,289.8 297.3,289.8 297.7,289.6 298.3,289.6 298.8,290.5 299.4,290.4 299.9,290.6 300.4,290.6 301.0,290.5 301.5,290.2 302.0,291.2 302.5,290.8 303.0,290.8 303.5,290.6 304.0,290.8 304.5,291.6 305.0,291.0 305.5,291.5 306.0,290.7 306.5,291.4 307.0,291.0 307.4,291.1 307.9,291.2 308.4,291.4 308.9,291.7 309.4,291.5 309.9,292.1 310.4,291.3 311.0,292.2 311.5,291.8 312.0,292.3 312.5,291.8 313.0,291.7 313.6,292.5 314.1,292.3 314.7,292.4 315.3,292.3 315.8,292.5 316.4,292.9 317.0,292.7 317.6,293.0 318.2,292.3 318.8,292.3 319.4,293.1 320.0,293.1 320.6,293.2 321.2,292.7 321.7,292.7 322.3,293.4 322.8,292.6 323.4,292.6 323.9,292.6 324.4,292.8 324.8,293.0 325.3,293.0 325.7,293.1 326.1,292.6 326.5,293.0 326.8,293.3 327.1,292.7 327.4,293.3" fill="none" stroke="#6a3818" stroke-width="2.6" stroke-linejoin="round" stroke-linecap="round"/>
<polyline points="204.8,303.1 205.3,303.0 205.8,303.1 206.3,303.1 206.8,303.0 207.3,302.9 207.8,302.9 208.3,303.0 208.8,303.1 209.3,302.9 209.8,302.9 209.8,302.6 209.8,302.0 209.8,301.5 209.9,300.9 209.9,300.5 209.9,300.0 209.9,299.5 209.9,299.1 209.9,298.4 209.9,298.1 209.9,297.4 210.0,296.9 210.0,296.4 210.0,296.1 210.0,295.4 210.0,294.8 210.0,294.5 210.0,293.9 210.0,293.3 210.1,292.8 210.1,292.4 210.1,291.9 210.1,291.3 210.1,290.8 210.1,290.6 210.1,290.0 210.2,289.6 210.2,289.0 210.2,288.6 210.2,288.0 210.2,287.4 210.2,286.8 210.2,286.3 210.2,286.0 210.3,285.5 210.3,284.9 210.3,284.3 210.3,284.0 210.3,283.5 210.3,282.8 210.3,282.6 210.3,281.9 210.4,281.3 210.4,280.8 210.4,280.5 210.4,280.0 210.4,279.3 210.4,278.8 210.4,278.3 210.5,277.8 210.5,277.3 210.5,276.9 210.5,276.3 210.5,275.9 210.5,275.3 210.5,274.8 210.5,274.4 210.6,273.8 210.6,273.2 210.6,272.7 210.6,272.2 210.6,271.9 210.6,271.2 210.6,270.9 210.6,270.5 210.7,269.9 210.7,269.3 210.7,268.8 210.7,268.3 210.7,267.8 210.7,267.2 210.7,266.7 210.8,266.2 210.8,265.8 210.8,265.3 210.8,264.7 210.8,264.4 210.8,263.7 210.8,263.3 210.8,262.9 210.9,262.3 210.9,261.9 210.9,261.4 210.9,260.8 210.9,260.2 210.9,259.7 210.9,259.4 210.9,258.8 211.0,258.2 211.0,257.7 211.0,257.2 211.0,256.9 211.0,256.3 211.0,255.9 211.0,255.4 211.1,254.7 211.1,254.2 211.1,253.9 211.1,253.2 211.1,252.8 211.1,252.4 211.1,251.8 211.1,251.3 211.2,250.9 211.2,250.4 211.2,249.9 211.2,249.3 211.2,248.7 211.2,248.1 211.2,247.6 211.2,247.4 211.3,246.8 211.3,246.4 211.3,245.9 211.3,245.2 211.3,244.9 211.3,244.2 211.3,243.6 211.4,243.2 211.4,242.9 211.4,242.4 211.4,241.7 211.4,241.2 211.4,240.8 211.4,240.3 211.4,239.8 211.5,239.2 211.5,238.6 211.5,238.2 211.5,237.8 211.5,237.2 211.5,236.8 211.5,236.1 211.5,235.7 211.6,235.3 211.6,234.7 211.6,234.3 211.6,233.8 211.6,234.0 211.7,234.4 211.8,234.7 211.8,235.0 211.9,235.5 212.0,236.0 212.1,236.6 212.2,237.1 212.2,237.5 212.3,238.2 212.4,238.8 212.5,239.5 212.6,240.0 212.7,240.8 212.8,241.4 212.8,242.0 212.9,242.4 212.9,242.6 213.0,243.1 213.0,243.5 213.1,244.1 213.1,244.7 213.2,245.0 213.2,245.4 213.3,246.1 213.3,246.6 213.4,247.1 213.4,247.6 213.5,248.1 213.5,248.6 213.6,249.3 213.6,249.7 213.7,250.4 213.7,250.9 213.8,251.3 213.8,251.9 213.9,252.6 213.9,253.2 214.0,253.8 214.0,254.1 214.1,254.6 214.1,255.1 214.2,255.7 214.2,256.3 214.3,256.9 214.3,257.4 214.4,257.8 214.4,258.2 214.5,258.8 214.5,259.2 214.6,259.8 214.6,260.4 214.7,260.9 214.7,261.4 214.7,261.9 214.8,262.6 214.8,263.1 214.9,263.6 214.9,264.1 215.0,264.6 215.0,265.2 215.1,265.5 215.1,266.3 215.1,266.9 215.2,267.3 215.2,267.6 215.3,268.1 215.3,268.8 215.4,269.1 215.4,269.7 215.5,270.2 215.5,270.7 215.6,271.0 215.6,271.6 215.7,272.3 215.7,272.7 215.8,273.3 215.8,274.0 215.9,274.6 215.9,275.1 216.0,275.8 216.1,276.3 216.1,276.9 216.2,277.2 216.2,277.8 216.3,278.2 216.3,278.7 216.4,279.3 216.5,279.9 216.5,280.2 216.6,280.7 216.7,281.3 216.7,281.7 216.8,282.1 216.9,282.4 217.0,282.9" fill="none" stroke="#4a58c0" stroke-width="1.2" stroke-linejoin="round" stroke-linecap="round"/>
<polyline points="216.1,276.9 216.2,277.2 216.2,277.8 216.3,278.2 216.3,278.7 216.4,279.3 216.5,279.9 216.5,280.2 216.6,280.7 216.7,281.3 216.7,281.7 216.8,282.1 216.9,282.4 217.0,282.9 217.2,283.4 217.3,284.0 217.5,284.7 217.7,285.2 217.9,285.7 218.1,286.8 218.3,286.8 218.6,287.7 218.8,287.7 219.0,288.0 219.3,288.3 219.6,288.3 220.0,289.1 220.4,289.9 220.9,290.1 221.3,290.3 221.8,289.6 222.3,290.0 222.9,290.5 223.4,289.8 224.0,289.8 224.4,289.9 224.9,289.8 225.3,290.5 225.7,290.4 226.2,290.6 226.6,289.6 227.1,290.2 227.7,290.2 228.3,289.4 228.9,289.2 229.6,289.9 230.4,289.6 230.8,288.8 231.2,288.8 231.6,289.2 232.0,288.6 232.5,288.7 233.0,288.3 233.5,288.1 234.0,288.4 234.5,288.3 235.0,288.5 235.5,287.5 236.1,287.7 236.6,287.3 237.2,287.6 237.7,287.1 238.3,287.1 238.8,287.6 239.3,287.1 239.9,287.0 240.4,286.8 241.0,286.3 241.5,286.6 242.0,286.8 242.5,285.8 243.0,286.4 243.4,285.8 243.9,285.6 244.5,285.9 245.0,285.9 245.6,285.1 246.1,285.0 246.6,285.2 247.2,284.8 247.7,285.0 248.2,285.3 248.7,284.3 249.2,284.6 249.7,284.2 250.2,284.1 250.6,284.4 251.1,284.7 251.6,284.1 252.1,284.1 252.6,284.2 253.1,284.3 253.6,284.3 254.1,283.7 254.6,283.5 255.1,284.2 255.6,283.8 256.1,284.1 256.6,283.3 257.1,284.0 257.6,283.3 258.1,283.3 258.5,283.3 259.0,283.6 259.5,283.7 260.0,283.9 260.5,284.3 261.0,283.8 261.5,284.0 262.0,283.9 262.6,283.9 263.1,283.9 263.7,283.7 264.2,284.0 264.8,284.5 265.4,284.7 265.8,284.7 266.3,284.5 266.7,284.6 267.2,284.4 267.7,284.6 268.1,285.4 268.6,285.1 269.1,285.0 269.5,285.3 270.0,285.4 270.5,285.3 271.0,285.5 271.5,285.7 272.0,286.2 272.5,286.4 273.0,285.9 273.5,286.2 274.1,286.1 274.6,287.0 275.1,286.3 275.6,286.7 276.2,286.4 276.7,287.0 277.3,287.1 277.8,286.8 278.3,287.1 278.9,287.5 279.4,287.6 280.0,287.6 280.5,287.4 280.9,287.8 281.4,287.9 281.8,287.8 282.3,288.4 282.8,288.1 283.3,288.6 283.8,288.8 284.3,288.3 284.8,288.8 285.3,289.1 285.8,289.5 286.3,289.4 286.8,289.6 287.3,289.6 287.8,289.2 288.4,289.9 288.9,290.0 289.4,289.8 289.9,290.4 290.4,289.6 290.9,290.6 291.4,290.1 291.9,290.4 292.4,290.8 292.9,290.2 293.4,290.7 293.9,290.3 294.4,290.4 294.9,291.4 295.4,290.8 295.9,291.1 296.3,290.9 296.8,291.8 297.3,291.4 297.7,291.9 298.3,291.4 298.8,291.7 299.4,291.5 299.9,292.0 300.4,292.2 301.0,292.1 301.5,292.2 302.0,292.0 302.5,292.7 303.0,291.9 303.5,292.1 304.0,292.7 304.5,293.0 305.0,293.0 305.5,292.4 306.0,293.2 306.5,292.8 307.0,293.0 307.4,293.1 307.9,293.1 308.4,293.4 308.9,293.5 309.4,293.0 309.9,293.6 310.4,293.1 311.0,293.6 311.5,293.1 312.0,293.6 312.5,293.4 313.0,294.1 313.6,293.8 314.1,293.6 314.7,294.3 315.3,293.5 315.8,294.2 316.4,294.1 317.0,293.6 317.6,294.1 318.2,293.8 318.8,294.7 319.4,293.9 320.0,294.5 320.6,294.4 321.2,294.1 321.7,294.9 322.3,294.6 322.8,294.7 323.4,294.4 323.9,294.3 324.4,294.5 324.8,294.3 325.3,294.5 325.7,294.8 326.1,294.8 326.5,295.2 326.8,294.6 327.1,294.7 327.4,295.0" fill="none" stroke="#4a58c0" stroke-width="1.2" stroke-linejoin="round" stroke-linecap="round"/>
<polyline points="204.8,301.6 205.3,301.4 205.8,301.4 206.3,301.3 206.8,301.4 207.3,301.4 207.8,301.6 208.3,301.4 208.8,301.4 209.3,301.6 209.8,301.4 209.8,300.8 209.8,300.7 209.8,300.2 209.9,299.4 209.9,298.9 209.9,298.5 209.9,297.9 209.9,297.6 209.9,297.1 209.9,296.6 209.9,295.9 210.0,295.6 210.0,295.2 210.0,294.3 210.0,294.0 210.0,293.3 210.0,293.2 210.0,292.6 210.0,291.9 210.1,291.6 210.1,290.9 210.1,290.3 210.1,290.0 210.1,289.3 210.1,288.9 210.1,288.6 210.2,288.0 210.2,287.3 210.2,286.8 210.2,286.5 210.2,285.9 210.2,285.6 210.2,284.8 210.2,284.4 210.3,283.9 210.3,283.4 210.3,282.8 210.3,282.4 210.3,281.9 210.3,281.3 210.3,280.8 210.3,280.4 210.4,280.1 210.4,279.4 210.4,278.8 210.4,278.2 210.4,277.9 210.4,277.3 210.4,276.7 210.5,276.4 210.5,275.9 210.5,275.3 210.5,275.0 210.5,274.4 210.5,273.7 210.5,273.2 210.5,272.9 210.6,272.4 210.6,271.9 210.6,271.3 210.6,270.8 210.6,270.5 210.6,269.8 210.6,269.4 210.6,268.7 210.7,268.4 210.7,267.8 210.7,267.1 210.7,267.0 210.7,266.5 210.7,266.1 210.7,265.5 210.8,264.9 210.8,264.3 210.8,263.7 210.8,263.4 210.8,262.8 210.8,262.3 210.8,261.7 210.8,261.4 210.9,260.9 210.9,260.4 210.9,259.7 210.9,259.2 210.9,258.9 210.9,258.2 210.9,258.0 210.9,257.5 211.0,256.9 211.0,256.2 211.0,255.8 211.0,255.4 211.0,254.7 211.0,254.4 211.0,253.8 211.1,253.5 211.1,252.9 211.1,252.4 211.1,251.8 211.1,251.4 211.1,250.8 211.1,250.4 211.1,249.7 211.2,249.1 211.2,248.8 211.2,248.2 211.2,248.0 211.2,247.1 211.2,246.9 211.2,246.2 211.2,245.6 211.3,245.3 211.3,244.7 211.3,244.5 211.3,243.8 211.3,243.1 211.3,242.7 211.3,242.1 211.4,241.7 211.4,241.3 211.4,240.7 211.4,240.3 211.4,239.7 211.4,239.4 211.4,238.8 211.4,238.1 211.5,237.9 211.5,237.0 211.5,236.6 211.5,236.0 211.5,235.9 211.5,235.2 211.5,234.9 211.5,234.4 211.6,233.5 211.6,233.4 211.6,232.5 211.6,232.3 211.6,232.6 211.7,232.8 211.8,233.3 211.8,233.7 211.9,234.0 212.0,234.4 212.1,234.8 212.2,235.3 212.2,236.1 212.3,236.6 212.4,237.1 212.5,237.9 212.6,238.4 212.7,239.2 212.8,240.1 212.8,240.3 212.9,240.8 212.9,241.1 213.0,241.8 213.0,242.0 213.1,242.8 213.1,243.3 213.2,243.8 213.2,244.0 213.3,244.6 213.3,244.9 213.4,245.8 213.4,246.2 213.5,246.5 213.5,247.0 213.6,247.6 213.6,248.2 213.7,249.0 213.7,249.5 213.8,249.8 213.8,250.6 213.9,250.8 213.9,251.6 214.0,252.1 214.0,252.5 214.1,253.4 214.1,253.8 214.2,254.5 214.2,254.8 214.3,255.3 214.3,255.6 214.4,256.3 214.4,257.0 214.5,257.3 214.5,257.9 214.6,258.3 214.6,258.8 214.7,259.2 214.7,259.8 214.7,260.3 214.8,260.8 214.8,261.4 214.9,262.2 214.9,262.8 215.0,263.2 215.0,263.8 215.1,264.1 215.1,264.8 215.1,265.2 215.2,265.9 215.2,266.1 215.3,266.6 215.3,267.2 215.4,267.6 215.4,268.1 215.5,268.7 215.5,269.2 215.6,269.8 215.6,270.1 215.7,270.5 215.7,271.2 215.8,271.8 215.8,272.4 215.9,273.1 215.9,273.6 216.0,274.3 216.1,274.7 216.1,275.2 216.2,275.5 216.2,276.2 216.3,276.8 216.3,277.1 216.4,277.7 216.5,278.1 216.5,278.6 216.6,279.3 216.7,279.8 216.7,279.9 216.8,280.5 216.9,280.9 217.0,281.1" fill="none" stroke="#d03a8c" stroke-width="2.0" stroke-linejoin="round" stroke-linecap="round"/>
<polyline points="216.1,275.2 216.2,275.5 216.2,276.2 216.3,276.8 216.3,277.1 216.4,277.7 216.5,278.1 216.5,278.6 216.6,279.3 216.7,279.8 216.7,279.9 216.8,280.5 216.9,280.9 217.0,281.1 217.2,281.9 217.3,282.7 217.5,283.2 217.7,283.9 217.9,283.8 218.1,285.0 218.3,285.5 218.6,285.3 218.8,286.3 219.0,287.1 219.3,287.4 219.6,287.4 220.0,287.6 220.4,288.2 220.9,288.1 221.3,288.6 221.8,288.3 222.3,288.7 222.9,289.1 223.4,288.9 224.0,289.0 224.4,288.7 224.9,288.7 225.3,289.1 225.7,288.8 226.2,288.8 226.6,288.7 227.1,288.5 227.7,288.9 228.3,289.2 228.9,288.1 229.6,288.6 230.4,288.3 230.8,288.4 231.2,288.4 231.6,287.9 232.0,287.3 232.5,287.7 233.0,287.8 233.5,287.9 234.0,288.2 234.5,287.7 235.0,287.6 235.5,287.1 236.1,287.6 236.6,286.5 237.2,287.5 237.7,286.8 238.3,286.6 238.8,286.9 239.3,286.5 239.9,287.1 240.4,285.7 241.0,285.5 241.5,286.2 242.0,285.6 242.5,285.5 243.0,286.5 243.4,285.7 243.9,285.3 244.5,285.3 245.0,285.0 245.6,284.9 246.1,284.7 246.6,285.8 247.2,285.3 247.7,284.7 248.2,284.3 248.7,285.4 249.2,285.2 249.7,284.0 250.2,285.0 250.6,284.5 251.1,285.0 251.6,284.2 252.1,284.1 252.6,283.5 253.1,284.2 253.6,283.7 254.1,284.6 254.6,283.6 255.1,284.6 255.6,283.8 256.1,284.4 256.6,284.3 257.1,284.6 257.6,284.2 258.1,283.9 258.5,283.8 259.0,283.8 259.5,283.6 260.0,283.9 260.5,284.0 261.0,284.8 261.5,283.7 262.0,284.5 262.6,284.6 263.1,284.2 263.7,285.0 264.2,284.4 264.8,285.3 265.4,284.6 265.8,285.7 266.3,285.0 266.7,284.8 267.2,285.0 267.7,285.2 268.1,285.2 268.6,285.5 269.1,286.6 269.5,285.9 270.0,286.0 270.5,286.7 271.0,285.9 271.5,286.0 272.0,287.3 272.5,286.7 273.0,286.6 273.5,286.8 274.1,287.7 274.6,288.2 275.1,287.5 275.6,288.1 276.2,287.9 276.7,287.7 277.3,288.0 277.8,288.2 278.3,288.2 278.9,289.1 279.4,288.3 280.0,288.9 280.5,289.5 280.9,288.6 281.4,290.0 281.8,289.7 282.3,289.8 282.8,289.3 283.3,289.5 283.8,290.5 284.3,290.8 284.8,289.6 285.3,290.8 285.8,290.1 286.3,290.1 286.8,290.9 287.3,290.3 287.8,291.5 288.4,291.7 288.9,291.0 289.4,290.9 289.9,291.6 290.4,292.0 290.9,291.2 291.4,292.2 291.9,291.5 292.4,292.0 292.9,291.8 293.4,291.9 293.9,292.6 294.4,292.4 294.9,293.4 295.4,293.5 295.9,293.3 296.3,293.1 296.8,293.4 297.3,293.1 297.7,293.3 298.3,293.5 298.8,293.5 299.4,293.6 299.9,294.2 300.4,294.5 301.0,294.2 301.5,294.5 302.0,293.8 302.5,293.5 303.0,293.8 303.5,294.2 304.0,294.7 304.5,294.7 305.0,295.0 305.5,294.9 306.0,294.3 306.5,294.0 307.0,294.6 307.4,294.5 307.9,295.3 308.4,295.4 308.9,294.9 309.4,295.3 309.9,295.3 310.4,295.1 311.0,295.0 311.5,295.8 312.0,295.6 312.5,295.4 313.0,296.0 313.6,294.9 314.1,295.8 314.7,295.5 315.3,295.3 315.8,295.0 316.4,295.7 317.0,296.2 317.6,295.3 318.2,296.3 318.8,296.5 319.4,295.4 320.0,296.0 320.6,295.9 321.2,295.8 321.7,295.5 322.3,295.8 322.8,296.8 323.4,296.7 323.9,296.8 324.4,296.3 324.8,296.3 325.3,295.7 325.7,296.3 326.1,296.5 326.5,297.1 326.8,295.8 327.1,296.7 327.4,295.9" fill="none" stroke="#d03a8c" stroke-width="3.4" stroke-linejoin="round" stroke-linecap="round"/>
<polyline points="269.5,265.0 266.7,283.5" fill="none" stroke="#7a4020" stroke-width="1.5" stroke-linejoin="round" stroke-linecap="round"/>
<polygon points="266.3,286.0 264.9,281.0 269.1,281.6" fill="#7a4020"/>
<polyline points="296.4,269.0 290.7,285.6" fill="none" stroke="#4a58c0" stroke-width="1.5" stroke-linejoin="round" stroke-linecap="round"/>
<polygon points="289.9,288.0 289.4,282.8 293.4,284.2" fill="#4a58c0"/>
<text x="266.8" y="262.8" font-size="9.2" font-weight="normal" font-style="normal" fill="#8a5030" stroke="#8a5030" stroke-width="0.15" textLength="14.8" lengthAdjust="spacingAndGlyphs">(j3)</text>
<text x="299.0" y="262.8" font-size="9.2" font-weight="normal" font-style="normal" fill="#3a48a8" stroke="#3a48a8" stroke-width="0.15" textLength="13.6" lengthAdjust="spacingAndGlyphs">(j4)</text>
<text x="324.7" y="276.3" font-size="9.2" font-weight="normal" font-style="normal" fill="#84a840" stroke="#84a840" stroke-width="0.15" textLength="14.8" lengthAdjust="spacingAndGlyphs">(j1)</text>
<text x="275.7" y="301.9" font-size="9.2" font-weight="normal" font-style="normal" fill="#c040a0" stroke="#c040a0" stroke-width="0.15" textLength="14.0" lengthAdjust="spacingAndGlyphs">(j2)</text>
<polyline points="362.8,297.6 363.3,297.4 363.9,297.5 364.4,297.5 364.9,297.4 365.5,297.5 366.0,297.5 366.5,297.4 367.1,297.5 367.6,297.4 367.6,297.0 367.6,296.6 367.6,296.0 367.7,295.5 367.7,295.0 367.7,294.4 367.7,294.0 367.7,293.5 367.7,292.9 367.8,292.4 367.8,291.9 367.8,291.5 367.8,290.8 367.8,290.5 367.8,289.9 367.8,289.5 367.9,288.9 367.9,288.5 367.9,288.0 367.9,287.5 367.9,287.0 367.9,286.4 367.9,286.0 368.0,285.4 368.0,284.8 368.0,284.4 368.0,284.0 368.0,283.3 368.0,283.0 368.1,282.4 368.1,282.0 368.1,281.4 368.1,280.8 368.1,280.5 368.1,279.8 368.1,279.4 368.2,278.8 368.2,278.3 368.2,277.8 368.2,277.5 368.2,276.8 368.2,276.5 368.2,275.8 368.3,275.5 368.3,274.8 368.3,274.4 368.3,273.9 368.3,273.4 368.3,273.0 368.4,272.3 368.4,272.0 368.4,271.4 368.4,270.9 368.4,270.3 368.4,270.0 368.4,269.4 368.5,268.8 368.5,268.3 368.5,267.9 368.5,267.3 368.5,266.9 368.5,266.4 368.5,265.9 368.6,265.4 368.6,264.7 368.6,264.4 368.6,263.9 368.6,263.2 368.6,262.7 368.7,262.2 368.7,261.7 368.7,261.4 368.7,260.9 368.7,260.3 368.7,259.8 368.7,259.4 368.8,258.7 368.8,258.2 368.8,257.8 368.8,257.2 368.8,256.8 368.8,256.4 368.8,255.8 368.9,255.2 368.9,254.8 368.9,254.2 368.9,253.8 368.9,253.3 368.9,252.7 369.0,252.3 369.0,251.8 369.0,251.3 369.0,250.7 369.0,250.2 369.0,249.8 369.0,249.3 369.1,248.8 369.1,248.3 369.1,247.7 369.1,247.2 369.1,246.7 369.1,246.2 369.1,245.7 369.2,245.3 369.2,244.7 369.2,244.3 369.2,243.7 369.2,243.1 369.2,242.7 369.3,242.3 369.3,241.7 369.3,241.3 369.3,240.7 369.3,240.3 369.3,239.6 369.3,239.2 369.4,238.6 369.4,238.2 369.4,237.6 369.4,237.2 369.4,236.7 369.4,236.1 369.4,235.7 369.5,235.1 369.5,234.6 369.5,234.2 369.5,233.7 369.5,233.1 369.5,232.7 369.6,232.1 369.6,231.5 369.6,231.2 369.6,230.7 369.7,231.0 369.7,231.3 369.8,231.5 369.9,231.7 370.0,232.0 370.1,232.4 370.2,233.0 370.3,233.5 370.5,234.0 370.6,234.7 370.7,235.7 370.8,236.7 370.8,237.1 370.9,237.5 370.9,237.8 370.9,238.0 371.0,238.5 371.0,238.8 371.0,239.4 371.1,239.9 371.1,240.3 371.1,240.7 371.2,241.1 371.2,241.8 371.2,242.2 371.3,242.7 371.3,243.1 371.3,243.7 371.4,244.2 371.4,244.7 371.5,245.3 371.5,245.8 371.5,246.3 371.6,247.0 371.6,247.5 371.6,248.0 371.7,248.6 371.7,249.1 371.7,249.6 371.8,250.2 371.8,250.8 371.8,251.4 371.9,252.0 371.9,252.5 372.0,253.0 372.0,253.6 372.0,254.1 372.1,254.6 372.1,255.1 372.1,255.7 372.2,256.3 372.2,256.8 372.2,257.3 372.3,257.8 372.3,258.3 372.3,258.7 372.4,259.2 372.4,259.9 372.4,260.3 372.5,260.8 372.5,261.4 372.6,261.8 372.6,262.3 372.6,262.9 372.7,263.6 372.7,264.1 372.7,264.4 372.8,265.0 372.8,265.7 372.8,266.0 372.9,266.7 372.9,267.2 372.9,267.8 373.0,268.3 373.0,268.6 373.0,269.3 373.1,269.8 373.1,270.2 373.1,270.9 373.2,271.2 373.2,271.7 373.2,272.2 373.3,272.7 373.3,273.2 373.4,273.6 373.4,274.2 373.4,274.6 373.5,274.9 373.5,275.5 373.5,275.8 373.6,276.3 373.6,276.8 373.7,277.5 373.7,277.9 373.8,278.6 373.8,279.3 373.9,279.8 373.9,280.3 373.9,281.0 374.0,281.5 374.0,282.0 374.1,282.7 374.1,283.1 374.2,283.6 374.2,284.2 374.3,284.8 374.3,285.1 374.4,285.7 374.4,286.0 374.5,286.5 374.5,286.9 374.6,287.3 374.7,287.9 374.7,288.4 374.8,288.6 374.9,289.0 374.9,289.3 375.0,289.8" fill="none" stroke="#4a58c0" stroke-width="2.0" stroke-linejoin="round" stroke-linecap="round"/>
<polyline points="374.1,283.1 374.2,283.6 374.2,284.2 374.3,284.8 374.3,285.1 374.4,285.7 374.4,286.0 374.5,286.5 374.5,286.9 374.6,287.3 374.7,287.9 374.7,288.4 374.8,288.6 374.9,289.0 374.9,289.3 375.0,289.8 375.2,290.5 375.3,291.1 375.5,291.9 375.7,292.1 375.9,293.0 376.1,293.0 376.3,293.9 376.6,293.8 376.8,294.2 377.0,295.2 377.3,294.9 377.6,295.4 378.0,295.9 378.4,296.4 378.9,296.3 379.3,296.1 379.8,296.7 380.3,296.8 380.9,296.8 381.4,296.7 382.0,297.1 382.5,296.5 382.9,297.0 383.4,297.0 383.9,297.3 384.4,297.2 384.9,296.8 385.4,296.9 386.0,297.0 386.5,296.8 387.1,296.6 387.7,297.3 388.4,296.8 388.8,296.5 389.3,296.5 389.7,296.4 390.2,297.0 390.7,296.4 391.2,296.7 391.7,296.9 392.2,296.7 392.8,296.5 393.3,296.2 393.8,296.5 394.3,296.5 394.9,296.0 395.4,295.9 395.9,296.0 396.5,296.1 397.0,296.3 397.5,296.0 398.0,295.7 398.5,296.0 399.0,295.5 399.6,295.4 400.1,295.3 400.6,295.7 401.1,295.6 401.6,295.5 402.1,295.5 402.6,295.2 403.1,295.1 403.6,295.4 404.1,295.2 404.6,295.2 405.1,295.5 405.7,295.1 406.2,295.3 406.7,294.8 407.3,295.1 407.8,294.8 408.3,294.9 408.8,294.9 409.2,295.0 409.7,294.9 410.3,295.5 410.8,295.0 411.3,295.0 411.8,294.9 412.3,295.1 412.8,295.5 413.3,295.3 413.9,295.6 414.4,295.5 414.9,295.5 415.4,295.4 415.9,295.7 416.5,295.4 417.0,295.2 417.5,295.3 418.0,295.8 418.5,295.2 418.9,295.3 419.4,295.7 419.8,295.8 420.1,295.6 420.5,295.8 420.8,295.6 421.2,295.8 421.6,295.4 421.9,295.7 422.3,296.1 422.7,295.8 423.2,295.7 423.7,295.9 424.2,296.2 424.8,295.8 425.5,295.8 426.2,296.2 427.0,296.2 427.8,295.7 428.8,296.1 429.1,295.8 429.5,295.9 429.9,296.3 430.2,295.9 430.6,296.4 431.0,296.0 431.4,296.4 431.9,295.8 432.3,296.0 432.7,295.7 433.2,296.4 433.6,296.4 434.1,296.1 434.6,296.1 435.1,296.5 435.5,296.1 436.0,296.0 436.5,295.9 437.0,296.5 437.6,296.4 438.1,296.2 438.6,296.4 439.1,296.5 439.7,296.4 440.2,296.0 440.7,296.4 441.3,296.6 441.8,296.3 442.4,296.3 442.9,296.4 443.5,296.1 444.0,296.1 444.6,296.5 445.2,296.8 445.7,296.1 446.3,296.5 446.8,296.4 447.4,296.1 448.0,296.2 448.5,296.3 449.1,296.6 449.6,296.2 450.2,296.4 450.8,296.6 451.3,296.7 451.9,296.9 452.4,296.8 452.9,296.3 453.5,296.6 454.0,296.7 454.5,296.6 455.1,296.7 455.6,296.5 456.1,296.4 456.6,296.8 457.1,296.9 457.6,296.8 458.1,296.8 458.6,297.0 459.1,296.5 459.5,296.8 460.0,297.0 460.6,296.8 461.1,296.3 461.7,296.8 462.3,297.0 462.9,296.5 463.5,296.7 464.1,297.2 464.7,296.8 465.3,296.9 465.9,296.9 466.5,297.2 467.1,296.9 467.7,297.2 468.2,297.1 468.8,296.9 469.4,297.0 470.0,296.8 470.6,296.6 471.2,297.0 471.8,296.7 472.4,296.9 473.0,297.3 473.5,297.4 474.1,296.8 474.6,296.8 475.2,297.0 475.8,297.1 476.3,296.9 476.8,297.4 477.3,296.9 477.9,297.2 478.4,297.0 478.9,297.3 479.4,296.9 479.8,297.2 480.3,297.5 480.7,296.9 481.2,297.0 481.6,297.0 482.0,297.6 482.4,297.5 482.8,297.1 483.2,297.7 483.6,297.1 483.9,297.4 484.2,297.6 484.6,297.5 484.9,297.0 485.1,297.0 485.4,297.1" fill="none" stroke="#4a58c0" stroke-width="2.4" stroke-linejoin="round" stroke-linecap="round"/>
<polyline points="362.8,297.1 363.3,297.1 363.9,296.8 364.4,296.7 364.9,297.0 365.5,296.8 366.0,297.1 366.5,297.1 367.1,297.0 367.6,297.0 367.6,296.5 367.6,296.1 367.6,295.3 367.7,295.0 367.7,294.2 367.7,294.0 367.7,293.4 367.7,293.1 367.7,292.5 367.8,291.8 367.8,291.5 367.8,290.9 367.8,290.4 367.8,289.6 367.8,289.2 367.8,288.7 367.9,288.4 367.9,288.0 367.9,287.4 367.9,287.0 367.9,286.4 367.9,285.7 367.9,285.2 368.0,284.9 368.0,284.4 368.0,283.8 368.0,283.4 368.0,282.7 368.0,282.2 368.1,281.7 368.1,281.3 368.1,280.8 368.1,280.1 368.1,280.0 368.1,279.1 368.1,278.9 368.2,278.2 368.2,278.0 368.2,277.2 368.2,276.6 368.2,276.4 368.2,275.7 368.2,275.4 368.3,274.8 368.3,274.2 368.3,273.8 368.3,273.3 368.3,272.7 368.3,272.1 368.4,271.8 368.4,271.3 368.4,270.5 368.4,270.1 368.4,269.7 368.4,269.0 368.4,268.7 368.5,268.2 368.5,267.6 368.5,267.3 368.5,266.8 368.5,266.0 368.5,265.8 368.5,265.4 368.6,264.8 368.6,264.4 368.6,263.6 368.6,263.1 368.6,262.6 368.6,262.1 368.7,261.5 368.7,261.1 368.7,260.7 368.7,260.3 368.7,259.8 368.7,259.0 368.7,258.8 368.8,258.2 368.8,257.6 368.8,256.9 368.8,256.8 368.8,256.0 368.8,255.5 368.8,255.1 368.9,254.8 368.9,254.4 368.9,253.8 368.9,253.3 368.9,252.8 368.9,252.1 369.0,251.4 369.0,251.0 369.0,250.5 369.0,249.9 369.0,249.4 369.0,249.0 369.0,248.4 369.1,248.0 369.1,247.8 369.1,247.0 369.1,246.6 369.1,246.3 369.1,245.4 369.1,245.2 369.2,244.6 369.2,243.9 369.2,243.8 369.2,243.2 369.2,242.4 369.2,242.3 369.3,241.6 369.3,241.1 369.3,240.4 369.3,239.8 369.3,239.7 369.3,239.2 369.3,238.4 369.4,237.8 369.4,237.6 369.4,236.9 369.4,236.5 369.4,236.2 369.4,235.6 369.4,234.8 369.5,234.6 369.5,234.1 369.5,233.6 369.5,233.2 369.5,232.5 369.5,232.1 369.6,231.3 369.6,230.9 369.6,230.4 369.6,230.0 369.7,230.3 369.7,230.3 369.8,230.8 369.9,230.8 370.0,231.2 370.1,231.8 370.2,232.0 370.3,232.7 370.5,233.5 370.6,234.2 370.7,234.9 370.8,235.8 370.8,236.5 370.9,236.9 370.9,236.8 370.9,237.4 371.0,237.9 371.0,238.3 371.0,238.5 371.1,239.3 371.1,239.6 371.1,240.2 371.2,240.7 371.2,241.1 371.2,241.5 371.3,241.9 371.3,242.4 371.3,242.9 371.4,243.7 371.4,244.1 371.5,244.5 371.5,245.3 371.5,245.7 371.6,246.5 371.6,246.8 371.6,247.4 371.7,247.8 371.7,248.7 371.7,249.0 371.8,249.6 371.8,250.1 371.8,250.7 371.9,251.1 371.9,251.7 372.0,252.3 372.0,253.0 372.0,253.2 372.1,253.8 372.1,254.5 372.1,255.0 372.2,255.7 372.2,255.8 372.2,256.5 372.3,257.2 372.3,257.6 372.3,258.0 372.4,258.6 372.4,259.0 372.4,259.4 372.5,259.9 372.5,260.5 372.6,261.3 372.6,261.5 372.6,262.1 372.7,262.8 372.7,263.4 372.7,263.9 372.8,264.2 372.8,264.8 372.8,265.2 372.9,266.1 372.9,266.4 372.9,266.9 373.0,267.3 373.0,268.0 373.0,268.3 373.1,268.9 373.1,269.3 373.1,269.9 373.2,270.5 373.2,270.9 373.2,271.3 373.3,272.2 373.3,272.2 373.4,272.9 373.4,273.3 373.4,273.6 373.5,274.2 373.5,274.7 373.5,275.2 373.6,275.5 373.6,275.9 373.7,276.8 373.7,277.3 373.8,277.8 373.8,278.3 373.9,279.2 373.9,279.8 373.9,280.1 374.0,280.9 374.0,281.2 374.1,281.8 374.1,282.1 374.2,282.8 374.2,283.3 374.3,283.8 374.3,284.5 374.4,285.1 374.4,285.2 374.5,285.9 374.5,286.1 374.6,286.7 374.7,286.9 374.7,287.7 374.8,287.9 374.9,288.3 374.9,288.8 375.0,289.0" fill="none" stroke="#8aa038" stroke-width="2.0" stroke-linejoin="round" stroke-linecap="round"/>
<polyline points="374.1,282.1 374.2,282.8 374.2,283.3 374.3,283.8 374.3,284.5 374.4,285.1 374.4,285.2 374.5,285.9 374.5,286.1 374.6,286.7 374.7,286.9 374.7,287.7 374.8,287.9 374.9,288.3 374.9,288.8 375.0,289.0 375.2,289.7 375.3,290.5 375.5,291.0 375.7,291.7 375.9,291.7 376.1,291.9 376.3,292.4 376.6,294.0 376.8,293.7 377.0,293.1 377.3,293.7 377.6,294.6 378.0,294.8 378.4,295.9 378.9,295.9 379.3,294.7 379.8,296.0 380.3,296.4 380.9,296.0 381.4,296.4 382.0,295.5 382.5,296.0 382.9,296.1 383.4,296.3 383.9,296.1 384.4,296.3 384.9,295.5 385.4,296.2 386.0,295.8 386.5,296.4 387.1,295.3 387.7,295.7 388.4,296.0 388.8,295.8 389.3,295.7 389.7,294.7 390.2,294.7 390.7,294.9 391.2,295.3 391.7,294.3 392.2,295.2 392.8,294.3 393.3,294.3 393.8,294.3 394.3,294.7 394.9,294.9 395.4,295.2 395.9,293.9 396.5,293.6 397.0,294.8 397.5,294.3 398.0,294.8 398.5,294.4 399.0,293.3 399.6,293.6 400.1,293.3 400.6,293.7 401.1,293.3 401.6,294.2 402.1,294.2 402.6,293.0 403.1,294.3 403.6,294.2 404.1,293.2 404.6,294.0 405.1,294.0 405.7,293.7 406.2,293.1 406.7,293.5 407.3,293.7 407.8,293.0 408.3,293.2 408.8,292.6 409.2,292.7 409.7,293.8 410.3,293.0 410.8,293.6 411.3,293.2 411.8,293.7 412.3,293.1 412.8,292.8 413.3,293.7 413.9,293.1 414.4,293.0 414.9,293.5 415.4,293.6 415.9,294.2 416.5,294.0 417.0,293.6 417.5,293.6 418.0,293.9 418.5,293.1 418.9,293.4 419.4,294.0 419.8,294.5 420.1,294.0 420.5,293.4 420.8,294.6 421.2,294.4 421.6,293.5 421.9,293.7 422.3,293.2 422.7,294.4 423.2,293.5 423.7,294.5 424.2,294.4 424.8,294.5 425.5,294.2 426.2,293.7 427.0,293.4 427.8,294.3 428.8,293.4 429.1,294.2 429.5,294.7 429.9,293.6 430.2,294.1 430.6,294.3 431.0,293.7 431.4,293.8 431.9,294.5 432.3,293.8 432.7,293.7 433.2,293.9 433.6,295.0 434.1,295.0 434.6,293.7 435.1,294.5 435.5,294.2 436.0,293.6 436.5,294.0 437.0,294.6 437.6,293.6 438.1,295.2 438.6,294.1 439.1,294.2 439.7,295.2 440.2,293.9 440.7,293.9 441.3,294.4 441.8,294.2 442.4,294.2 442.9,294.7 443.5,295.3 444.0,294.4 444.6,293.8 445.2,294.4 445.7,295.1 446.3,294.5 446.8,293.9 447.4,294.2 448.0,294.2 448.5,294.4 449.1,294.4 449.6,294.9 450.2,295.0 450.8,294.0 451.3,294.1 451.9,295.2 452.4,295.3 452.9,295.2 453.5,294.2 454.0,295.1 454.5,294.1 455.1,295.1 455.6,294.4 456.1,295.4 456.6,295.4 457.1,294.8 457.6,295.2 458.1,295.6 458.6,295.5 459.1,295.1 459.5,295.1 460.0,294.7 460.6,295.2 461.1,294.4 461.7,294.9 462.3,294.3 462.9,294.3 463.5,295.3 464.1,294.9 464.7,294.6 465.3,295.8 465.9,294.7 466.5,295.1 467.1,295.1 467.7,294.6 468.2,295.9 468.8,295.6 469.4,295.8 470.0,294.9 470.6,295.8 471.2,295.9 471.8,295.9 472.4,294.7 473.0,294.7 473.5,294.6 474.1,294.6 474.6,295.6 475.2,294.6 475.8,295.3 476.3,295.1 476.8,295.7 477.3,294.6 477.9,295.7 478.4,296.1 478.9,295.1 479.4,295.3 479.8,295.8 480.3,295.1 480.7,296.0 481.2,296.3 481.6,295.1 482.0,295.5 482.4,295.0 482.8,295.6 483.2,295.4 483.6,296.3 483.9,295.9 484.2,296.4 484.6,296.1 484.9,296.1 485.1,295.4 485.4,295.9" fill="none" stroke="#8aa038" stroke-width="2.4" stroke-linejoin="round" stroke-linecap="round"/>
<polyline points="362.8,296.8 363.3,296.9 363.9,297.0 364.4,297.0 364.9,296.8 365.5,296.9 366.0,296.9 366.5,296.9 367.1,296.9 367.6,296.8 367.6,296.5 367.6,295.9 367.6,295.5 367.7,295.0 367.7,294.5 367.7,293.9 367.7,293.4 367.7,293.0 367.7,292.3 367.8,291.7 367.8,291.5 367.8,290.9 367.8,290.4 367.8,289.9 367.8,289.3 367.8,289.0 367.9,288.4 367.9,288.0 367.9,287.4 367.9,286.9 367.9,286.2 367.9,285.7 367.9,285.3 368.0,284.9 368.0,284.3 368.0,283.7 368.0,283.4 368.0,282.7 368.0,282.4 368.1,281.7 368.1,281.4 368.1,280.8 368.1,280.2 368.1,279.7 368.1,279.2 368.1,278.8 368.2,278.2 368.2,277.8 368.2,277.2 368.2,276.7 368.2,276.3 368.2,275.7 368.2,275.4 368.3,274.7 368.3,274.2 368.3,273.8 368.3,273.4 368.3,272.7 368.3,272.3 368.4,271.7 368.4,271.4 368.4,270.7 368.4,270.1 368.4,269.6 368.4,269.2 368.4,268.8 368.5,268.2 368.5,267.7 368.5,267.2 368.5,266.7 368.5,266.1 368.5,265.7 368.5,265.3 368.6,264.6 368.6,264.3 368.6,263.6 368.6,263.2 368.6,262.6 368.6,262.2 368.7,261.7 368.7,261.2 368.7,260.7 368.7,260.2 368.7,259.6 368.7,259.3 368.7,258.7 368.8,258.1 368.8,257.8 368.8,257.1 368.8,256.7 368.8,256.1 368.8,255.5 368.8,255.2 368.9,254.6 368.9,254.1 368.9,253.8 368.9,253.3 368.9,252.6 368.9,252.2 369.0,251.7 369.0,251.1 369.0,250.5 369.0,250.1 369.0,249.5 369.0,249.2 369.0,248.6 369.1,248.0 369.1,247.7 369.1,247.2 369.1,246.6 369.1,246.2 369.1,245.6 369.1,244.9 369.2,244.6 369.2,244.0 369.2,243.7 369.2,243.1 369.2,242.7 369.2,242.0 369.3,241.5 369.3,240.9 369.3,240.4 369.3,240.1 369.3,239.4 369.3,239.0 369.3,238.5 369.4,238.2 369.4,237.5 369.4,236.9 369.4,236.6 369.4,236.1 369.4,235.4 369.4,235.2 369.5,234.6 369.5,234.2 369.5,233.6 369.5,233.0 369.5,232.6 369.5,231.9 369.6,231.6 369.6,231.0 369.6,230.5 369.6,229.9 369.7,230.1 369.7,230.6 369.8,230.8 369.9,230.9 370.0,231.4 370.1,231.6 370.2,232.2 370.3,232.6 370.5,233.5 370.6,234.1 370.7,235.0 370.8,235.9 370.8,236.5 370.9,236.5 370.9,237.0 370.9,237.4 371.0,237.9 371.0,238.2 371.0,238.8 371.1,239.1 371.1,239.4 371.1,240.0 371.2,240.4 371.2,240.9 371.2,241.5 371.3,242.0 371.3,242.4 371.3,242.9 371.4,243.5 371.4,244.0 371.5,244.6 371.5,245.2 371.5,245.6 371.6,246.1 371.6,246.7 371.6,247.4 371.7,248.0 371.7,248.3 371.7,249.0 371.8,249.5 371.8,250.3 371.8,250.7 371.9,251.3 371.9,251.7 372.0,252.2 372.0,252.8 372.0,253.5 372.1,253.9 372.1,254.6 372.1,255.1 372.2,255.6 372.2,256.2 372.2,256.7 372.3,257.1 372.3,257.4 372.3,258.0 372.4,258.5 372.4,259.1 372.4,259.6 372.5,260.0 372.5,260.5 372.6,261.2 372.6,261.7 372.6,262.2 372.7,262.8 372.7,263.3 372.7,263.9 372.8,264.4 372.8,264.9 372.8,265.3 372.9,266.0 372.9,266.3 372.9,266.9 373.0,267.4 373.0,268.0 373.0,268.6 373.1,268.9 373.1,269.5 373.1,270.1 373.2,270.6 373.2,270.9 373.2,271.6 373.3,271.9 373.3,272.4 373.4,272.8 373.4,273.5 373.4,273.9 373.5,274.4 373.5,274.7 373.5,275.1 373.6,275.6 373.6,275.9 373.7,276.5 373.7,277.4 373.8,277.7 373.8,278.4 373.9,278.9 373.9,279.7 373.9,280.4 374.0,280.6 374.0,281.3 374.1,282.0 374.1,282.3 374.2,282.9 374.2,283.6 374.3,284.0 374.3,284.4 374.4,284.9 374.4,285.4 374.5,285.7 374.5,286.1 374.6,286.6 374.7,287.1 374.7,287.6 374.8,287.9 374.9,288.3 374.9,288.6 375.0,289.1" fill="none" stroke="#d03a8c" stroke-width="2.0" stroke-linejoin="round" stroke-linecap="round"/>
<polyline points="374.1,282.3 374.2,282.9 374.2,283.6 374.3,284.0 374.3,284.4 374.4,284.9 374.4,285.4 374.5,285.7 374.5,286.1 374.6,286.6 374.7,287.1 374.7,287.6 374.8,287.9 374.9,288.3 374.9,288.6 375.0,289.1 375.2,289.6 375.3,290.6 375.5,291.2 375.7,291.1 375.9,291.6 376.1,292.4 376.3,292.6 376.6,293.6 376.8,294.1 377.0,294.1 377.3,294.8 377.6,294.4 378.0,294.7 378.4,295.1 378.9,295.4 379.3,295.3 379.8,296.2 380.3,296.1 380.9,295.7 381.4,295.7 382.0,295.8 382.5,296.0 382.9,296.3 383.4,296.4 383.9,296.6 384.4,295.8 384.9,295.9 385.4,296.1 386.0,296.6 386.5,296.1 387.1,296.3 387.7,296.4 388.4,296.0 388.8,295.9 389.3,296.3 389.7,296.1 390.2,296.4 390.7,295.6 391.2,296.3 391.7,295.7 392.2,296.1 392.8,295.8 393.3,295.6 393.8,295.9 394.3,295.0 394.9,295.2 395.4,295.3 395.9,295.6 396.5,294.9 397.0,295.5 397.5,294.7 398.0,294.9 398.5,295.0 399.0,295.2 399.6,294.9 400.1,295.2 400.6,295.0 401.1,294.6 401.6,294.7 402.1,294.5 402.6,295.0 403.1,294.4 403.6,294.2 404.1,294.2 404.6,294.2 405.1,294.7 405.7,294.5 406.2,294.1 406.7,294.2 407.3,294.7 407.8,294.8 408.3,294.0 408.8,294.7 409.2,293.9 409.7,294.8 410.3,294.2 410.8,294.8 411.3,293.9 411.8,294.6 412.3,294.9 412.8,294.8 413.3,294.6 413.9,294.2 414.4,294.3 414.9,295.0 415.4,295.0 415.9,294.4 416.5,294.5 417.0,294.8 417.5,294.5 418.0,294.4 418.5,295.1 418.9,294.4 419.4,294.9 419.8,294.7 420.1,294.8 420.5,295.2 420.8,295.1 421.2,295.2 421.6,294.4 421.9,295.2 422.3,295.2 422.7,294.5 423.2,294.7 423.7,295.2 424.2,295.4 424.8,295.1 425.5,295.4 426.2,294.7 427.0,294.9 427.8,295.5 428.8,295.4 429.1,294.9 429.5,295.2 429.9,295.1 430.2,295.4 430.6,295.1 431.0,295.0 431.4,295.5 431.9,295.4 432.3,295.1 432.7,295.5 433.2,295.0 433.6,295.3 434.1,295.0 434.6,295.1 435.1,295.2 435.5,294.9 436.0,295.1 436.5,295.2 437.0,295.2 437.6,295.4 438.1,295.8 438.6,295.7 439.1,295.2 439.7,295.0 440.2,295.0 440.7,295.8 441.3,295.7 441.8,295.7 442.4,295.9 442.9,295.4 443.5,295.2 444.0,295.1 444.6,295.4 445.2,295.8 445.7,295.1 446.3,295.5 446.8,295.1 447.4,295.3 448.0,295.6 448.5,295.7 449.1,296.0 449.6,295.4 450.2,295.4 450.8,295.2 451.3,295.3 451.9,295.2 452.4,295.2 452.9,295.3 453.5,295.7 454.0,295.7 454.5,296.1 455.1,295.7 455.6,295.3 456.1,295.4 456.6,296.0 457.1,296.2 457.6,296.0 458.1,295.5 458.6,295.6 459.1,295.8 459.5,295.8 460.0,295.6 460.6,295.5 461.1,295.4 461.7,296.3 462.3,296.4 462.9,296.4 463.5,295.8 464.1,296.1 464.7,295.7 465.3,295.6 465.9,295.5 466.5,295.8 467.1,296.3 467.7,296.1 468.2,295.8 468.8,296.0 469.4,296.1 470.0,295.8 470.6,296.1 471.2,296.5 471.8,296.1 472.4,296.6 473.0,296.4 473.5,295.8 474.1,296.6 474.6,296.4 475.2,296.2 475.8,295.9 476.3,296.4 476.8,296.0 477.3,296.2 477.9,295.9 478.4,296.2 478.9,296.8 479.4,296.4 479.8,296.4 480.3,296.5 480.7,296.5 481.2,296.5 481.6,296.2 482.0,296.1 482.4,296.5 482.8,296.9 483.2,296.8 483.6,296.4 483.9,296.3 484.2,296.6 484.6,296.0 484.9,296.5 485.1,296.8 485.4,297.0" fill="none" stroke="#d03a8c" stroke-width="2.2" stroke-linejoin="round" stroke-linecap="round"/>
<polyline points="362.8,296.5 363.3,296.5 363.9,296.6 364.4,296.6 364.9,296.7 365.5,296.5 366.0,296.5 366.5,296.6 367.1,296.7 367.6,296.5 367.6,296.1 367.6,295.7 367.6,295.1 367.7,294.5 367.7,294.0 367.7,293.7 367.7,293.1 367.7,292.6 367.7,292.1 367.8,291.6 367.8,291.0 367.8,290.5 367.8,290.2 367.8,289.4 367.8,289.1 367.8,288.5 367.9,288.1 367.9,287.5 367.9,287.2 367.9,286.5 367.9,286.0 367.9,285.4 367.9,285.1 368.0,284.6 368.0,283.9 368.0,283.4 368.0,283.0 368.0,282.4 368.0,282.0 368.1,281.6 368.1,281.1 368.1,280.5 368.1,280.1 368.1,279.4 368.1,278.9 368.1,278.4 368.2,278.0 368.2,277.5 368.2,276.9 368.2,276.5 368.2,276.1 368.2,275.6 368.2,275.0 368.3,274.6 368.3,274.0 368.3,273.5 368.3,273.0 368.3,272.4 368.3,272.0 368.4,271.5 368.4,270.9 368.4,270.4 368.4,269.8 368.4,269.5 368.4,268.8 368.4,268.4 368.5,267.8 368.5,267.4 368.5,266.8 368.5,266.5 368.5,265.8 368.5,265.5 368.5,264.9 368.6,264.5 368.6,263.9 368.6,263.3 368.6,262.9 368.6,262.3 368.6,262.0 368.7,261.4 368.7,260.8 368.7,260.4 368.7,259.8 368.7,259.3 368.7,258.7 368.7,258.3 368.8,257.8 368.8,257.3 368.8,256.8 368.8,256.3 368.8,255.9 368.8,255.4 368.8,254.9 368.9,254.4 368.9,253.8 368.9,253.4 368.9,252.7 368.9,252.3 368.9,251.7 369.0,251.5 369.0,250.9 369.0,250.3 369.0,249.9 369.0,249.3 369.0,248.9 369.0,248.4 369.1,247.8 369.1,247.2 369.1,246.8 369.1,246.4 369.1,245.8 369.1,245.3 369.1,244.6 369.2,244.3 369.2,243.9 369.2,243.3 369.2,242.9 369.2,242.4 369.2,241.9 369.3,241.3 369.3,240.8 369.3,240.2 369.3,239.9 369.3,239.3 369.3,238.8 369.3,238.1 369.4,237.8 369.4,237.3 369.4,236.6 369.4,236.2 369.4,235.7 369.4,235.2 369.4,234.6 369.5,234.1 369.5,233.7 369.5,233.1 369.5,232.8 369.5,232.2 369.5,231.6 369.6,231.1 369.6,230.7 369.6,230.2 369.6,229.8 369.7,229.9 369.7,230.3 369.8,230.5 369.9,230.8 370.0,231.1 370.1,231.5 370.2,231.8 370.3,232.4 370.5,233.0 370.6,233.9 370.7,234.6 370.8,235.8 370.8,236.0 370.9,236.3 370.9,236.8 370.9,237.0 371.0,237.5 371.0,237.9 371.0,238.4 371.1,238.8 371.1,239.3 371.1,239.8 371.2,240.3 371.2,240.7 371.2,241.1 371.3,241.7 371.3,242.1 371.3,242.8 371.4,243.2 371.4,243.8 371.5,244.4 371.5,244.9 371.5,245.5 371.6,245.9 371.6,246.5 371.6,247.1 371.7,247.6 371.7,248.2 371.7,248.6 371.8,249.2 371.8,249.9 371.8,250.4 371.9,251.1 371.9,251.5 372.0,252.0 372.0,252.5 372.0,253.2 372.1,253.6 372.1,254.1 372.1,254.7 372.2,255.3 372.2,255.7 372.2,256.1 372.3,256.8 372.3,257.3 372.3,257.7 372.4,258.4 372.4,258.8 372.4,259.4 372.5,259.7 372.5,260.3 372.6,260.9 372.6,261.4 372.6,262.0 372.7,262.5 372.7,262.8 372.7,263.6 372.8,263.9 372.8,264.5 372.8,265.0 372.9,265.6 372.9,266.0 372.9,266.6 373.0,267.1 373.0,267.6 373.0,268.2 373.1,268.6 373.1,269.3 373.1,269.6 373.2,270.1 373.2,270.8 373.2,271.2 373.3,271.8 373.3,272.1 373.4,272.6 373.4,273.1 373.4,273.5 373.5,274.1 373.5,274.4 373.5,274.9 373.6,275.3 373.6,275.7 373.7,276.4 373.7,277.1 373.8,277.4 373.8,278.2 373.9,278.8 373.9,279.3 373.9,279.9 374.0,280.5 374.0,280.9 374.1,281.5 374.1,282.0 374.2,282.7 374.2,283.2 374.3,283.6 374.3,284.2 374.4,284.6 374.4,285.1 374.5,285.4 374.5,286.0 374.6,286.4 374.7,286.9 374.7,287.1 374.8,287.5 374.9,288.0 374.9,288.3 375.0,288.8" fill="none" stroke="#a04070" stroke-width="2.0" stroke-linejoin="round" stroke-linecap="round"/>
<polyline points="374.1,282.0 374.2,282.7 374.2,283.2 374.3,283.6 374.3,284.2 374.4,284.6 374.4,285.1 374.5,285.4 374.5,286.0 374.6,286.4 374.7,286.9 374.7,287.1 374.8,287.5 374.9,288.0 374.9,288.3 375.0,288.8 375.2,289.5 375.3,290.0 375.5,290.8 375.7,291.1 375.9,291.5 376.1,292.1 376.3,292.9 376.6,293.2 376.8,293.3 377.0,293.9 377.3,294.3 377.6,294.0 378.0,295.0 378.4,295.0 378.9,295.3 379.3,295.7 379.8,295.1 380.3,295.5 380.9,295.8 381.4,295.2 382.0,295.6 382.5,295.8 382.9,295.8 383.4,295.8 383.9,296.2 384.4,295.5 384.9,296.1 385.4,295.7 386.0,295.4 386.5,295.8 387.1,295.4 387.7,295.7 388.4,295.4 388.8,295.7 389.3,295.3 389.7,296.1 390.2,295.3 390.7,295.5 391.2,295.6 391.7,295.6 392.2,295.0 392.8,295.7 393.3,295.1 393.8,294.8 394.3,295.1 394.9,295.2 395.4,294.9 395.9,295.2 396.5,294.7 397.0,295.2 397.5,295.2 398.0,295.1 398.5,294.3 399.0,294.6 399.6,294.6 400.1,294.4 400.6,294.2 401.1,294.5 401.6,294.0 402.1,294.0 402.6,294.2 403.1,294.7 403.6,294.1 404.1,294.6 404.6,294.3 405.1,294.2 405.7,294.5 406.2,294.1 406.7,294.2 407.3,294.0 407.8,294.3 408.3,294.4 408.8,293.5 409.2,294.4 409.7,293.5 410.3,294.2 410.8,293.6 411.3,294.3 411.8,294.0 412.3,293.8 412.8,294.5 413.3,293.9 413.9,294.6 414.4,294.1 414.9,294.3 415.4,294.2 415.9,294.6 416.5,294.2 417.0,294.4 417.5,294.1 418.0,294.3 418.5,294.0 418.9,294.2 419.4,294.3 419.8,294.7 420.1,294.2 420.5,294.2 420.8,295.0 421.2,294.7 421.6,294.2 421.9,295.0 422.3,294.9 422.7,294.8 423.2,295.1 423.7,294.7 424.2,294.3 424.8,294.2 425.5,294.3 426.2,294.7 427.0,294.8 427.8,295.2 428.8,294.4 429.1,294.4 429.5,294.5 429.9,294.7 430.2,295.3 430.6,295.2 431.0,294.4 431.4,295.0 431.9,294.6 432.3,294.7 432.7,294.8 433.2,294.7 433.6,294.8 434.1,294.7 434.6,294.8 435.1,295.1 435.5,295.1 436.0,295.2 436.5,294.8 437.0,294.6 437.6,295.1 438.1,294.9 438.6,294.8 439.1,295.0 439.7,295.5 440.2,295.2 440.7,295.3 441.3,294.7 441.8,295.2 442.4,295.4 442.9,295.5 443.5,295.4 444.0,294.7 444.6,295.7 445.2,294.7 445.7,295.5 446.3,295.2 446.8,295.7 447.4,295.7 448.0,295.5 448.5,294.9 449.1,295.4 449.6,294.9 450.2,295.2 450.8,295.0 451.3,295.1 451.9,294.9 452.4,295.4 452.9,295.0 453.5,295.1 454.0,295.7 454.5,295.2 455.1,295.5 455.6,295.8 456.1,295.6 456.6,295.8 457.1,295.9 457.6,295.2 458.1,295.2 458.6,296.0 459.1,295.9 459.5,295.3 460.0,296.0 460.6,295.1 461.1,295.3 461.7,295.9 462.3,295.2 462.9,296.0 463.5,295.3 464.1,295.9 464.7,295.3 465.3,295.7 465.9,295.8 466.5,295.8 467.1,296.1 467.7,295.3 468.2,295.9 468.8,296.1 469.4,295.8 470.0,295.5 470.6,296.1 471.2,295.7 471.8,295.6 472.4,296.1 473.0,296.1 473.5,296.2 474.1,295.9 474.6,295.4 475.2,295.4 475.8,296.0 476.3,295.5 476.8,296.1 477.3,295.6 477.9,296.3 478.4,295.5 478.9,296.2 479.4,295.8 479.8,296.5 480.3,296.0 480.7,296.1 481.2,296.4 481.6,295.9 482.0,296.6 482.4,295.9 482.8,295.7 483.2,295.9 483.6,296.0 483.9,296.3 484.2,295.7 484.6,296.6 484.9,296.5 485.1,296.4 485.4,296.7" fill="none" stroke="#a04070" stroke-width="2.0" stroke-linejoin="round" stroke-linecap="round"/>
<text x="412.6" y="282.8" font-size="9.2" font-weight="normal" font-style="normal" fill="#84a840" stroke="#84a840" stroke-width="0.15" textLength="16.2" lengthAdjust="spacingAndGlyphs">(k1)</text>
<text x="436.4" y="282.8" font-size="9.2" font-weight="normal" font-style="normal" fill="#c040a0" stroke="#c040a0" stroke-width="0.15" textLength="15.3" lengthAdjust="spacingAndGlyphs">(k2)</text>
<text x="461.0" y="284.2" font-size="9.2" font-weight="normal" font-style="normal" fill="#8a5030" stroke="#8a5030" stroke-width="0.15" textLength="16.3" lengthAdjust="spacingAndGlyphs">(k3)</text>
<text x="481.9" y="285.5" font-size="9.2" font-weight="normal" font-style="normal" fill="#3a48a8" stroke="#3a48a8" stroke-width="0.15" textLength="15.6" lengthAdjust="spacingAndGlyphs">(k4)</text>
<polyline points="520.8,301.3 521.3,301.6 521.8,301.7 522.3,301.3 522.8,301.5 523.3,301.4 523.8,301.7 524.3,301.5 524.8,301.7 525.3,301.4 525.8,301.5 525.8,301.1 525.8,300.4 525.8,299.9 525.9,299.3 525.9,299.0 525.9,298.4 525.9,297.8 525.9,297.4 525.9,296.9 525.9,296.3 525.9,296.0 526.0,295.3 526.0,294.8 526.0,294.4 526.0,294.2 526.0,293.6 526.0,292.8 526.0,292.6 526.0,292.2 526.1,291.4 526.1,291.1 526.1,290.5 526.1,290.0 526.1,289.6 526.1,289.0 526.1,288.5 526.1,288.1 526.2,287.4 526.2,286.7 526.2,286.2 526.2,286.0 526.2,285.4 526.2,285.1 526.2,284.6 526.2,283.8 526.3,283.3 526.3,282.9 526.3,282.2 526.3,281.7 526.3,281.2 526.3,280.8 526.3,280.4 526.3,279.7 526.4,279.5 526.4,279.0 526.4,278.5 526.4,277.9 526.4,277.5 526.4,277.0 526.4,276.5 526.5,275.8 526.5,275.4 526.5,275.0 526.5,274.2 526.5,273.8 526.5,273.1 526.5,272.9 526.5,272.2 526.6,271.8 526.6,271.2 526.6,270.6 526.6,270.5 526.6,269.7 526.6,269.5 526.6,268.9 526.6,268.4 526.7,267.8 526.7,267.4 526.7,267.0 526.7,266.2 526.7,265.8 526.7,265.2 526.7,264.6 526.7,264.2 526.8,263.9 526.8,263.5 526.8,262.7 526.8,262.1 526.8,261.6 526.8,261.2 526.8,260.7 526.8,260.5 526.9,259.8 526.9,259.3 526.9,258.8 526.9,258.1 526.9,257.7 526.9,257.2 526.9,256.5 526.9,256.2 527.0,255.8 527.0,255.3 527.0,254.6 527.0,254.0 527.0,253.8 527.0,253.1 527.0,252.5 527.1,252.4 527.1,251.8 527.1,251.4 527.1,250.6 527.1,250.3 527.1,249.9 527.1,249.3 527.1,248.5 527.2,248.1 527.2,247.6 527.2,247.2 527.2,246.7 527.2,246.0 527.2,245.6 527.2,245.0 527.2,244.6 527.3,244.0 527.3,243.5 527.3,242.9 527.3,242.8 527.3,242.0 527.3,241.7 527.3,241.2 527.3,240.4 527.4,240.2 527.4,239.8 527.4,239.0 527.4,238.7 527.4,238.3 527.4,237.7 527.4,237.1 527.4,236.6 527.5,236.2 527.5,235.6 527.5,235.2 527.5,234.7 527.5,234.2 527.5,233.6 527.5,232.9 527.5,232.5 527.6,232.0 527.6,231.6 527.6,230.9 527.6,230.5 527.7,230.7 527.7,231.2 527.8,231.5 527.9,232.2 528.1,232.4 528.2,233.0 528.3,233.8 528.4,234.4 528.6,234.8 528.7,235.6 528.8,236.2 528.9,236.5 529.0,236.8 529.1,237.1 529.2,237.8 529.3,237.9 529.3,238.6 529.4,238.9 529.5,239.3 529.6,240.0 529.7,240.4 529.8,240.8 529.9,241.4 530.0,242.3 530.1,242.8 530.2,243.6 530.3,244.0 530.3,244.1 530.4,244.7 530.4,245.2 530.5,245.5 530.5,245.9 530.6,246.8 530.6,247.0 530.7,247.6 530.7,248.0 530.8,248.8 530.8,249.0 530.9,249.4 530.9,250.2 531.0,250.8 531.0,251.4 531.1,251.6 531.1,252.1 531.2,252.8 531.2,253.2 531.3,253.7 531.3,254.2 531.4,254.7 531.4,255.4 531.5,255.8 531.5,256.3 531.6,256.8 531.7,257.6 531.7,258.1 531.7,258.4 531.8,259.1 531.8,259.3 531.9,259.9 531.9,260.7 532.0,260.8 532.0,261.3 532.1,261.9 532.1,262.4 532.2,262.7 532.2,263.6 532.2,264.1 532.3,264.5 532.3,264.9 532.4,265.5 532.4,265.9 532.5,266.5 532.6,266.8 532.6,267.6 532.7,267.9 532.7,268.3 532.8,269.0 532.9,269.6 532.9,270.0 533.0,270.4 533.1,271.0" fill="none" stroke="#6a3818" stroke-width="2.0" stroke-linejoin="round" stroke-linecap="round"/>
<polyline points="532.1,262.4 532.2,262.7 532.2,263.6 532.2,264.1 532.3,264.5 532.3,264.9 532.4,265.5 532.4,265.9 532.5,266.5 532.6,266.8 532.6,267.6 532.7,267.9 532.7,268.3 532.8,269.0 532.9,269.6 532.9,270.0 533.0,270.4 533.1,271.0 533.1,271.6 533.2,271.9 533.3,272.7 533.4,273.0 533.5,273.6 533.5,274.2 533.6,275.2 533.7,274.8 533.8,275.4 533.9,276.4 534.0,276.2 534.1,277.5 534.2,277.5 534.3,278.2 534.4,279.0 534.5,280.4 534.6,280.5 534.6,280.5 534.7,281.6 534.8,281.8 534.9,281.5 535.0,282.6 535.1,283.5 535.2,284.1 535.3,284.7 535.4,283.6 535.5,284.7 535.6,284.8 535.9,286.0 536.2,287.3 536.5,287.1 536.8,287.5 537.1,288.0 537.6,288.3 538.3,287.9 538.6,287.9 539.0,287.3 539.4,287.8 539.8,287.5 540.3,288.4 540.7,288.3 541.2,287.4 541.7,288.1 542.2,288.5 542.7,288.4 543.3,287.5 543.9,287.4 544.5,287.6 545.1,287.3 545.7,288.1 546.4,287.7 546.8,287.7 547.2,287.8 547.7,286.3 548.1,287.5 548.6,286.4 549.1,286.1 549.6,286.6 550.1,286.1 550.6,285.6 551.1,286.7 551.7,285.3 552.2,285.0 552.7,285.3 553.3,285.8 553.8,285.7 554.3,284.9 554.9,284.7 555.4,284.1 555.9,285.0 556.5,284.8 557.0,283.7 557.5,284.3 558.0,284.5 558.5,283.5 559.0,283.2 559.4,283.9 559.9,283.5 560.4,283.0 561.0,282.2 561.5,282.6 562.0,283.0 562.5,282.0 563.0,282.4 563.5,282.7 564.0,281.8 564.5,281.3 564.9,282.0 565.4,281.9 565.9,281.6 566.4,282.0 566.8,281.0 567.3,281.1 567.8,280.8 568.2,281.4 568.7,280.4 569.2,280.2 569.6,280.3 570.1,280.9 570.6,280.7 571.1,279.7 571.6,280.6 572.1,280.8 572.5,279.7 573.0,280.4 573.5,280.2 573.9,280.0 574.4,279.3 574.8,278.9 575.3,280.3 575.7,279.4 576.2,280.2 576.7,280.2 577.2,280.2 577.7,280.0 578.3,280.0 578.9,280.1 579.4,280.3 580.1,280.3 580.7,280.3 581.4,279.4 581.8,280.4 582.2,279.1 582.7,279.3 583.1,280.4 583.6,279.9 584.0,280.6 584.5,279.6 585.0,279.3 585.5,279.4 586.0,280.7 586.5,280.6 587.0,280.0 587.6,280.5 588.1,279.5 588.6,281.0 589.2,280.0 589.7,280.0 590.2,280.5 590.8,280.5 591.3,280.6 591.9,281.1 592.4,280.3 593.0,281.3 593.5,280.6 594.1,280.8 594.6,281.7 595.1,281.5 595.6,281.5 596.2,281.7 596.7,281.2 597.2,281.1 597.7,281.4 598.2,282.0 598.6,281.0 599.1,281.9 599.6,281.6 600.0,282.4 600.6,282.1 601.2,282.5 601.7,281.8 602.3,281.9 602.8,281.7 603.3,281.7 603.8,281.9 604.3,281.8 604.8,282.6 605.3,282.5 605.8,282.9 606.3,283.0 606.8,283.4 607.2,282.8 607.7,283.0 608.2,282.9 608.6,282.9 609.1,282.8 609.6,282.8 610.1,282.9 610.6,283.3 611.1,283.2 611.6,283.5 612.1,283.7 612.6,284.3 613.2,283.7 613.7,284.5 614.2,283.5 614.7,284.0 615.1,284.0 615.6,283.9 616.1,283.9 616.6,283.7 617.1,284.9 617.7,283.5 618.2,284.8 618.7,284.3 619.2,284.2 619.7,284.2 620.3,285.3 620.8,284.4 621.3,284.8 621.9,284.6 622.4,285.1 622.9,285.0 623.5,285.0 624.0,284.4 624.5,284.3 625.0,285.4 625.6,284.4 626.1,285.3 626.6,285.0 627.1,285.8 627.6,285.2 628.1,284.8 628.6,285.0 629.1,285.3 629.5,285.9 630.0,286.0 630.6,286.3 631.2,286.5 631.8,286.0 632.4,285.2 633.0,286.2 633.6,285.8 634.2,286.2 634.8,285.6 635.4,286.0 636.0,285.8 636.6,286.5 637.1,287.0 637.7,286.1 638.3,286.4 638.8,286.6 639.4,286.9 639.9,286.2 640.4,286.1 640.8,286.8 641.3,286.2 641.7,286.6 642.1,286.8 642.5,286.7 642.8,287.4 643.1,286.4 643.4,286.2" fill="none" stroke="#6a3818" stroke-width="2.8" stroke-linejoin="round" stroke-linecap="round"/>
<polyline points="520.8,301.5 521.3,301.6 521.8,301.6 522.3,301.3 522.8,301.4 523.3,301.4 523.8,301.6 524.3,301.6 524.8,301.4 525.3,301.6 525.8,301.6 525.8,301.1 525.8,300.4 525.8,300.1 525.9,299.4 525.9,299.1 525.9,298.4 525.9,297.9 525.9,297.4 525.9,297.1 525.9,296.6 525.9,296.0 526.0,295.5 526.0,294.9 526.0,294.5 526.0,293.8 526.0,293.5 526.0,293.1 526.0,292.4 526.0,291.9 526.1,291.5 526.1,290.9 526.1,290.6 526.1,289.8 526.1,289.4 526.1,289.0 526.1,288.5 526.1,287.9 526.2,287.3 526.2,287.0 526.2,286.3 526.2,286.0 526.2,285.2 526.2,285.0 526.2,284.5 526.2,283.9 526.3,283.5 526.3,283.0 526.3,282.5 526.3,281.8 526.3,281.2 526.3,280.7 526.3,280.2 526.3,279.9 526.4,279.4 526.4,279.0 526.4,278.3 526.4,277.8 526.4,277.5 526.4,277.0 526.4,276.5 526.5,275.7 526.5,275.5 526.5,274.8 526.5,274.5 526.5,273.7 526.5,273.4 526.5,272.9 526.5,272.4 526.6,271.9 526.6,271.2 526.6,271.0 526.6,270.2 526.6,269.9 526.6,269.3 526.6,268.9 526.6,268.2 526.7,267.9 526.7,267.4 526.7,266.7 526.7,266.5 526.7,265.8 526.7,265.4 526.7,264.7 526.7,264.2 526.8,263.7 526.8,263.1 526.8,262.7 526.8,262.2 526.8,261.8 526.8,261.3 526.8,260.6 526.8,260.4 526.9,259.8 526.9,259.3 526.9,258.7 526.9,258.2 526.9,257.9 526.9,257.2 526.9,256.7 526.9,256.4 527.0,255.7 527.0,255.4 527.0,254.6 527.0,254.3 527.0,253.6 527.0,253.1 527.0,252.6 527.1,252.4 527.1,251.9 527.1,251.3 527.1,250.7 527.1,250.1 527.1,249.7 527.1,249.3 527.1,248.8 527.2,248.0 527.2,247.9 527.2,247.4 527.2,246.7 527.2,246.0 527.2,245.8 527.2,245.2 527.2,244.5 527.3,244.2 527.3,243.5 527.3,243.0 527.3,242.7 527.3,242.3 527.3,241.6 527.3,241.0 527.3,240.6 527.4,240.1 527.4,239.7 527.4,239.1 527.4,238.8 527.4,238.0 527.4,237.5 527.4,237.2 527.4,236.6 527.5,236.0 527.5,235.6 527.5,235.0 527.5,234.7 527.5,234.0 527.5,233.7 527.5,233.2 527.5,232.6 527.6,231.9 527.6,231.6 527.6,231.0 527.6,230.5 527.7,231.0 527.7,231.1 527.8,231.8 527.9,232.0 528.1,232.4 528.2,232.9 528.3,233.8 528.4,234.4 528.6,234.7 528.7,235.4 528.8,235.9 528.9,236.5 529.0,236.8 529.1,237.3 529.2,237.7 529.3,238.0 529.3,238.4 529.4,239.1 529.5,239.5 529.6,239.8 529.7,240.5 529.8,241.1 529.9,241.6 530.0,242.2 530.1,243.0 530.2,243.4 530.3,243.9 530.3,244.2 530.4,244.9 530.4,245.2 530.5,245.8 530.5,246.2 530.6,246.5 530.6,247.1 530.7,247.5 530.7,248.1 530.8,248.6 530.8,249.2 530.9,249.5 530.9,250.2 531.0,250.7 531.0,251.3 531.1,251.6 531.1,252.3 531.2,252.7 531.2,253.4 531.3,254.0 531.3,254.4 531.4,254.9 531.4,255.5 531.5,256.0 531.5,256.7 531.6,257.1 531.7,257.6 531.7,257.9 531.7,258.3 531.8,259.1 531.8,259.4 531.9,260.1 531.9,260.5 532.0,261.1 532.0,261.3 532.1,262.0 532.1,262.4 532.2,262.9 532.2,263.4 532.2,264.1 532.3,264.4 532.3,264.9 532.4,265.3 532.4,265.9 532.5,266.5 532.6,266.8 532.6,267.4 532.7,267.9 532.7,268.5 532.8,268.8 532.9,269.6 532.9,269.9 533.0,270.7 533.1,270.8" fill="none" stroke="#4a58c0" stroke-width="2.0" stroke-linejoin="round" stroke-linecap="round"/>
<polyline points="532.1,262.4 532.2,262.9 532.2,263.4 532.2,264.1 532.3,264.4 532.3,264.9 532.4,265.3 532.4,265.9 532.5,266.5 532.6,266.8 532.6,267.4 532.7,267.9 532.7,268.5 532.8,268.8 532.9,269.6 532.9,269.9 533.0,270.7 533.1,270.8 533.1,271.6 533.2,272.2 533.3,272.5 533.4,273.0 533.5,273.7 533.5,274.1 533.6,274.4 533.7,275.8 533.8,276.1 533.9,276.4 534.0,277.0 534.1,277.9 534.2,278.4 534.3,278.4 534.4,279.0 534.5,279.7 534.6,279.8 534.6,280.7 534.7,280.9 534.8,282.0 534.9,282.1 535.0,282.5 535.1,282.8 535.2,283.3 535.3,283.7 535.4,284.8 535.5,284.6 535.6,285.1 535.9,285.8 536.2,287.3 536.5,287.3 536.8,287.0 537.1,287.8 537.6,287.1 538.3,288.4 538.6,288.2 539.0,287.6 539.4,287.9 539.8,288.5 540.3,288.3 540.7,288.4 541.2,288.1 541.7,287.6 542.2,288.1 542.7,288.0 543.3,287.4 543.9,287.2 544.5,287.7 545.1,288.1 545.7,287.3 546.4,287.5 546.8,286.8 547.2,287.6 547.7,287.6 548.1,286.7 548.6,287.1 549.1,287.0 549.6,286.6 550.1,287.0 550.6,285.8 551.1,286.0 551.7,285.6 552.2,286.3 552.7,286.1 553.3,285.3 553.8,285.7 554.3,285.4 554.9,285.3 555.4,285.0 555.9,285.0 556.5,284.8 557.0,284.4 557.5,284.3 558.0,283.9 558.5,284.4 559.0,284.5 559.4,283.6 559.9,283.9 560.4,283.6 561.0,283.2 561.5,282.9 562.0,282.7 562.5,283.4 563.0,282.5 563.5,282.5 564.0,282.7 564.5,282.2 564.9,282.5 565.4,282.2 565.9,281.8 566.4,282.2 566.8,282.0 567.3,282.3 567.8,281.4 568.2,281.8 568.7,281.5 569.2,281.4 569.6,280.6 570.1,280.9 570.6,281.0 571.1,280.4 571.6,280.4 572.1,281.2 572.5,280.3 573.0,280.8 573.5,280.4 573.9,280.7 574.4,280.5 574.8,280.3 575.3,280.5 575.7,280.3 576.2,281.0 576.7,280.4 577.2,280.0 577.7,280.8 578.3,280.1 578.9,280.8 579.4,280.9 580.1,281.1 580.7,280.6 581.4,281.0 581.8,281.0 582.2,281.1 582.7,280.9 583.1,281.3 583.6,281.1 584.0,280.7 584.5,280.8 585.0,281.4 585.5,281.6 586.0,280.9 586.5,281.7 587.0,281.6 587.6,281.5 588.1,281.2 588.6,281.1 589.2,281.2 589.7,281.8 590.2,281.6 590.8,281.4 591.3,281.4 591.9,282.2 592.4,281.6 593.0,281.6 593.5,282.1 594.1,281.6 594.6,282.1 595.1,281.9 595.6,282.8 596.2,282.5 596.7,282.5 597.2,282.6 597.7,282.1 598.2,283.2 598.6,283.3 599.1,282.3 599.6,283.0 600.0,283.3 600.6,283.5 601.2,283.7 601.7,283.7 602.3,283.8 602.8,283.0 603.3,284.1 603.8,284.1 604.3,283.8 604.8,284.2 605.3,283.5 605.8,283.8 606.3,283.5 606.8,284.0 607.2,284.7 607.7,284.4 608.2,284.2 608.6,284.1 609.1,284.1 609.6,284.4 610.1,284.3 610.6,284.6 611.1,284.8 611.6,284.7 612.1,285.0 612.6,284.9 613.2,285.1 613.7,285.1 614.2,285.6 614.7,285.8 615.1,285.5 615.6,285.7 616.1,285.3 616.6,285.2 617.1,285.4 617.7,285.3 618.2,286.1 618.7,286.4 619.2,286.1 619.7,285.7 620.3,285.6 620.8,286.5 621.3,286.3 621.9,285.9 622.4,287.0 622.9,286.8 623.5,287.1 624.0,287.2 624.5,287.0 625.0,287.3 625.6,287.3 626.1,286.5 626.6,286.8 627.1,287.0 627.6,287.2 628.1,286.7 628.6,286.9 629.1,287.6 629.5,287.9 630.0,287.3 630.6,287.9 631.2,287.9 631.8,288.0 632.4,287.2 633.0,287.5 633.6,287.9 634.2,288.1 634.8,288.2 635.4,287.4 636.0,288.1 636.6,287.4 637.1,287.8 637.7,287.5 638.3,288.1 638.8,287.7 639.4,288.4 639.9,288.1 640.4,288.6 640.8,288.1 641.3,288.9 641.7,287.9 642.1,287.9 642.5,288.4 642.8,288.5 643.1,288.9 643.4,287.9" fill="none" stroke="#4a58c0" stroke-width="2.4" stroke-linejoin="round" stroke-linecap="round"/>
<polyline points="520.8,301.9 521.3,301.9 521.8,302.0 522.3,302.1 522.8,302.1 523.3,301.9 523.8,302.0 524.3,302.1 524.8,302.0 525.3,301.9 525.8,301.9 525.8,301.3 525.8,301.0 525.8,300.4 525.9,299.9 525.9,299.4 525.9,299.1 525.9,298.3 525.9,297.8 525.9,297.3 525.9,296.9 525.9,296.4 526.0,296.1 526.0,295.5 526.0,294.9 526.0,294.3 526.0,294.0 526.0,293.6 526.0,292.8 526.0,292.5 526.1,291.9 526.1,291.6 526.1,291.1 526.1,290.3 526.1,290.0 526.1,289.5 526.1,288.9 526.1,288.4 526.2,288.1 526.2,287.4 526.2,286.9 526.2,286.4 526.2,285.7 526.2,285.5 526.2,284.8 526.2,284.5 526.3,283.7 526.3,283.4 526.3,282.8 526.3,282.5 526.3,281.9 526.3,281.5 526.3,281.0 526.3,280.6 526.4,279.7 526.4,279.3 526.4,278.9 526.4,278.5 526.4,277.8 526.4,277.3 526.4,276.9 526.5,276.3 526.5,275.7 526.5,275.5 526.5,274.8 526.5,274.5 526.5,273.7 526.5,273.3 526.5,272.7 526.6,272.5 526.6,271.8 526.6,271.4 526.6,270.7 526.6,270.3 526.6,269.8 526.6,269.4 526.6,268.7 526.7,268.5 526.7,267.7 526.7,267.3 526.7,266.8 526.7,266.2 526.7,265.6 526.7,265.1 526.7,264.9 526.8,264.5 526.8,263.8 526.8,263.1 526.8,262.7 526.8,262.2 526.8,261.6 526.8,261.2 526.8,260.7 526.9,260.2 526.9,259.9 526.9,259.3 526.9,258.9 526.9,258.2 526.9,257.6 526.9,257.3 526.9,256.8 527.0,256.4 527.0,255.7 527.0,255.3 527.0,254.6 527.0,254.3 527.0,253.8 527.0,253.2 527.1,252.8 527.1,252.2 527.1,251.7 527.1,251.2 527.1,250.7 527.1,250.3 527.1,249.6 527.1,249.2 527.2,248.7 527.2,248.1 527.2,247.8 527.2,247.0 527.2,246.8 527.2,246.0 527.2,245.6 527.2,245.3 527.3,244.7 527.3,244.1 527.3,243.7 527.3,243.3 527.3,242.7 527.3,242.1 527.3,241.8 527.3,241.1 527.4,240.5 527.4,240.2 527.4,239.8 527.4,239.3 527.4,238.6 527.4,238.2 527.4,237.5 527.4,237.1 527.5,236.8 527.5,236.3 527.5,235.8 527.5,235.1 527.5,234.7 527.5,234.1 527.5,233.6 527.5,233.3 527.6,232.7 527.6,232.3 527.6,231.5 527.6,231.1 527.7,231.5 527.7,231.9 527.8,232.2 527.9,232.7 528.1,233.0 528.2,233.7 528.3,234.0 528.4,234.7 528.6,235.1 528.7,235.9 528.8,236.4 528.9,236.9 529.0,237.4 529.1,237.8 529.2,238.3 529.3,238.8 529.3,239.0 529.4,239.5 529.5,240.0 529.6,240.4 529.7,241.1 529.8,241.6 529.9,242.1 530.0,242.7 530.1,243.2 530.2,243.9 530.3,244.5 530.3,244.7 530.4,245.4 530.4,245.5 530.5,246.0 530.5,246.7 530.6,247.2 530.6,247.4 530.7,248.2 530.7,248.6 530.8,248.9 530.8,249.6 530.9,250.0 530.9,250.7 531.0,251.2 531.0,251.8 531.1,252.4 531.1,252.9 531.2,253.4 531.2,253.9 531.3,254.5 531.3,255.0 531.4,255.4 531.4,256.1 531.5,256.7 531.5,256.9 531.6,257.4 531.7,258.0 531.7,258.5 531.7,259.0 531.8,259.5 531.8,259.9 531.9,260.5 531.9,261.0 532.0,261.6 532.0,262.0 532.1,262.3 532.1,262.8 532.2,263.4 532.2,264.0 532.2,264.4 532.3,265.0 532.3,265.3 532.4,265.9 532.4,266.6 532.5,266.8 532.6,267.6 532.6,268.0 532.7,268.3 532.7,268.9 532.8,269.5 532.9,269.8 532.9,270.4 533.0,271.0 533.1,271.5" fill="none" stroke="#8aa038" stroke-width="2.0" stroke-linejoin="round" stroke-linecap="round"/>
<polyline points="532.1,262.8 532.2,263.4 532.2,264.0 532.2,264.4 532.3,265.0 532.3,265.3 532.4,265.9 532.4,266.6 532.5,266.8 532.6,267.6 532.6,268.0 532.7,268.3 532.7,268.9 532.8,269.5 532.9,269.8 532.9,270.4 533.0,271.0 533.1,271.5 533.1,272.1 533.2,272.5 533.3,273.2 533.4,273.5 533.5,274.2 533.5,274.6 533.6,275.4 533.7,276.1 533.8,276.8 533.9,276.4 534.0,277.8 534.1,277.7 534.2,279.2 534.3,279.0 534.4,280.2 534.5,279.9 534.6,281.4 534.6,281.4 534.7,281.5 534.8,282.8 534.9,283.1 535.0,283.5 535.1,283.6 535.2,283.8 535.3,284.6 535.4,285.3 535.5,285.5 535.6,285.8 535.9,286.0 536.2,287.2 536.5,287.4 536.8,288.0 537.1,288.3 537.6,288.3 538.3,287.7 538.6,288.1 539.0,288.2 539.4,288.4 539.8,288.2 540.3,288.1 540.7,288.2 541.2,288.5 541.7,288.9 542.2,288.1 542.7,288.9 543.3,288.5 543.9,288.7 544.5,288.6 545.1,288.3 545.7,288.4 546.4,287.4 546.8,287.9 547.2,287.5 547.7,287.1 548.1,287.1 548.6,287.5 549.1,286.7 549.6,286.6 550.1,287.3 550.6,287.2 551.1,286.1 551.7,286.1 552.2,285.8 552.7,286.2 553.3,286.6 553.8,285.5 554.3,285.8 554.9,285.5 555.4,285.7 555.9,285.4 556.5,285.4 557.0,284.5 557.5,285.4 558.0,285.0 558.5,284.1 559.0,283.8 559.4,284.7 559.9,284.5 560.4,283.9 561.0,284.4 561.5,283.9 562.0,283.6 562.5,282.9 563.0,283.2 563.5,283.0 564.0,282.9 564.5,282.6 564.9,283.1 565.4,282.4 565.9,281.9 566.4,282.0 566.8,282.5 567.3,282.0 567.8,281.7 568.2,282.2 568.7,282.2 569.2,281.5 569.6,281.0 570.1,281.2 570.6,280.9 571.1,281.7 571.6,281.5 572.1,280.9 572.5,281.3 573.0,281.5 573.5,281.6 573.9,280.6 574.4,281.0 574.8,281.2 575.3,280.9 575.7,281.0 576.2,280.9 576.7,280.9 577.2,281.1 577.7,280.9 578.3,280.8 578.9,281.0 579.4,281.5 580.1,280.8 580.7,281.2 581.4,281.0 581.8,281.9 582.2,280.8 582.7,281.3 583.1,282.1 583.6,281.8 584.0,281.3 584.5,282.0 585.0,281.8 585.5,281.3 586.0,281.4 586.5,281.4 587.0,281.8 587.6,282.0 588.1,282.8 588.6,282.8 589.2,282.5 589.7,282.7 590.2,282.7 590.8,283.1 591.3,282.6 591.9,283.0 592.4,282.6 593.0,282.7 593.5,282.9 594.1,283.1 594.6,283.1 595.1,283.6 595.6,283.0 596.2,283.4 596.7,283.8 597.2,284.2 597.7,284.2 598.2,283.9 598.6,284.2 599.1,283.6 599.6,284.7 600.0,284.5 600.6,284.7 601.2,284.0 601.7,284.5 602.3,284.4 602.8,285.2 603.3,285.2 603.8,284.5 604.3,285.6 604.8,284.8 605.3,284.8 605.8,285.4 606.3,285.3 606.8,286.0 607.2,285.0 607.7,286.1 608.2,286.0 608.6,285.6 609.1,285.5 609.6,286.3 610.1,285.5 610.6,285.9 611.1,285.8 611.6,286.2 612.1,287.0 612.6,287.0 613.2,286.7 613.7,286.9 614.2,287.0 614.7,287.2 615.1,287.4 615.6,287.6 616.1,287.7 616.6,287.0 617.1,287.8 617.7,287.1 618.2,287.0 618.7,287.7 619.2,287.1 619.7,288.2 620.3,288.4 620.8,288.3 621.3,287.7 621.9,288.1 622.4,287.6 622.9,288.2 623.5,288.7 624.0,288.0 624.5,288.1 625.0,288.4 625.6,288.5 626.1,288.5 626.6,288.6 627.1,288.4 627.6,289.1 628.1,289.0 628.6,289.2 629.1,288.9 629.5,289.7 630.0,289.6 630.6,289.4 631.2,289.3 631.8,289.9 632.4,289.5 633.0,289.5 633.6,289.8 634.2,289.2 634.8,289.8 635.4,289.4 636.0,290.5 636.6,290.4 637.1,289.6 637.7,289.8 638.3,290.4 638.8,290.3 639.4,290.2 639.9,290.2 640.4,290.1 640.8,290.3 641.3,290.0 641.7,290.0 642.1,290.3 642.5,290.0 642.8,290.3 643.1,290.3 643.4,290.5" fill="none" stroke="#8aa038" stroke-width="2.6" stroke-linejoin="round" stroke-linecap="round"/>
<polyline points="520.8,301.5 521.3,301.7 521.8,301.6 522.3,301.6 522.8,301.5 523.3,301.6 523.8,301.6 524.3,301.3 524.8,301.4 525.3,301.3 525.8,301.6 525.8,300.9 525.8,300.5 525.8,299.8 525.9,299.7 525.9,298.9 525.9,298.3 525.9,297.9 525.9,297.4 525.9,296.8 525.9,296.6 525.9,295.9 526.0,295.3 526.0,295.2 526.0,294.3 526.0,294.1 526.0,293.7 526.0,293.0 526.0,292.6 526.0,291.7 526.1,291.3 526.1,291.1 526.1,290.5 526.1,289.8 526.1,289.3 526.1,288.8 526.1,288.5 526.1,288.0 526.2,287.4 526.2,286.9 526.2,286.4 526.2,285.8 526.2,285.4 526.2,284.7 526.2,284.5 526.2,284.1 526.3,283.3 526.3,282.9 526.3,282.4 526.3,282.0 526.3,281.5 526.3,280.8 526.3,280.5 526.3,279.8 526.4,279.5 526.4,278.9 526.4,278.4 526.4,278.0 526.4,277.2 526.4,276.9 526.4,276.3 526.5,275.7 526.5,275.5 526.5,274.7 526.5,274.2 526.5,273.7 526.5,273.5 526.5,272.9 526.5,272.3 526.6,271.8 526.6,271.3 526.6,270.8 526.6,270.1 526.6,269.7 526.6,269.5 526.6,268.7 526.6,268.4 526.7,267.9 526.7,267.3 526.7,266.9 526.7,266.4 526.7,265.8 526.7,265.4 526.7,264.7 526.7,264.2 526.8,263.8 526.8,263.4 526.8,262.8 526.8,262.1 526.8,261.8 526.8,261.4 526.8,260.6 526.8,260.3 526.9,259.7 526.9,259.3 526.9,258.9 526.9,258.2 526.9,257.6 526.9,257.2 526.9,257.0 526.9,256.0 527.0,255.7 527.0,255.1 527.0,254.7 527.0,254.4 527.0,253.8 527.0,253.3 527.0,252.6 527.1,252.2 527.1,251.8 527.1,251.2 527.1,250.5 527.1,250.4 527.1,249.7 527.1,249.4 527.1,248.8 527.2,248.1 527.2,247.6 527.2,247.4 527.2,246.8 527.2,246.2 527.2,245.5 527.2,245.1 527.2,244.7 527.3,244.0 527.3,243.7 527.3,243.2 527.3,242.6 527.3,242.2 527.3,241.9 527.3,241.3 527.3,240.8 527.4,240.1 527.4,239.6 527.4,239.2 527.4,238.9 527.4,238.1 527.4,237.5 527.4,237.3 527.4,236.5 527.5,236.2 527.5,235.9 527.5,235.2 527.5,234.5 527.5,234.1 527.5,233.8 527.5,233.2 527.5,232.5 527.6,232.1 527.6,231.6 527.6,231.0 527.6,230.5 527.7,230.9 527.7,231.2 527.8,231.9 527.9,232.1 528.1,232.8 528.2,233.0 528.3,233.7 528.4,234.2 528.6,234.8 528.7,235.5 528.8,236.2 528.9,236.6 529.0,236.9 529.1,237.5 529.2,237.9 529.3,238.4 529.3,238.8 529.4,239.0 529.5,239.8 529.6,240.4 529.7,240.8 529.8,241.3 529.9,241.6 530.0,242.6 530.1,243.1 530.2,243.8 530.3,244.3 530.3,244.4 530.4,244.8 530.4,245.6 530.5,246.1 530.5,246.2 530.6,246.8 530.6,247.5 530.7,247.9 530.7,248.4 530.8,249.1 530.8,249.2 530.9,249.9 530.9,250.3 531.0,251.2 531.0,251.6 531.1,252.0 531.1,252.8 531.2,253.3 531.2,253.7 531.3,254.4 531.3,254.6 531.4,255.4 531.4,256.0 531.5,256.2 531.5,256.9 531.6,257.5 531.7,258.0 531.7,258.3 531.7,258.8 531.8,259.2 531.8,259.9 531.9,260.5 531.9,260.8 532.0,261.5 532.0,261.8 532.1,262.3 532.1,262.9 532.2,263.5 532.2,264.0 532.2,264.3 532.3,264.8 532.3,265.4 532.4,266.0 532.4,266.5 532.5,266.8 532.6,267.5 532.6,268.0 532.7,268.4 532.7,268.8 532.8,269.5 532.9,269.7 532.9,270.5 533.0,270.9 533.1,271.6" fill="none" stroke="#d03a8c" stroke-width="2.0" stroke-linejoin="round" stroke-linecap="round"/>
<polyline points="532.1,262.9 532.2,263.5 532.2,264.0 532.2,264.3 532.3,264.8 532.3,265.4 532.4,266.0 532.4,266.5 532.5,266.8 532.6,267.5 532.6,268.0 532.7,268.4 532.7,268.8 532.8,269.5 532.9,269.7 532.9,270.5 533.0,270.9 533.1,271.6 533.1,272.0 533.2,272.4 533.3,273.0 533.4,273.6 533.5,274.0 533.5,274.6 533.6,275.5 533.7,275.4 533.8,277.0 533.9,277.0 534.0,277.3 534.1,277.7 534.2,278.4 534.3,279.1 534.4,279.3 534.5,280.1 534.6,281.5 534.6,282.0 534.7,282.5 534.8,283.1 534.9,283.2 535.0,284.0 535.1,284.0 535.2,284.1 535.3,284.2 535.4,285.2 535.5,286.0 535.6,286.3 535.9,287.4 536.2,287.4 536.5,288.2 536.8,288.9 537.1,288.7 537.6,289.0 538.3,289.2 538.6,288.8 539.0,289.4 539.4,288.7 539.8,289.4 540.3,288.9 540.7,288.7 541.2,289.5 541.7,289.5 542.2,289.3 542.7,289.0 543.3,288.7 543.9,289.5 544.5,289.2 545.1,289.1 545.7,289.3 546.4,288.1 546.8,289.1 547.2,289.1 547.7,288.1 548.1,287.9 548.6,288.9 549.1,288.0 549.6,288.3 550.1,288.7 550.6,287.6 551.1,287.9 551.7,287.2 552.2,288.2 552.7,288.1 553.3,287.4 553.8,287.8 554.3,286.8 554.9,287.6 555.4,287.4 555.9,287.2 556.5,286.1 557.0,286.4 557.5,286.8 558.0,286.9 558.5,286.3 559.0,286.5 559.4,286.1 559.9,286.2 560.4,285.6 561.0,285.4 561.5,286.2 562.0,285.7 562.5,285.2 563.0,285.1 563.5,285.0 564.0,285.2 564.5,284.6 564.9,284.9 565.4,284.6 565.9,284.5 566.4,284.4 566.8,283.9 567.3,285.0 567.8,284.0 568.2,284.6 568.7,284.8 569.2,283.9 569.6,283.8 570.1,284.2 570.6,284.6 571.1,283.9 571.6,284.1 572.1,283.3 572.5,283.5 573.0,283.7 573.5,284.0 573.9,283.6 574.4,284.1 574.8,284.2 575.3,283.4 575.7,283.8 576.2,283.2 576.7,283.5 577.2,283.9 577.7,284.3 578.3,283.4 578.9,284.3 579.4,284.2 580.1,284.5 580.7,283.5 581.4,284.2 581.8,283.8 582.2,284.7 582.7,284.6 583.1,284.1 583.6,285.2 584.0,285.2 584.5,284.5 585.0,284.4 585.5,285.2 586.0,284.7 586.5,285.5 587.0,284.8 587.6,285.7 588.1,285.1 588.6,285.5 589.2,285.3 589.7,285.8 590.2,285.1 590.8,285.6 591.3,285.7 591.9,286.2 592.4,286.6 593.0,286.3 593.5,287.0 594.1,286.0 594.6,286.9 595.1,286.6 595.6,286.4 596.2,286.7 596.7,286.8 597.2,287.1 597.7,287.2 598.2,287.7 598.6,287.8 599.1,287.4 599.6,288.0 600.0,287.8 600.6,287.2 601.2,288.4 601.7,288.5 602.3,288.3 602.8,288.2 603.3,288.9 603.8,289.1 604.3,288.6 604.8,288.0 605.3,288.7 605.8,288.4 606.3,288.8 606.8,289.1 607.2,288.7 607.7,288.6 608.2,289.2 608.6,289.6 609.1,289.5 609.6,290.0 610.1,290.3 610.6,290.4 611.1,289.6 611.6,289.9 612.1,290.1 612.6,289.7 613.2,290.8 613.7,290.7 614.2,291.1 614.7,290.3 615.1,290.6 615.6,290.7 616.1,290.2 616.6,290.5 617.1,291.2 617.7,291.6 618.2,290.5 618.7,291.0 619.2,291.3 619.7,291.3 620.3,291.2 620.8,291.1 621.3,291.4 621.9,291.2 622.4,291.6 622.9,291.3 623.5,292.6 624.0,292.3 624.5,292.2 625.0,292.1 625.6,292.6 626.1,292.3 626.6,293.0 627.1,293.1 627.6,292.4 628.1,292.8 628.6,292.7 629.1,293.6 629.5,292.7 630.0,292.5 630.6,292.8 631.2,293.9 631.8,293.5 632.4,293.8 633.0,293.5 633.6,293.9 634.2,293.6 634.8,293.8 635.4,294.0 636.0,294.3 636.6,294.6 637.1,294.2 637.7,294.5 638.3,293.7 638.8,293.8 639.4,294.8 639.9,293.7 640.4,294.3 640.8,294.1 641.3,294.5 641.7,294.2 642.1,295.1 642.5,294.0 642.8,295.1 643.1,295.3 643.4,294.6" fill="none" stroke="#d03a8c" stroke-width="3.6" stroke-linejoin="round" stroke-linecap="round"/>
<polyline points="615.0,270.0 612.8,284.7" fill="none" stroke="#8a8a30" stroke-width="1.5" stroke-linejoin="round" stroke-linecap="round"/>
<polygon points="612.4,287.2 611.0,282.2 615.2,282.8" fill="#8a8a30"/>
<polyline points="632.6,271.8 629.9,284.2" fill="none" stroke="#4a58c0" stroke-width="1.5" stroke-linejoin="round" stroke-linecap="round"/>
<polygon points="629.4,286.6 628.3,281.5 632.5,282.4" fill="#4a58c0"/>
<text x="604.3" y="266.3" font-size="9.2" font-weight="normal" font-style="normal" fill="#84a840" stroke="#84a840" stroke-width="0.15" textLength="14.7" lengthAdjust="spacingAndGlyphs">(l1)</text>
<text x="632.6" y="267.9" font-size="9.2" font-weight="normal" font-style="normal" fill="#3a48a8" stroke="#3a48a8" stroke-width="0.15" textLength="14.8" lengthAdjust="spacingAndGlyphs">(l4)</text>
<text x="645.5" y="289.5" font-size="9.2" font-weight="normal" font-style="normal" fill="#8a5030" stroke="#8a5030" stroke-width="0.15" textLength="14.0" lengthAdjust="spacingAndGlyphs">(l3)</text>
<text x="615.0" y="301.5" font-size="9.2" font-weight="normal" font-style="normal" fill="#c040a0" stroke="#c040a0" stroke-width="0.15" textLength="15.0" lengthAdjust="spacingAndGlyphs">(l2)</text>
</svg></div></body></html>
